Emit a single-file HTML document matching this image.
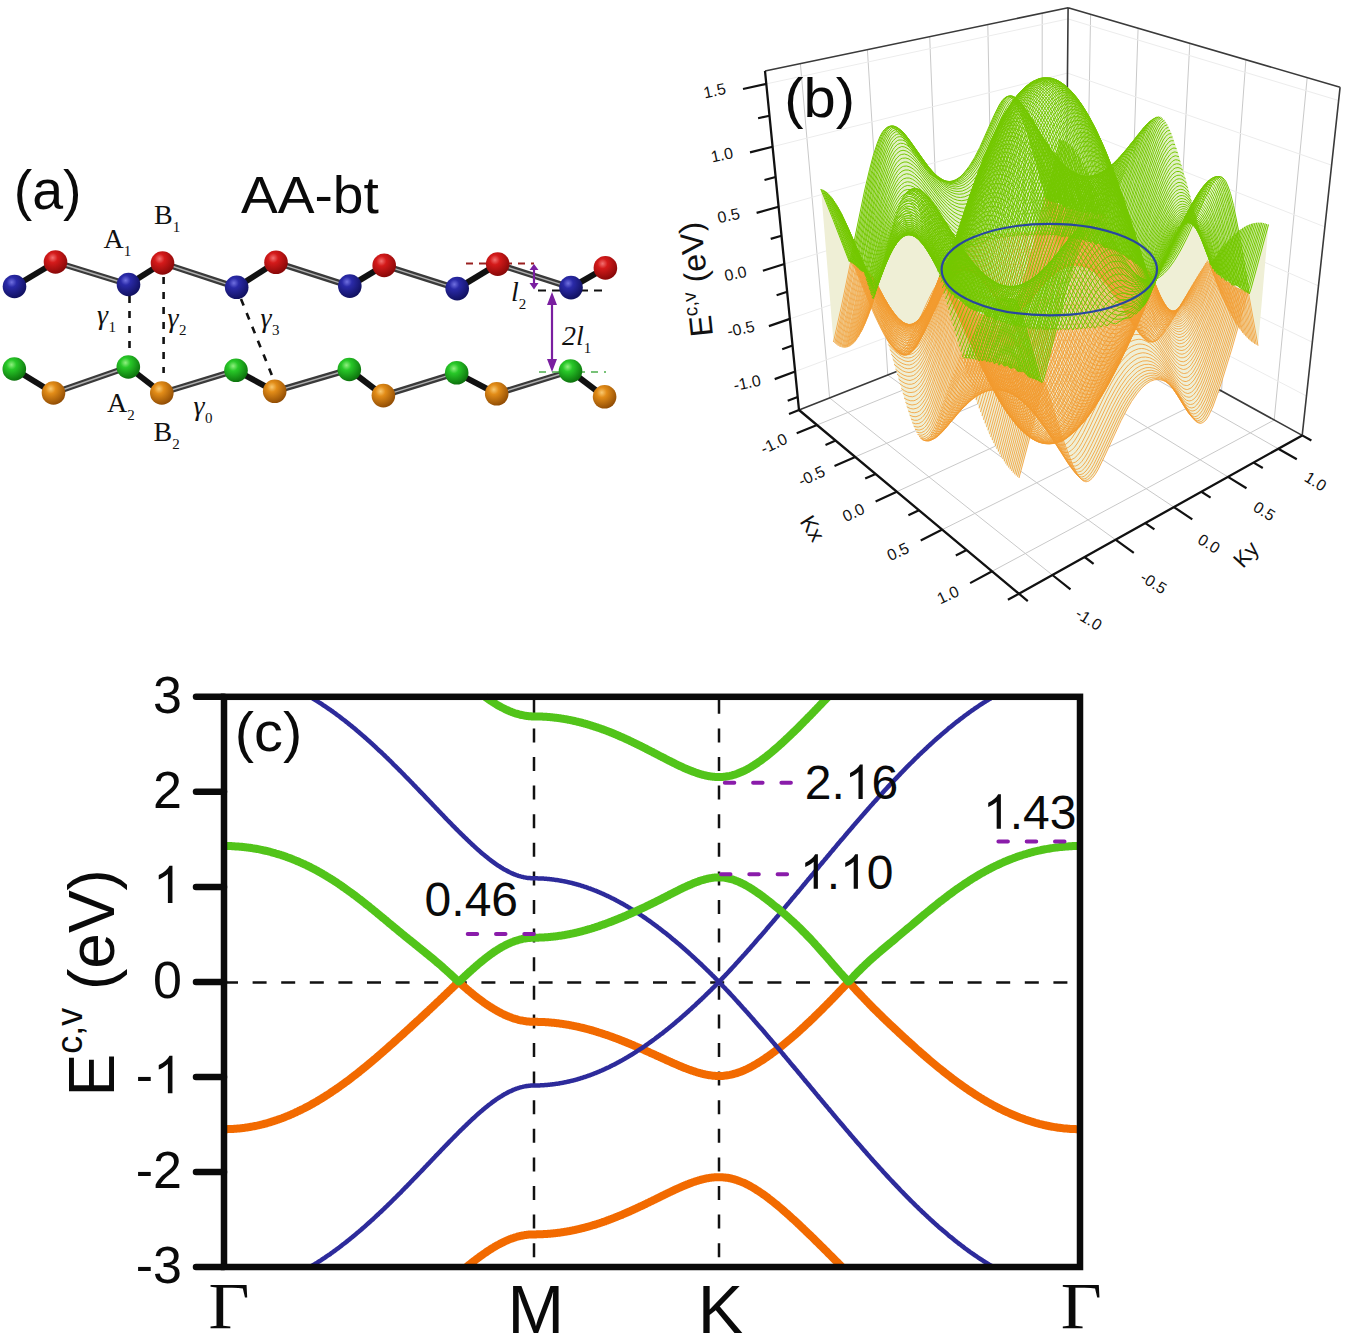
<!DOCTYPE html>
<html><head><meta charset="utf-8"><title>AA-bt band structure</title>
<style>html,body{margin:0;padding:0;background:#fff;}svg{display:block;}</style>
</head><body>
<svg width="1345" height="1334" viewBox="0 0 1345 1334">
<rect width="1345" height="1334" fill="#fff"/>
<defs>
<radialGradient id="gr" cx="0.38" cy="0.32" r="0.7"><stop offset="0" stop-color="#f27070"/><stop offset="0.3" stop-color="#d41a1a"/><stop offset="1" stop-color="#860808"/></radialGradient>
<radialGradient id="gb" cx="0.38" cy="0.32" r="0.7"><stop offset="0" stop-color="#7070e0"/><stop offset="0.3" stop-color="#2a2aa8"/><stop offset="1" stop-color="#10105e"/></radialGradient>
<radialGradient id="gg" cx="0.38" cy="0.32" r="0.7"><stop offset="0" stop-color="#90f080"/><stop offset="0.3" stop-color="#28c828"/><stop offset="1" stop-color="#0c700c"/></radialGradient>
<radialGradient id="go" cx="0.38" cy="0.32" r="0.7"><stop offset="0" stop-color="#f8c870"/><stop offset="0.3" stop-color="#e28c18"/><stop offset="1" stop-color="#904c04"/></radialGradient>
</defs>
<line x1="14.5" y1="286.5" x2="55.5" y2="262.0" stroke="#111" stroke-width="6"/>
<line x1="55.5" y1="262.0" x2="128.5" y2="284.5" stroke="#3a3a3a" stroke-width="6"/>
<line x1="55.5" y1="262.0" x2="128.5" y2="284.5" stroke="#b0b0b0" stroke-width="1.4"/>
<line x1="128.5" y1="284.5" x2="162.5" y2="263.0" stroke="#111" stroke-width="6"/>
<line x1="162.5" y1="263.0" x2="236.7" y2="287.3" stroke="#3a3a3a" stroke-width="6"/>
<line x1="162.5" y1="263.0" x2="236.7" y2="287.3" stroke="#b0b0b0" stroke-width="1.4"/>
<line x1="236.7" y1="287.3" x2="276.0" y2="262.3" stroke="#111" stroke-width="6"/>
<line x1="276.0" y1="262.3" x2="349.8" y2="286.1" stroke="#3a3a3a" stroke-width="6"/>
<line x1="276.0" y1="262.3" x2="349.8" y2="286.1" stroke="#b0b0b0" stroke-width="1.4"/>
<line x1="349.8" y1="286.1" x2="384.2" y2="265.4" stroke="#111" stroke-width="6"/>
<line x1="384.2" y1="265.4" x2="457.2" y2="288.6" stroke="#3a3a3a" stroke-width="6"/>
<line x1="384.2" y1="265.4" x2="457.2" y2="288.6" stroke="#b0b0b0" stroke-width="1.4"/>
<line x1="457.2" y1="288.6" x2="497.7" y2="264.1" stroke="#111" stroke-width="6"/>
<line x1="497.7" y1="264.1" x2="571.0" y2="287.6" stroke="#3a3a3a" stroke-width="6"/>
<line x1="497.7" y1="264.1" x2="571.0" y2="287.6" stroke="#b0b0b0" stroke-width="1.4"/>
<line x1="571.0" y1="287.6" x2="605.4" y2="267.9" stroke="#111" stroke-width="6"/>
<line x1="14.3" y1="369.0" x2="53.5" y2="393.0" stroke="#111" stroke-width="6"/>
<line x1="53.5" y1="393.0" x2="128.3" y2="367.0" stroke="#3a3a3a" stroke-width="6"/>
<line x1="53.5" y1="393.0" x2="128.3" y2="367.0" stroke="#b0b0b0" stroke-width="1.4"/>
<line x1="128.3" y1="367.0" x2="161.8" y2="393.0" stroke="#111" stroke-width="6"/>
<line x1="161.8" y1="393.0" x2="236.0" y2="370.3" stroke="#3a3a3a" stroke-width="6"/>
<line x1="161.8" y1="393.0" x2="236.0" y2="370.3" stroke="#b0b0b0" stroke-width="1.4"/>
<line x1="236.0" y1="370.3" x2="274.7" y2="391.3" stroke="#111" stroke-width="6"/>
<line x1="274.7" y1="391.3" x2="349.3" y2="369.5" stroke="#3a3a3a" stroke-width="6"/>
<line x1="274.7" y1="391.3" x2="349.3" y2="369.5" stroke="#b0b0b0" stroke-width="1.4"/>
<line x1="349.3" y1="369.5" x2="383.4" y2="395.6" stroke="#111" stroke-width="6"/>
<line x1="383.4" y1="395.6" x2="456.7" y2="372.8" stroke="#3a3a3a" stroke-width="6"/>
<line x1="383.4" y1="395.6" x2="456.7" y2="372.8" stroke="#b0b0b0" stroke-width="1.4"/>
<line x1="456.7" y1="372.8" x2="496.7" y2="393.8" stroke="#111" stroke-width="6"/>
<line x1="496.7" y1="393.8" x2="570.5" y2="371.0" stroke="#3a3a3a" stroke-width="6"/>
<line x1="496.7" y1="393.8" x2="570.5" y2="371.0" stroke="#b0b0b0" stroke-width="1.4"/>
<line x1="570.5" y1="371.0" x2="604.6" y2="396.8" stroke="#111" stroke-width="6"/>
<g stroke="#111" stroke-width="2.6" stroke-dasharray="7 8" fill="none">
<path d="M129.5 296V349"/>
<path d="M163.6 277V373"/>
<path d="M241 299L273 378"/>
</g>
<path d="M466 263.5H534" stroke="#9a2020" stroke-width="1.8" stroke-dasharray="7 6"/>
<path d="M538 290.5H606" stroke="#111" stroke-width="2.2" stroke-dasharray="8 6"/>
<path d="M539 372H606" stroke="#4caf4c" stroke-width="1.6" stroke-dasharray="7 6"/>
<circle cx="14.5" cy="286.5" r="11.8" fill="url(#gb)"/>
<circle cx="55.5" cy="262.0" r="11.8" fill="url(#gr)"/>
<circle cx="128.5" cy="284.5" r="11.8" fill="url(#gb)"/>
<circle cx="162.5" cy="263.0" r="11.8" fill="url(#gr)"/>
<circle cx="236.7" cy="287.3" r="11.8" fill="url(#gb)"/>
<circle cx="276.0" cy="262.3" r="11.8" fill="url(#gr)"/>
<circle cx="349.8" cy="286.1" r="11.8" fill="url(#gb)"/>
<circle cx="384.2" cy="265.4" r="11.8" fill="url(#gr)"/>
<circle cx="457.2" cy="288.6" r="11.8" fill="url(#gb)"/>
<circle cx="497.7" cy="264.1" r="11.8" fill="url(#gr)"/>
<circle cx="571.0" cy="287.6" r="11.8" fill="url(#gb)"/>
<circle cx="605.4" cy="267.9" r="11.8" fill="url(#gr)"/>
<circle cx="14.3" cy="369.0" r="11.8" fill="url(#gg)"/>
<circle cx="53.5" cy="393.0" r="11.8" fill="url(#go)"/>
<circle cx="128.3" cy="367.0" r="11.8" fill="url(#gg)"/>
<circle cx="161.8" cy="393.0" r="11.8" fill="url(#go)"/>
<circle cx="236.0" cy="370.3" r="11.8" fill="url(#gg)"/>
<circle cx="274.7" cy="391.3" r="11.8" fill="url(#go)"/>
<circle cx="349.3" cy="369.5" r="11.8" fill="url(#gg)"/>
<circle cx="383.4" cy="395.6" r="11.8" fill="url(#go)"/>
<circle cx="456.7" cy="372.8" r="11.8" fill="url(#gg)"/>
<circle cx="496.7" cy="393.8" r="11.8" fill="url(#go)"/>
<circle cx="570.5" cy="371.0" r="11.8" fill="url(#gg)"/>
<circle cx="604.6" cy="396.8" r="11.8" fill="url(#go)"/>
<g stroke="#7a1fa0" stroke-width="2.2" fill="#7a1fa0">
<path d="M534 268V285" />
<path d="M529.5 270L534 264L538.5 270Z M529.5 283L534 289.5L538.5 283Z" stroke="none"/>
<path d="M552 302V362"/>
<path d="M547 305L552 292L557 305Z M547 359L552 372L557 359Z" stroke="none"/>
</g>
<g font-family="'Liberation Serif', serif" fill="#111" font-size="28">
<text x="103.5" y="247.5"><tspan>A</tspan><tspan font-size="15" dy="8" dx="0.0">1</tspan></text>
<text x="154.0" y="224.0"><tspan>B</tspan><tspan font-size="15" dy="8" dx="0.0">1</tspan></text>
<text x="107.0" y="411.5"><tspan>A</tspan><tspan font-size="15" dy="8" dx="0.0">2</tspan></text>
<text x="153.5" y="440.5"><tspan>B</tspan><tspan font-size="15" dy="8" dx="0.0">2</tspan></text>
<text x="97.0" y="324.0"><tspan font-style="italic">&#947;</tspan><tspan font-size="15" dy="8" dx="0.5">1</tspan></text>
<text x="167.5" y="327.0"><tspan font-style="italic">&#947;</tspan><tspan font-size="15" dy="8" dx="0.5">2</tspan></text>
<text x="260.5" y="327.0"><tspan font-style="italic">&#947;</tspan><tspan font-size="15" dy="8" dx="0.5">3</tspan></text>
<text x="193.5" y="415.0"><tspan font-style="italic">&#947;</tspan><tspan font-size="15" dy="8" dx="0.5">0</tspan></text>
<text x="511.0" y="301.0"><tspan font-style="italic">l</tspan><tspan font-size="15" dy="8" dx="0.0">2</tspan></text>
<text x="562.0" y="345.0"><tspan font-style="italic">2l</tspan><tspan font-size="15" dy="8" dx="0.0">1</tspan></text>
</g>
<text x="13.7" y="208.9" font-family="'Liberation Sans', sans-serif" font-size="55.5" fill="#0a0a0a">(a)</text>
<text x="240.9" y="213.2" font-family="'Liberation Sans', sans-serif" font-size="51" textLength="137.9" lengthAdjust="spacingAndGlyphs" fill="#0a0a0a">AA-bt</text>
<path d="M829.6 397.9L800.4 63.6M1085.3 316.0L1090.6 14.3M817.0 425.0L1085.3 316.0M829.6 397.9L1052.4 575.0M887.8 375.0L867.4 49.7M1127.4 339.2L1138.1 28.2M855.2 456.9L1127.4 339.2M887.8 375.0L1115.5 539.7M942.4 353.4L929.7 36.6M1172.7 364.1L1189.8 43.3M896.8 491.7L1172.7 364.1M942.4 353.4L1173.9 507.1M993.8 333.2L987.8 24.5M1221.5 391.0L1245.9 59.7M942.3 529.6L1221.5 391.0M993.8 333.2L1228.0 476.9M1042.2 314.1L1042.2 13.2M1274.2 420.0L1307.2 77.6M992.1 571.3L1274.2 420.0M1042.2 314.1L1278.3 448.8" stroke="#c9c9c9" stroke-width="1" fill="none"/>
<path d="M795.2 371.5L1065.7 270.6M1065.7 270.6L1306.5 396.0M789.9 318.9L1066.1 223.9M1066.1 223.9L1312.3 342.2M784.4 264.0L1066.6 175.5M1066.6 175.5L1318.5 285.9M778.6 206.7L1067.0 125.3M1067.0 125.3L1324.9 226.9M772.6 146.7L1067.5 73.1M1067.5 73.1L1331.6 165.2M766.3 83.9L1068.0 18.9M1068.0 18.9L1338.6 100.5" stroke="#ececec" stroke-width="1" fill="none"/>
<path d="M765.0 71.0L1068.1 7.8M1068.1 7.8L1340.1 87.2M1340.1 87.2L1302.2 435.4M1068.1 7.8L1065.3 305.0M799.0 410.0L1065.3 305.0M1065.3 305.0L1302.2 435.4" stroke="#3a3a3a" stroke-width="1.6" fill="none"/>
<path d="M886.5 127.5 879.5 137.0 873.0 155.5 854.0 240.5 836.5 204.0 827.0 192.5 821.0 189.0 833.5 342.0 842.0 347.5 847.5 347.5 853.0 344.0 859.0 336.0 867.0 319.5 870.5 309.0 872.0 308.5 875.0 317.0 887.0 339.5 909.5 415.5 914.0 427.5 921.0 439.0 929.0 441.0 936.5 437.5 943.5 431.0 959.5 411.5 975.0 397.5 989.0 434.0 996.0 448.0 1006.0 464.5 1019.0 478.0 1030.0 437.5 1042.5 443.5 1055.5 443.5 1074.5 472.5 1082.5 480.5 1087.5 481.5 1093.0 477.5 1099.0 468.5 1118.5 425.0 1132.5 399.5 1141.0 388.5 1149.0 382.0 1154.5 379.5 1161.0 379.5 1166.5 382.0 1173.0 388.5 1187.5 412.0 1196.0 421.5 1200.5 423.5 1205.5 420.5 1213.0 406.5 1220.0 387.5 1237.5 328.5 1238.5 327.5 1250.5 341.0 1258.0 345.5 1268.5 224.5 1261.5 222.5 1254.0 223.0 1248.0 225.0 1239.0 230.5 1228.0 186.0 1224.5 179.5 1221.0 177.0 1216.5 178.5 1212.5 183.5 1196.0 217.5 1186.5 181.5 1171.5 133.5 1166.5 123.0 1161.0 117.0 1158.5 116.5 1155.0 118.0 1146.5 128.5 1114.0 197.0 1104.0 215.0 1092.0 181.0 1081.5 159.5 1073.0 147.5 1069.0 143.5 1060.0 139.5 1048.5 190.5 1046.5 195.0 1045.0 195.0 1036.0 160.5 1023.5 121.0 1016.0 103.5 1012.5 98.5 1009.5 96.5 1004.0 98.5 998.0 106.5 981.5 144.5 971.0 164.0 958.5 178.5 952.0 181.5 942.5 181.5 933.0 176.0 919.0 161.0 902.5 136.5 893.5 128.0 890.0 126.5Z" fill="#EFEFD6" fill-rule="evenodd"/>
<path d="M1049.0 77.5 1037.5 79.0 1027.5 84.5 1015.5 97.0 1008.0 96.0 1002.0 100.5 996.0 110.5 981.5 144.5 972.0 162.5 965.0 172.0 958.5 178.5 953.5 181.0 946.5 181.5 937.5 176.5 931.0 170.0 905.0 134.0 900.5 129.5 893.0 126.0 886.5 127.5 879.5 137.0 873.0 155.5 854.0 240.5 836.5 204.0 827.0 192.5 821.0 189.0 848.0 258.0 856.0 263.0 864.0 272.5 872.0 298.0 875.0 294.0 887.0 260.5 894.0 247.0 902.5 237.0 907.0 235.0 911.5 235.0 917.0 238.0 924.0 245.5 936.0 266.0 961.0 353.0 963.5 357.0 967.0 354.0 969.5 358.5 972.0 355.0 975.0 360.5 977.5 356.0 980.5 359.0 983.0 359.0 985.5 356.5 988.5 362.5 993.5 358.5 996.5 364.5 1001.0 360.5 1007.0 367.5 1011.5 365.0 1015.0 365.0 1020.0 373.0 1030.5 374.0 1043.0 379.5 1057.5 325.5 1058.5 325.5 1061.0 330.5 1063.5 324.5 1066.5 329.0 1069.0 325.5 1074.5 328.5 1077.0 324.0 1080.0 328.0 1085.0 324.5 1088.0 328.5 1091.0 324.0 1093.5 324.0 1096.0 327.5 1101.5 322.0 1107.0 326.0 1112.5 320.0 1116.5 321.5 1123.5 320.5 1131.0 316.0 1134.0 312.5 1136.5 313.5 1140.0 308.5 1145.0 304.5 1156.5 279.0 1169.0 268.5 1177.5 256.0 1193.0 225.5 1196.5 229.0 1201.0 238.0 1210.5 264.0 1216.0 272.5 1217.5 272.0 1219.5 275.5 1223.0 276.0 1227.5 282.0 1229.5 283.0 1235.5 282.5 1241.5 287.5 1249.0 291.5 1252.5 284.0 1268.5 225.0 1264.0 223.0 1256.5 222.5 1248.0 225.0 1239.0 230.5 1228.0 186.0 1224.5 179.5 1219.5 176.5 1214.0 177.0 1210.5 179.0 1202.5 187.0 1192.0 202.5 1178.0 152.5 1171.5 133.5 1166.5 123.0 1160.0 116.5 1152.0 119.5 1148.0 123.0 1123.5 153.0 1111.5 165.0 1099.5 136.5 1081.5 103.5 1065.5 85.5 1056.0 79.5Z" fill="#DDF0C0" fill-rule="evenodd" fill-opacity="0.80"/>
<path transform="scale(0.25)" d="M3334 1368l32-144 37-179 6 2 81 195 28 60 20 39 20 32 12 15 13 10 5 3 12 1 6-2 10-8 11-13 10-17 21-41 56-123 20-39 16-26 21-28 16-16 16-13 16-8 16-4 16 1 16 4 22 12 16 13 21 22 22 27 41 57 21 24 10 7 10 4 10-2 10-7 9-13 15-29 9-25 15-45 33-124 49-201 5 12 51 181M3339 1372l32-144 36-179 7 0 81 196 28 61 20 40 19 32 13 15 12 11 6 3 11 1 6-2 11-7 11-13 10-17 20-41 56-124 21-39 15-25 21-29 16-16 16-13 16-8 16-4 16 1 17 4 21 12 16 13 22 23 21 26 42 58 20 23 10 8 10 3 10-2 10-7 10-13 14-30 10-26 14-46 34-125 48-201 5 13 52 181M3343 1376l32-145 37-179 6 0 81 196 28 62 20 39 20 33 12 16 12 11 6 3 12 1 5-1 11-8 11-12 10-17 21-42 56-124 20-39 16-25 21-29 16-16 16-13 16-8 16-4 16 1 16 4 22 12 16 13 21 23 22 26 41 58 21 23 10 8 10 3 10-2 10-7 9-14 15-31 9-26 15-45 33-127 49-201 5 13 52 182M3347 1379l32-145 37-179 6-1 81 197 28 62 20 40 20 32 12 16 13 11 5 3 12 2 6-1 11-8 10-13 11-16 20-42 56-124 21-39 15-26 21-28 16-17 16-12 16-9 16-3 16 0 17 4 21 12 16 14 22 22 21 27 42 58 20 23 10 8 10 3 10-2 10-8 10-14 14-31 10-26 14-46 34-126 49-202 56 195M3351 1382l32-145 37-180 6 0 82 197 27 61 21 40 19 33 13 16 12 11 6 3 11 2 6-2 11-8 11-12 10-17 20-42 56-124 21-39 16-26 21-28 16-17 15-12 17-8 16-4 16 0 16 4 22 12 16 14 21 22 21 27 42 58 21 23 10 8 10 3 10-2 9-8 10-14 15-30 9-27 15-45 33-127 49-202 57 195M3355 1384l33-144 37-180 6 0 81 196 28 62 20 40 19 32 13 16 12 10 6 3 11 2 6-2 11-8 11-13 10-16 21-42 56-124 20-39 16-26 21-28 16-17 16-13 16-8 16-4 16 1 16 4 22 12 16 13 22 23 21 26 42 58 20 24 10 7 10 3 10-1 10-8 10-14 14-30 10-26 14-45 34-127 49-202 5 14 51 181M3359 1387l33-145 37-180 6 1 81 196 28 61 20 39 19 32 13 15 12 10 6 3 12 1 5-2 11-7 11-13 10-17 21-42 56-124 21-39 15-26 21-28 16-17 16-12 16-8 17-4 16 0 16 4 21 12 17 14 21 22 21 27 42 57 21 23 10 8 10 4 9-2 10-7 10-13 15-30 9-26 15-45 33-125 50-202 4 12 52 182M3363 1388l33-145 37-179 7 3 73 178 28 63 21 40 19 34 13 17 12 13 6 4 12 3 11-2 11-9 11-13 10-17 16-30 61-135 21-39 16-26 21-28 16-17 16-12 16-8 16-4 16 0 16 4 22 12 16 13 21 23 22 26 42 58 20 23 10 8 10 3 10-1 10-7 9-12 15-29 10-25 14-45 34-124 49-201 5 11 52 181M3368 1389l32-144 37-179 7 5 74 177 28 61 20 40 19 33 13 17 12 11 6 4 12 3 11-3 11-9 11-13 10-18 16-30 61-135 21-39 16-25 21-28 16-17 16-12 16-9 16-3 16 0 17 4 21 12 16 13 22 22 21 27 42 57 20 23 10 8 10 4 10-1 10-6 10-12 14-28 10-24 15-44 34-123 49-200 5 9 51 180M3372 1390l32-144 38-179 6 8 74 175 28 61 20 39 19 32 13 15 12 11 6 3 12 2 11-4 11-9 11-14 10-17 16-30 61-134 21-39 16-26 21-28 16-16 16-13 16-8 17-4 16 0 16 5 16 8 22 16 21 22 22 27 46 63 21 21 10 7 10 2 10-3 10-9 9-13 15-31 9-25 15-45 29-106 50-199 5 7 51 180M3376 1391l32-145 38-178 7 11 45 107 35 82 21 44 20 38 20 30 12 15 12 10 6 2 12 2 11-5 11-10 11-14 10-17 16-31 61-133 21-39 16-25 21-29 16-16 16-13 17-8 16-4 16 1 16 4 22 12 16 13 22 22 21 26 47 63 20 21 10 7 10 2 10-2 10-8 10-12 14-29 10-25 15-44 29-104 49-197 5 3 51 180M3380 1391l33-144 37-178 7 14 74 172 20 45 21 39 19 31 13 16 12 11 6 4 12 3 11-3 11-8 11-12 11-16 21-40 62-133 20-39 16-25 21-28 17-17 16-12 16-8 16-4 16 0 17 4 21 12 16 13 22 22 21 26 47 62 21 22 10 7 10 3 10-2 9-6 10-12 15-27 10-24 14-43 30-102 49-195 5 0 51 179M3384 1390l28-122 42-198 74 172 21 45 20 40 20 32 19 24 12 10 6 3 12 2 11-4 11-8 11-13 11-17 20-40 63-133 21-38 15-25 22-28 16-17 16-12 16-8 16-4 17 0 16 4 22 12 16 13 21 21 22 26 47 63 20 22 10 7 10 4 10-1 10-6 10-11 14-25 10-23 15-41 14-47 20-71 45-175 5-4 51 178M3388 1389l28-122 38-174 5-18 66 154 28 60 20 38 20 31 19 22 12 9 6 2 12 1 11-5 11-9 11-14 10-17 21-40 63-133 21-38 15-25 22-28 16-17 16-12 16-8 17-4 16 0 16 5 22 11 22 18 21 23 63 82 20 22 16 10 10 2 9-2 10-7 10-12 15-28 10-23 14-42 30-101 45-173 5-8 51 177M3391 1388l29-122 38-173 6-13 66 152 21 44 20 39 20 32 19 24 12 9 6 3 12 2 5 0 12-6 11-10 11-14 21-37 62-133 32-59 21-33 16-20 16-16 16-13 11-5 11-4 11-3 11 0 11 2 11 3 21 11 22 18 21 23 63 82 16 18 10 9 10 6 10 3 5 0 10-3 5-4 10-11 14-26 15-34 15-43 15-49 24-89 30-116 5-13 51 176M3395 1387l29-122 38-173 6-6 66 149 21 43 20 37 20 31 19 21 12 8 6 3 12 0 11-4 11-9 11-12 11-17 21-39 62-133 21-40 16-26 16-22 16-19 17-15 16-11 16-7 11-2 11 0 11 1 11 3 22 12 21 17 22 23 21 27 42 56 15 18 10 9 11 7 10 4 5 0 9-3 5-3 5-4 10-12 15-27 15-36 14-43 20-66 50-186 51 174M3399 1385l29-121 39-172 6 0 65 146 21 42 20 35 20 29 13 14 12 9 6 3 12 2 11-3 11-8 11-11 16-24 22-40 62-134 21-39 16-26 16-23 17-19 16-15 16-11 17-6 10-2 11-1 11 2 11 3 22 12 22 17 21 23 22 26 41 56 21 24 10 9 10 6 10 2 5 0 10-4 5-3 10-11 14-25 15-34 15-42 20-64 50-185 5 12 46 157M3403 1382l29-120 39-171 7 7 44 98 28 59 20 38 14 22 19 27 13 12 12 8 6 2 12 1 11-4 11-9 11-13 16-24 21-41 63-134 21-39 16-26 17-23 16-19 16-15 16-11 11-4 11-4 11-1 11 1 11 2 11 4 22 13 21 19 22 24 58 77 20 24 11 9 10 7 10 3 5 1 10-3 4-3 15-16 15-26 15-35 15-42 19-64 46-166 4 6 47 155M3407 1379l29-120 39-169 65 140 21 40 20 35 20 27 12 13 13 9 6 3 12 1 11-3 11-8 11-11 17-24 21-39 68-146 22-39 16-26 16-23 16-18 16-15 17-11 11-5 11-3 10-1 11 0 11 3 11 4 22 13 22 19 21 24 58 77 21 25 10 10 10 7 10 4 5 1 10-2 5-2 5-4 10-10 15-24 14-33 15-40 20-63 45-162 5-1 46 154M3411 1376l24-99 39-167 6-16 58 126 21 40 20 35 20 28 18 19 13 7 6 2 11 0 12-4 11-9 11-13 16-24 22-41 68-146 22-39 16-26 16-23 16-19 16-15 17-10 11-5 11-3 11-1 11 0 11 3 11 4 22 13 21 19 22 24 63 84 21 25 10 9 10 6 10 4 5 0 10-3 5-3 10-9 14-21 15-31 15-38 15-45 20-67 30-109 5-8 46 153M3415 1372l63-264 6-7 58 123 21 39 20 33 20 25 12 13 13 7 6 3 12 1 11-4 11-8 12-11 16-24 27-51 68-146 22-40 16-26 16-23 16-18 17-15 16-11 11-5 11-3 11-1 11 1 11 2 11 4 22 13 22 19 21 24 64 86 20 25 10 10 10 7 10 4 5 1 10-1 5-3 5-3 10-10 15-22 15-32 15-39 15-44 50-173 46 151M3419 1368l64-262 6 3 29 62 29 57 20 37 21 31 19 24 12 10 13 7 6 1 12 0 11-5 11-9 11-13 11-16 27-50 58-126 32-62 16-28 17-24 16-20 16-16 6-3 17 0 16-4 11-6 16-11 17 5 16 8 22 16 27 28 27 34 47 66 21 24 10 10 10 6 10 4 5 0 10-2 5-2 15-14 15-24 14-32 15-39 15-45 46-156 5 9 41 134M3422 1364l65-260 7 12 50 103 21 37 20 32 20 24 12 11 13 7 6 2 12 0 11-4 12-8 11-12 16-24 27-51 53-117 27-54 27-47 16-24 11-13 17 6 11 2 17 0 11-3 11-4 16-10 11-9 16-17 5-3 11 7 17 13 27 28 27 35 47 66 20 26 11 10 10 7 10 5 10 1 10-3 5-3 9-9 15-21 15-30 15-38 15-43 46-152 4 0 42 132M3426 1359l60-238 5-13 51 103 21 37 20 32 20 24 12 12 13 8 6 2 12 1 11-4 6-3 11-10 12-13 16-25 27-53 48-106 26-55 27-49 11-17 6-5 23 13 17 5 16 1 17-3 16-7 22-16 16-17 21-27 22 20 22 24 21 29 47 68 21 26 10 11 10 8 10 5 10 3 10-2 5-2 10-8 15-19 15-28 15-35 15-41 20-63 25-86 5-10 42 131M3430 1353l60-235 6-1 29 59 29 53 20 34 20 27 19 20 13 8 12 3 12 0 11-5 17-15 11-14 17-27 27-54 64-141 21-43 16-28 24 18 23 11 11 3 11 1 11-1 11-3 11-4 11-6 21-18 22-25 21-32 5-2 16 17 22 27 63 91 21 26 10 10 10 8 10 5 10 2 10-2 5-3 10-8 15-20 15-28 15-36 15-42 20-62 25-85 5 11 37 115M3434 1348l60-233 7 11 50 96 21 34 13 19 20 23 13 10 12 7 6 1 12 0 12-4 17-14 11-14 16-26 27-54 70-154 21-43 6-4 17 17 12 8 23 13 17 5 11 1 11-1 11-2 11-5 11-6 11-8 16-16 26-34 27-43 32 40 58 86 20 27 16 16 10 7 10 5 10 1 10-3 5-3 10-8 14-21 15-28 15-36 15-42 41-130 5 1 37 113M3437 1341l56-211 6-10 50 96 21 34 13 19 20 23 13 11 12 7 6 2 12 0 12-4 6-3 11-10 11-13 17-26 27-53 59-134 26-56 6-2 18 19 18 15 17 11 11 6 17 5 11 1 11-1 11-3 11-4 16-11 11-9 16-16 27-37 31-56 5 5 17 22 58 87 25 34 15 16 11 7 10 4 9 1 10-4 5-3 10-9 15-21 15-29 25-63 41-127 5-11 37 111M3441 1335l56-209 7 4 29 55 21 37 20 32 20 26 20 18 12 7 12 3 12-1 12-5 17-15 11-15 17-27 27-55 75-171 5-1 18 21 18 17 18 14 17 10 17 6 11 2 16-1 11-2 11-5 17-10 16-14 16-18 15-22 16-26 32-60 5 6 11 15 58 89 25 34 15 15 10 7 10 3 10 1 10-4 5-4 10-9 10-14 15-27 15-34 15-40 41-125 5 7 32 95M3445 1328l51-188 6-15 28 55 22 37 20 32 14 18 19 21 13 10 12 6 6 1 13-1 11-5 17-14 12-14 16-27 27-55 70-162 6-3 18 22 18 20 17 16 18 12 17 9 16 5 17 1 17-4 16-7 16-12 16-16 16-19 16-23 15-27 37-73 63 99 26 36 15 16 10 8 15 6 10 0 10-4 15-14 10-14 15-27 25-60 20-59 21-63 5-7 32 94M3449 1321l51-186 7 1 28 53 21 35 21 31 13 16 20 19 12 8 13 4 12 0 12-5 17-13 11-14 17-26 27-55 64-152 6-9 24 32 18 20 23 23 18 12 17 9 17 5 16 0 17-3 16-8 16-12 16-15 16-20 16-23 15-27 21-40 21-45 5-6 58 93 26 36 15 16 10 7 10 5 10 1 10-3 5-3 10-8 15-20 15-28 15-34 15-40 36-108 4 9 28 80M3452 1313l47-165 5-15 29 52 21 36 21 30 13 17 20 19 13 8 12 5 12 0 12-4 17-13 12-14 16-26 17-31 16-35 59-142 6 5 24 33 18 21 18 19 18 15 17 11 17 7 16 4 17-1 16-5 22-13 16-14 21-25 21-32 21-38 21-43 21-47 5 0 52 86 26 36 10 12 10 8 10 6 10 2 10-1 5-2 10-7 9-11 15-22 10-20 16-35 20-54 25-76 5-6 28 78M3456 1305l47-163 7 2 28 51 21 34 21 28 13 16 19 17 13 6 12 3 12-2 12-5 12-10 11-13 17-25 16-32 16-35 54-131 6-4 43 59 23 27 18 16 23 16 17 7 16 3 17-1 16-5 22-13 21-20 21-27 21-33 21-39 21-45 26-60 47 79 25 38 16 18 10 8 10 5 10 2 9-1 5-2 10-8 15-17 15-26 15-33 16-38 35-104 5 7 23 64M3460 1296l42-143 5-10 29 50 21 34 21 28 13 16 20 17 12 7 13 3 12-1 12-5 17-15 11-15 17-27 16-33 16-37 49-120 37 53 18 23 24 27 17 16 23 16 17 7 11 3 11 1 17-3 16-6 21-15 21-22 21-28 21-35 21-41 21-46 26-63 5-1 47 80 25 36 10 11 10 8 10 5 10 2 10-2 5-2 10-8 10-11 15-24 10-19 15-35 21-54 20-59 5-10 23 62M3463 1287l43-141 7 10 28 48 21 32 21 26 13 14 19 15 13 5 6 2 12-1 6-2 12-7 11-11 12-14 22-37 27-59 43-109 6-5 31 47 30 42 24 26 23 21 23 14 11 5 11 2 11 1 11-1 16-5 17-9 21-19 21-25 21-32 16-29 20-42 52-122 42 73 25 38 15 17 10 8 10 5 10 2 10-3 5-2 10-8 10-12 15-24 15-31 15-36 36-100 5 0 18 49M3467 1278l37-122 7 0 28 48 21 31 21 27 20 20 19 12 12 4 12 0 6-2 12-7 12-10 11-14 11-17 17-31 27-62 38-96 6 4 37 57 31 42 23 26 18 17 22 15 12 6 11 3 11 2 11 0 11-2 10-4 17-9 21-19 21-25 21-33 21-38 21-44 20-48 32-79 5 3 41 74 25 36 10 10 10 8 10 4 10 1 10-2 15-11 10-12 15-24 15-31 15-37 36-99 5 9 13 36M3471 1269l32-104 6-8 28 47 21 32 21 26 20 20 19 13 13 4 12 0 6-2 12-6 11-10 12-14 11-17 17-30 27-62 38-97 37 60 31 45 24 30 23 24 17 13 12 7 11 6 11 3 11 2 11 0 11-2 11-4 21-14 21-20 21-27 21-34 21-40 21-46 52-130 5-4 41 75 15 23 10 13 15 14 10 6 10 3 10-1 10-5 10-8 10-12 15-25 25-55 36-96 5-11 13 36M3474 1259l33-100 29 46 21 32 20 26 20 21 19 13 13 4 12 0 6-1 12-6 12-10 11-13 12-17 11-20 27-60 38-98 6-7 38 62 30 46 30 38 23 24 17 14 12 7 11 5 11 4 11 1 11 0 11-2 11-4 21-13 21-21 21-27 21-34 21-40 21-46 26-63 31-82 5-10 36 67 25 39 15 16 10 7 10 4 10 1 10-3 15-12 10-12 15-25 25-55 36-95 5-5 9 23M3478 1248l27-83 7 8 29 45 21 30 20 25 13 13 20 13 12 4 13 1 6-1 12-6 12-9 11-14 11-16 12-20 27-60 38-99 6-3 38 63 30 48 30 41 24 25 17 15 11 8 23 11 11 2 11 1 10-1 11-3 11-5 11-7 21-18 21-26 26-42 21-41 26-58 26-65 36-97 41 77 15 23 10 12 15 15 10 5 10 2 10-2 10-5 9-9 10-12 15-25 26-55 36-95 4 0 5 11M3482 1237l21-66 7 6 29 44 21 30 20 24 14 13 19 14 13 5 12 0 6-1 12-5 12-9 12-13 11-17 11-19 28-60 38-101 6 0 44 76 31 48 29 41 24 26 17 15 11 8 23 10 11 3 11 0 10-1 11-3 11-5 11-7 21-18 21-26 26-42 21-41 26-59 26-65 41-113 6 7 35 68 15 23 10 13 15 14 10 5 10 2 9-2 10-6 10-9 10-13 10-16 15-29 16-35 35-94 5 3M3485 1226l17-49 6 4 29 44 21 29 21 25 13 13 20 14 12 5 13 1 12-3 12-7 12-11 11-15 17-28 28-60 38-101 6 1 50 88 37 58 24 32 23 26 17 15 11 8 23 10 11 3 11 0 10-1 11-3 11-5 11-7 10-8 16-16 21-28 26-45 21-42 26-60 26-68 42-115 5 6 35 69 15 23 10 13 15 13 10 5 9 2 10-2 10-6 10-10 10-13 15-25 25-55 36-93M3489 1215l11-32 7 3 29 43 21 29 20 25 14 13 19 14 13 5 12 2 13-3 12-7 11-10 12-15 11-18 17-32 16-38 39-102 6 1 50 90 31 51 30 43 23 27 18 17 11 9 22 12 17 4 11 1 11-1 10-3 11-5 11-7 10-9 16-16 21-28 26-44 26-54 26-63 26-69 42-117 5 6 35 69 20 30 15 16 10 6 9 3 10 0 10-4 10-8 10-12 15-23 25-53 36-90M3493 1203l5-16 7 5 29 42 21 29 21 25 20 19 13 9 13 5 12 1 12-2 12-6 12-11 12-14 17-28 11-22 16-38 38-104 6 0 51 93 31 52 30 45 24 29 17 18 11 10 17 11 11 5 17 5 11 0 11-1 10-3 11-5 11-7 10-8 16-17 26-36 26-47 26-56 26-64 68-190 5 8 30 61 15 25 10 14 15 15 9 6 10 3 10-1 10-4 10-9 10-11 15-24 25-52 31-77M3496 1191l7 7 50 71 21 24 14 14 19 14 13 6 13 2 12-2 12-6 12-11 11-14 17-27 12-23 16-38 38-104 6-3 51 95 31 54 30 47 30 37 17 18 11 10 23 14 16 6 11 1 11 0 11-2 11-4 10-6 11-8 16-15 10-12 16-22 26-45 26-55 26-63 31-85 47-135 30 62 15 27 10 15 15 17 9 8 10 5 10 0 10-3 10-6 10-11 15-21 25-50 31-74M3502 1205l50 70 21 25 13 13 20 15 13 6 12 2 13-2 12-6 12-10 11-13 17-28 23-47 22-57 21-62 6-8 51 98 31 56 31 48 29 40 17 19 12 11 17 13 11 6 16 6 11 1 11 0 11-2 11-4 16-10 10-9 16-16 26-37 26-47 26-57 26-65 26-72 47-138 5-11 30 64 15 27 10 15 15 17 9 8 10 4 10 0 10-3 10-7 10-11 9-14 11-16 15-30 30-72M3507 1224l29 40 21 27 21 23 13 12 20 13 13 4 12 1 13-4 12-8 11-11 12-16 17-29 11-24 17-40 38-107 58 112 31 56 30 49 29 41 18 19 11 10 17 13 11 6 16 6 11 2 11-1 11-2 11-4 15-10 11-8 16-17 26-37 26-47 26-57 26-66 31-87 47-141 5-6 20 45 15 30 15 25 10 13 9 11 10 8 10 3 5 1 10-2 9-5 10-9 15-20 10-17 15-30 26-59M3513 1243l43 56 20 23 14 12 20 13 12 5 13 0 12-3 12-7 12-12 12-15 17-29 11-24 17-40 38-110 6 7 58 114 37 67 30 48 23 32 18 19 11 11 17 12 11 7 16 5 11 2 11 0 11-3 11-4 15-10 11-8 16-17 26-37 26-47 26-58 31-80 31-90 47-143 6 2 29 65 15 27 10 15 10 12 9 9 10 6 10 1 9-2 10-6 10-9 10-13 10-16 15-28 26-57M3519 1261l42 54 21 22 13 11 20 11 13 3 12-1 12-5 12-9 12-13 11-17 12-21 11-23 17-41 38-111 6-1 58 116 31 59 30 51 30 43 28 32 17 14 11 7 17 8 11 2 16 0 11-2 10-4 16-10 11-9 16-16 26-37 15-28 16-31 26-60 31-82 79-237 34 76 20 35 10 13 9 11 10 7 10 3 9-1 10-4 10-8 10-11 10-15 15-27 25-54M3525 1280l21 28 21 24 20 20 14 10 19 9 13 1 12-3 12-6 12-11 12-15 11-18 11-23 12-25 16-42 33-97 5-13 65 132 31 59 30 52 30 43 29 33 16 14 11 7 17 7 11 3 16 0 11-2 10-5 16-9 11-9 15-17 27-37 15-28 16-31 26-60 26-69 31-91 53-164 5-8 29 69 15 29 10 16 9 14 10 10 10 7 9 3 10-1 10-5 10-8 10-12 20-32 25-53M3530 1300l22 26 20 23 21 18 13 9 13 5 12 2 13-2 12-7 12-10 12-15 11-18 17-34 28-71 32-100 7 6 58 121 37 73 31 52 29 43 29 33 16 14 12 7 16 7 11 3 16 0 11-2 10-5 16-9 11-9 15-17 26-38 16-27 16-32 25-60 32-84 31-93 53-167 5 4 25 59 24 48 9 15 10 11 10 8 9 5 10 1 10-3 10-7 10-10 19-30 26-51M3536 1319l35 40 20 18 14 9 13 6 6 2 13 0 12-4 12-8 12-12 11-17 12-20 11-23 28-71 32-101 6-8 65 137 31 62 31 55 29 45 18 22 17 18 16 15 12 7 16 7 11 3 16 0 11-3 10-4 16-10 11-9 15-17 26-37 16-28 15-32 26-60 32-84 31-95 53-169 5-13 25 62 24 50 10 16 9 13 10 10 9 6 10 3 10-2 10-5 9-9 10-12 10-16 25-48M3542 1339l35 38 20 16 13 8 13 4 13 1 12-3 12-8 12-12 12-16 11-20 17-36 27-74 33-104 6 8 59 127 38 76 30 54 29 46 18 22 17 19 16 14 12 7 16 7 11 3 16 0 11-2 10-5 16-10 16-14 15-18 26-40 16-29 15-33 26-63 32-87 31-96 53-172 5 1 30 73 24 48 9 15 10 11 14 10 10 2 5 0 9-4 10-8 10-11 10-14 25-46M3548 1358l21 23 13 13 20 15 13 7 13 3 13-1 12-5 12-10 12-13 11-18 12-22 11-24 28-75 32-105 6-8 59 129 38 79 36 67 29 46 18 22 17 19 16 14 11 7 17 7 11 3 16 0 11-2 10-5 16-10 16-14 15-18 26-41 16-29 15-33 26-63 32-87 31-98 53-174 6-14 24 64 24 54 19 32 10 11 9 7 10 4 5 0 9-2 10-6 10-10 10-13 10-16 15-28M3553 1378l21 22 14 12 20 14 13 5 12 1 13-2 12-7 12-11 12-16 11-19 23-50 27-77 33-108 6 7 65 145 38 77 30 56 29 46 18 22 17 19 16 14 11 8 17 7 11 2 16 1 10-3 11-4 16-10 16-15 15-18 26-40 16-30 15-33 31-77 32-90 31-100 54-177 5 4 24 64 24 54 19 32 14 14 10 6 9 1 10-3 10-7 9-10 10-13 20-35M3559 1398l21 20 13 12 14 8 13 6 12 2 13-2 12-6 12-11 12-15 11-19 23-49 22-62 38-125 6-13 59 134 38 82 36 70 30 49 17 23 17 20 17 16 11 8 16 9 17 5 16 0 10-3 11-4 16-10 15-15 16-18 26-41 16-29 15-34 26-63 31-89 37-116 54-180 5-9 29 79 19 44 19 34 9 13 10 8 9 5 5 1 10-1 9-6 10-9 10-12 20-33M3565 1417l20 20 14 11 13 7 13 4 13 1 12-4 12-8 12-12 18-27 11-22 11-26 28-79 38-129 6 1 59 136 38 83 36 70 30 49 17 24 17 20 17 16 11 8 16 9 17 4 16 0 10-2 11-4 16-10 15-15 16-19 16-23 15-27 16-31 15-34 31-81 32-92 32-103 53-183 5 10 29 80 19 45 19 33 14 17 9 6 5 2 10 0 9-4 10-7 10-12 20-31M3571 1437l20 19 14 9 13 7 13 3 12-1 12-5 13-10 11-14 12-18 11-23 23-55 27-84 32-115 7 13 66 153 31 69 36 71 30 49 17 24 17 20 17 16 11 8 16 9 17 5 16 0 10-3 11-4 16-10 15-15 16-19 15-23 16-27 15-31 16-35 31-80 32-94 31-103 54-185 5-2 29 83 24 57 18 33 14 16 10 6 5 1 9 0 10-5 15-13 19-30M3576 1457l21 17 13 9 13 5 13 2 12-2 13-7 6-5 12-14 11-18 12-22 22-55 27-84 33-116 5-11 66 157 38 84 36 72 30 49 17 24 17 20 17 16 11 8 16 9 16 5 16 0 11-3 11-4 15-10 16-15 16-19 15-23 16-27 15-31 16-35 26-67 31-92 37-121 54-187 6-13 28 85 19 49 19 39 9 15 9 11 10 8 9 3 5 0 10-3 14-12 10-12 10-15M3582 1477l20 16 14 8 13 4 12 0 13-3 12-9 18-21 17-31 22-55 28-84 37-137 7 0 59 144 38 86 37 75 17 32 18 28 17 24 17 21 17 16 11 8 16 9 16 4 11 1 16-3 11-5 15-10 16-15 16-19 15-23 16-27 15-31 16-36 31-81 32-94 37-124 54-190 5 11 28 86 19 48 18 39 14 21 10 9 9 4 5 1 9-2 15-10 10-11 10-14M3588 1496l13 11 14 8 13 5 12 2 13-4 12-7 12-12 12-17 11-22 12-25 22-61 27-90 32-121 7 11 59 145 44 101 37 72 29 50 17 24 17 21 17 16 11 8 16 9 16 4 11 1 16-3 10-5 16-10 16-15 15-19 16-23 16-27 15-32 16-35 31-82 32-95 37-124 54-193 5 2 28 88 24 62 13 30 14 23 10 10 9 6 5 2 9 0 5-2 10-7 9-10 10-13M3594 1516l13 10 13 7 13 4 13 0 12-4 12-10 12-13 12-19 11-23 11-27 23-64 21-73 33-122 5-17 60 149 44 103 37 75 17 33 18 28 17 25 17 20 17 16 16 12 16 7 17 3 10 0 16-5 11-5 15-12 16-16 16-21 15-24 16-29 31-70 26-69 31-96 38-125 54-194 5-8 29 90 18 53 18 44 14 25 10 12 9 7 9 4 5 0 5-1 9-6 10-9 10-12M3599 1535l14 10 13 6 13 3 12-1 13-6 6-5 12-13 11-18 17-36 22-60 28-90 38-144 5-8 60 150 44 104 37 76 18 33 17 28 17 25 17 20 17 16 16 12 16 8 16 3 11-1 16-4 11-6 15-12 16-16 15-21 16-24 16-29 31-70 31-85 32-98 32-109 54-196 6-17 28 93 18 55 19 46 9 19 9 15 14 15 9 5 5 1 5-1 9-4 10-8 10-12M3605 1554l13 9 13 6 13 1 13-2 12-7 6-6 12-15 11-20 12-24 11-28 22-66 27-96 32-126 7 0 66 168 44 103 30 62 23 43 29 43 17 21 11 11 17 13 11 7 16 6 10 1 16-1 16-6 16-11 21-20 15-21 16-25 15-29 21-45 32-80 36-111 43-146 55-200 5 12 28 93 18 55 18 46 14 26 14 18 9 6 5 2 4 0 10-3 10-7 9-11M3611 1573l13 8 13 5 13 1 12-4 12-9 6-6 12-17 12-21 11-26 11-29 22-69 27-98 32-129 7 8 59 154 38 92 31 66 30 57 17 29 17 25 17 20 11 11 17 14 10 6 17 6 10 2 16-2 16-6 16-10 21-21 15-21 16-25 15-29 21-45 16-39 21-57 37-114 37-129 55-202 5 5 28 95 23 70 13 35 14 28 14 20 9 8 4 2 5 1 10-2 9-6 10-10M3616 1592l13 7 13 4 13 0 6-2 13-8 6-6 11-15 12-21 11-25 11-29 22-68 27-99 38-152 67 172 31 77 37 82 30 57 17 29 17 24 17 21 11 11 16 14 11 6 17 6 10 1 16-1 16-6 16-11 21-21 15-20 16-25 15-30 21-45 16-38 21-58 37-114 37-130 55-204 5-1 28 97 23 72 18 47 13 28 14 18 9 7 5 2 5 0 9-2 15-13M3622 1610l13 7 13 3 13-2 6-2 12-9 6-7 12-17 11-22 22-57 22-71 22-80 38-152 5-19 60 159 38 95 37 82 30 57 17 29 17 25 17 20 11 12 16 13 11 6 16 6 11 2 16-2 16-6 16-10 20-21 16-21 16-25 15-30 21-45 31-81 37-112 43-149 55-205 6-8 27 99 23 74 18 50 13 29 14 21 9 8 5 2 4 1 10-1 5-3 9-8M3627 1627l14 7 12 2 13-3 6-3 6-4 12-14 12-18 11-24 17-43 22-70 27-101 38-155 5-13 54 144 38 97 37 84 30 60 17 30 17 27 17 22 11 12 17 15 11 7 16 8 11 2 16 0 16-4 15-9 21-19 16-20 15-24 16-28 21-43 15-38 21-56 37-113 43-149 56-206 5-14 28 100 22 76 18 52 13 31 14 23 9 9 5 3 4 2 10 0 4-2 10-7M3633 1644l13 6 13 1 12-3 7-4 6-5 11-15 18-32 16-42 22-69 27-101 44-179 6-7 53 145 38 98 37 84 30 60 17 31 17 26 17 22 11 12 17 15 11 8 16 7 11 3 16 0 15-5 16-9 21-19 16-20 20-32 16-30 21-45 16-39 21-58 37-116 38-132 60-227 28 102 22 78 18 53 13 33 14 25 9 11 4 3 10 4 4-1 5-1 10-7M3639 1661l13 5 12 1 13-5 6-4 6-6 12-16 17-34 22-62 22-74 27-105 38-159 6-2 53 146 38 98 37 85 36 70 28 47 17 22 11 12 17 15 11 8 16 7 11 3 16 0 15-5 16-9 21-19 16-20 20-33 16-29 21-46 15-39 22-58 37-116 43-153 56-210 49 180 18 55 13 35 14 26 13 16 10 5 4 0 5-1 9-5M3644 1676l13 5 13 0 12-6 6-5 6-6 12-17 17-37 22-63 22-76 27-107 38-161 6 2 60 164 44 112 30 68 24 47 17 31 17 26 17 22 11 13 17 15 11 7 16 8 10 2 16 0 16-5 16-9 21-19 15-19 21-33 16-30 21-46 15-39 22-58 37-116 43-154 56-212 5 11 27 104 22 79 13 42 13 36 14 28 13 18 9 6 5 1 5-1 9-5M3649 1691l13 4 13-1 12-6 6-6 6-7 12-18 17-38 22-66 22-78 27-109 38-162 6 6 53 148 45 114 30 71 30 60 17 31 17 26 17 22 11 13 17 15 11 7 16 8 10 2 16 0 16-4 16-10 21-19 15-19 21-33 16-30 21-46 15-39 22-58 37-117 43-154 56-214 5 8 32 122 22 78 13 41 13 35 13 27 9 12 5 4 9 4 5 0 9-4M3655 1705l13 3 6 0 13-4 6-5 6-6 11-16 12-23 11-27 22-68 22-80 27-110 38-163 6 9 53 149 45 114 30 71 30 60 17 31 17 27 17 22 11 12 17 15 11 8 16 7 10 3 16 0 16-5 16-9 21-19 15-20 21-33 16-30 21-46 15-39 22-58 37-118 44-154 55-214 5 4 49 188 18 57 13 36 13 28 9 13 5 5 9 5 4 0 10-3M3660 1717l13 3 6 0 13-5 6-5 6-6 11-18 12-24 11-28 22-70 22-81 65-276 6 13 54 149 38 100 36 86 30 60 17 31 17 27 17 22 11 13 17 15 10 7 17 7 10 3 16 0 16-5 16-9 21-19 15-20 21-33 16-30 21-46 15-39 22-59 37-117 44-155 56-215 5 2 49 189 17 59 13 37 13 29 14 19 9 6 4 1 10-3M3665 1728l13 3 7 0 12-6 6-5 6-7 12-19 11-24 11-30 22-71 22-82 65-278 7 15 53 150 38 100 36 86 30 61 17 31 17 26 17 23 11 12 17 15 10 8 17 7 10 3 16-1 16-4 16-10 21-19 15-20 21-33 16-29 21-47 16-39 21-59 37-117 44-155 56-217 5 0 49 191 17 60 13 38 13 30 14 20 9 7 4 1 10-2M3670 1738l13 3 7-1 12-6 6-6 6-7 12-19 11-26 11-30 22-72 22-83 65-279 60 167 32 84 36 89 30 63 17 32 18 28 16 24 12 13 16 17 11 8 16 9 11 4 16 1 16-3 15-8 21-17 16-18 21-32 16-28 20-45 16-38 21-57 22-63 21-70 44-155 56-217 6-2 53 208 17 58 13 37 13 28 9 13 9 7 4 1 10-1M3676 1746l12 3 7-1 12-7 6-6 6-7 12-20 17-41 22-69 21-81 28-112 43-191 54 151 38 102 36 89 30 63 17 33 18 28 16 24 12 13 16 16 11 9 16 9 11 3 16 2 16-3 15-8 21-18 16-18 21-31 16-29 21-44 15-38 22-57 21-64 21-70 44-156 57-217 5-3 53 209 17 59 13 37 13 29 9 13 9 8 4 2 10-2M3681 1753l12 2 7-1 12-7 6-6 6-8 12-20 17-41 22-70 22-82 27-112 43-191 54 152 38 102 37 90 29 62 18 33 17 28 16 24 12 13 16 17 11 8 16 9 11 4 16 1 16-3 15-8 21-18 16-18 21-31 16-29 21-44 15-39 22-57 21-63 22-70 44-156 56-218 5-4 53 210 17 59 13 38 13 29 9 14 9 8 4 1 10-1M3686 1757l12 3 7-1 12-7 6-6 6-8 12-20 17-42 22-70 22-82 27-113 44-191 53 152 38 103 37 89 29 63 18 32 17 29 16 23 12 14 16 16 11 9 16 9 11 3 16 2 16-4 15-7 21-18 16-18 21-32 16-28 21-45 15-38 22-57 21-64 22-70 44-156 57-218 5-4 52 210 17 59 13 38 13 29 9 14 9 8 5 2 9-1M3690 1760l13 3 7-1 12-7 6-6 6-8 12-20 17-41 22-71 22-82 27-112 44-192 53 152 38 103 37 89 29 63 18 33 17 28 16 24 12 13 16 17 11 8 16 9 11 3 16 2 16-3 15-8 21-18 16-18 21-31 16-29 21-45 16-38 21-57 21-64 22-70 44-156 57-219 5-3 53 210 17 59 13 37 12 30 9 13 9 8 5 2 9-1M3695 1761l13 3 6-1 13-7 6-6 6-7 11-20 17-41 23-70 22-81 27-113 44-192 53 152 38 103 37 89 29 63 18 32 17 28 16 24 12 14 16 16 11 9 16 9 11 3 16 2 16-4 15-8 21-17 16-18 21-32 16-29 21-44 16-39 21-57 22-64 21-70 45-156 56-218 6-3 52 209 17 59 13 37 13 29 9 14 9 8 4 1 9-1M3700 1761l13 3 6-1 12-7 7-5 6-8 11-19 12-25 11-31 22-73 22-83 66-282 60 168 31 85 37 89 29 63 18 33 17 28 16 24 12 13 16 17 11 8 16 9 11 3 16 2 16-4 15-7 21-18 16-18 21-32 16-28 21-45 16-39 21-57 22-64 22-70 44-156 57-218 5-2 52 209 17 58 13 37 13 28 9 13 9 7 4 2 10-2M3705 1759l12 3 7-1 12-6 6-5 6-7 12-19 12-25 11-30 22-71 22-83 67-281 6 16 46 132 38 103 37 89 29 63 18 32 17 29 17 23 11 14 16 16 11 9 16 9 11 3 16 1 16-3 15-8 21-17 16-19 21-31 16-29 21-45 16-38 21-57 22-64 22-70 44-157 57-218 5 0 48 192 17 60 13 38 13 31 13 21 9 6 5 1 9-2M3709 1755l13 4 6-1 13-5 6-5 6-7 12-18 11-24 12-29 22-70 22-82 67-279 6 13 53 150 38 100 36 87 29 61 17 31 17 26 17 23 11 12 17 15 10 8 16 7 11 2 16 0 16-5 16-9 21-20 16-20 21-33 15-30 22-47 16-40 21-59 38-118 45-156 57-218 5 2 48 191 17 59 13 37 13 30 13 19 9 6 4 1 10-3M3714 1750l13 4 6 0 13-5 6-4 6-7 12-17 11-23 12-28 22-69 22-81 28-111 39-166 7 10 52 150 44 116 30 71 29 60 17 31 17 27 17 22 11 13 17 15 10 7 17 8 10 2 16 0 16-5 16-9 21-20 16-20 21-33 16-30 21-47 16-40 21-59 38-119 45-156 57-217 5 5 48 189 17 58 13 36 13 29 9 13 4 5 9 5 5 0 9-3M3718 1744l13 4 13-1 12-7 6-5 6-8 12-19 18-38 22-68 23-79 27-110 39-165 7 7 52 149 44 115 30 71 29 61 18 31 16 26 17 23 11 12 17 15 10 8 17 7 10 2 16 0 16-5 16-9 21-20 16-20 21-33 16-30 21-47 16-40 22-59 38-118 45-156 57-217 5 8 30 123 22 79 13 42 12 35 14 27 8 12 5 4 9 5 5 0 9-5M3723 1737l13 4 13 0 12-6 6-5 6-7 12-18 17-37 23-65 23-77 28-109 39-164 6 3 59 166 43 112 30 69 23 48 18 31 17 26 16 23 11 12 17 15 11 7 16 8 10 2 16 0 16-5 16-9 21-20 16-20 21-33 16-31 21-46 16-40 22-59 38-118 45-156 57-216 5 11 27 105 21 80 13 42 13 37 13 28 13 19 9 6 5 1 4-1 10-5M3727 1729l13 5 13 0 13-5 6-4 6-7 12-16 17-35 23-63 23-76 28-107 39-163 6-1 53 148 37 99 36 86 35 71 29 47 16 22 11 12 17 15 11 8 16 7 10 2 16 0 16-5 16-9 21-20 16-20 21-33 16-30 21-47 17-40 21-59 39-118 44-155 58-215 48 182 17 56 13 35 13 27 9 12 5 5 9 5 4 0 5-1 10-6M3732 1720l13 5 13 1 12-4 6-4 7-5 12-15 17-33 18-44 22-71 28-104 46-182 6-7 52 147 37 99 37 86 29 60 17 31 17 27 16 22 11 12 17 15 11 8 16 7 11 2 16 0 15-5 16-9 21-20 16-20 21-33 16-31 22-46 16-40 22-59 38-118 39-135 64-232 26 103 22 79 17 55 13 33 13 25 9 11 4 4 10 4 4 0 5-2 10-7M3736 1710l13 6 13 2 13-3 6-3 6-5 12-14 12-19 12-25 17-45 23-72 28-103 40-159 6-12 52 146 38 98 36 86 29 60 17 30 17 27 17 22 11 13 16 15 11 7 16 7 11 3 16-1 16-5 15-9 22-20 15-20 16-24 16-29 22-45 16-38 21-57 39-116 39-132 64-231 5-15 26 102 22 77 17 53 13 32 14 23 8 10 5 3 5 2 9 0 5-2 9-8M3741 1699l13 7 13 3 12-2 7-3 12-10 6-6 12-18 12-23 23-59 23-73 28-104 34-135 6-18 59 162 37 96 36 83 29 57 17 30 17 25 16 21 11 11 17 13 10 7 17 6 10 1 16-2 16-6 16-11 21-22 16-22 16-25 16-30 21-47 33-83 38-115 45-152 58-211 6-9 26 101 22 76 17 50 13 30 13 21 9 9 5 2 4 1 10-1 5-3 9-8M3745 1688l13 8 13 3 13-1 6-2 13-8 6-6 12-16 12-22 12-26 11-30 23-71 29-101 40-157 58 159 37 96 36 82 29 58 17 29 17 25 16 21 11 11 17 14 11 6 16 6 10 1 16-2 16-6 16-11 21-22 16-21 16-26 16-30 22-47 16-39 22-59 38-118 40-133 58-209 5-3 26 99 22 74 17 48 14 28 13 19 9 8 5 1 4 1 10-3 14-12M3749 1677l14 8 13 4 13 0 12-4 13-9 6-7 12-17 12-23 23-57 23-71 29-102 34-133 6 9 58 158 37 93 30 68 29 57 17 29 17 25 17 21 11 11 16 14 11 6 16 6 11 1 16-2 16-6 15-11 22-22 16-21 16-26 16-30 21-47 16-39 22-59 39-117 40-133 58-208 4 4 27 97 22 72 13 35 13 29 13 21 9 8 5 2 5 1 9-2 10-6 10-10M3754 1665l13 8 13 6 13 1 13-3 12-8 7-6 12-16 12-20 11-25 12-30 23-68 29-100 34-131 7 1 58 156 43 107 29 66 29 55 28 44 17 20 11 12 16 13 11 6 16 6 11 1 16-1 16-7 16-11 21-22 16-21 16-26 16-30 22-46 32-83 39-115 45-150 58-206 5 11 26 96 18 56 17 47 13 27 14 18 9 6 5 2 4 0 10-3 10-7 10-11M3758 1652l14 10 13 6 13 3 13-2 12-7 6-5 13-14 12-19 17-37 24-63 29-94 40-149 6-8 58 155 43 106 35 77 17 33 18 29 16 25 17 20 16 17 17 11 16 8 16 2 11 0 16-5 10-6 16-13 16-17 16-21 16-26 16-30 33-72 33-88 33-101 34-112 64-222 26 95 18 56 17 48 9 19 9 16 14 16 9 5 5 0 4 0 10-4 10-9 10-12M3763 1640l13 10 14 7 13 4 12-1 13-5 6-4 12-13 13-17 12-22 11-26 24-64 23-74 40-147 6-16 58 152 37 92 36 79 17 34 17 30 17 27 17 22 16 17 17 13 16 9 16 4 11 1 16-4 10-5 16-11 16-15 16-20 16-24 16-29 17-33 16-37 33-85 33-98 40-130 58-202 5-9 27 93 17 54 18 45 13 26 9 12 10 8 9 4 5 0 4-1 10-6 10-9 10-13M3767 1627l14 11 13 8 13 4 13 1 13-3 12-9 13-13 12-18 12-23 11-26 24-64 29-94 35-126 6 12 58 150 42 102 35 74 29 51 17 24 16 21 17 16 11 8 16 9 16 4 11 0 16-3 11-5 16-11 16-15 16-20 16-24 16-29 16-33 16-37 33-84 34-99 40-129 58-200 5 0 26 91 22 64 14 31 13 23 9 11 9 6 5 2 10 0 4-2 10-7 10-10 10-14M3772 1614l13 11 14 9 13 6 13 2 13-2 12-7 13-11 12-17 12-21 12-25 23-61 29-91 35-124 7 2 63 163 42 100 30 60 28 50 17 25 17 20 16 17 11 8 16 9 17 4 10 0 16-4 11-4 16-11 16-16 16-20 16-24 16-29 17-32 16-37 33-85 34-98 39-128 59-198 4 10 27 88 18 50 17 40 14 22 9 9 9 5 5 0 10-1 4-3 10-8 10-11 11-15M3776 1601l21 17 13 9 13 5 13 1 13-3 12-8 7-5 12-15 12-19 12-23 23-58 30-89 35-121 6-10 57 146 37 88 35 75 17 33 18 29 16 24 17 21 17 16 10 8 17 8 16 5 11 0 16-4 10-4 16-11 17-16 16-20 16-24 16-28 16-33 17-37 33-84 33-98 34-109 59-195 5-15 27 88 18 50 17 41 9 15 10 12 9 7 9 4 5 0 10-4 14-12 11-13 10-16M3781 1588l20 18 14 9 13 7 13 2 13-1 12-6 13-11 12-15 12-20 12-23 24-59 29-89 35-120 64 158 36 86 35 73 29 49 17 25 16 20 17 16 11 8 16 9 16 4 11 0 16-3 11-5 16-11 16-15 16-20 16-24 16-29 17-32 16-37 33-84 34-98 34-108 59-193 5-3 26 85 23 59 18 34 13 17 10 6 4 1 10 0 10-5 15-14 20-31M3786 1574l20 20 14 10 13 8 13 4 13-1 12-4 13-9 12-13 12-18 12-22 24-56 30-85 35-118 6 2 63 156 42 95 29 58 29 47 17 23 16 19 17 15 11 7 16 7 11 2 10 0 17-3 10-5 16-11 16-15 17-20 16-24 16-29 33-69 33-84 34-97 34-107 58-192 5 9 23 70 22 59 18 35 13 17 10 6 9 3 5-1 10-4 10-8 10-12 21-32M3790 1561l21 21 13 11 14 8 13 6 13 1 12-3 13-7 12-12 12-16 13-20 24-53 29-82 36-115 6-12 56 139 37 84 35 72 29 49 16 25 17 20 17 16 11 8 16 9 16 4 16-1 11-2 11-5 16-11 16-16 16-20 27-42 17-31 16-35 28-67 33-93 40-122 59-188 5-13 27 83 18 45 18 36 9 13 9 8 10 5 4 1 10-1 10-6 10-9 10-13 21-35M3795 1547l21 22 13 13 20 13 13 5 13 0 13-3 12-7 13-13 12-16 12-21 24-53 30-83 35-114 7 9 62 151 36 79 29 57 29 47 16 23 17 19 17 14 10 8 17 7 11 2 16-1 11-2 10-5 16-11 17-16 16-19 27-43 16-31 17-35 33-81 34-95 34-104 59-187 5 2 27 79 22 53 9 17 9 13 14 12 10 3 4 0 10-3 10-7 10-11 10-14 21-36M3800 1534l20 23 14 13 20 15 13 6 13 3 13-2 12-6 13-10 12-15 12-19 12-24 12-26 30-80 36-111 6-6 56 133 36 81 35 69 29 47 17 23 16 19 17 14 11 7 16 7 11 3 16-1 11-3 11-5 16-10 16-16 16-20 28-42 16-31 16-35 28-67 34-92 34-102 64-200 23 66 22 56 19 33 9 11 9 8 10 4 9-1 10-4 10-9 10-12 11-15 21-38M3804 1520l35 39 20 17 13 7 13 4 13 0 13-5 12-8 12-13 13-18 12-21 18-39 30-79 36-111 6 11 56 131 36 79 29 56 28 47 17 22 17 19 16 14 11 8 17 7 11 2 16-1 11-3 10-4 17-11 16-16 16-19 27-43 17-31 16-35 28-66 34-92 34-102 59-181 5-1 27 76 14 32 9 18 9 15 9 12 9 8 5 2 10 2 4 0 10-4 10-8 10-12 11-15 26-49M3809 1507l35 40 20 19 13 9 13 5 7 1 12 0 13-5 13-9 12-14 12-17 12-22 12-25 30-76 36-108 6-6 56 128 36 78 29 56 29 47 17 22 16 19 17 14 11 7 16 7 11 2 16 0 11-3 11-5 16-10 11-10 16-19 28-40 16-29 17-34 27-64 34-89 35-100 64-195 22 64 23 53 9 17 9 13 10 10 9 7 10 2 9-2 10-5 10-10 11-13 10-16 27-51M3814 1494l21 26 20 23 21 19 13 8 13 5 13 1 12-3 13-7 12-12 13-16 12-20 18-37 30-76 36-107 6 9 56 126 36 75 29 54 28 44 17 21 11 12 16 15 11 7 17 7 11 2 16-1 11-2 11-5 16-11 11-10 16-18 27-40 17-30 16-33 28-64 34-89 35-99 58-177 5 1 27 73 14 30 9 17 9 14 10 10 9 7 5 2 10 0 9-3 10-7 11-11 20-32 27-53M3819 1480l21 28 20 25 21 20 13 9 13 7 6 2 13 1 13-4 12-8 13-12 12-16 12-20 12-24 24-57 43-120 6-11 61 137 30 62 29 53 29 44 16 21 11 12 17 14 11 8 16 7 11 2 17-1 10-3 11-4 17-11 10-10 17-18 27-40 17-30 16-33 28-64 29-73 34-97 58-174 6-11 27 72 14 30 9 17 9 14 10 10 9 7 10 3 9-1 10-4 11-9 10-13 21-34 27-56M3824 1467l41 55 21 22 13 11 20 10 13 3 12-2 13-6 12-10 13-15 12-18 12-22 12-26 18-44 42-119 7 1 55 121 30 61 29 53 28 44 17 21 11 12 17 14 11 7 16 7 11 2 16 0 11-3 11-5 16-11 11-10 17-18 27-40 17-29 16-33 28-64 34-88 29-81 59-172 4 8 28 69 18 37 9 14 10 10 9 8 10 3 9-1 10-4 11-9 10-12 10-15 16-29 28-58M3829 1454l41 58 21 23 13 12 20 13 13 4 13 0 12-4 13-8 12-13 12-17 19-32 12-26 18-44 42-118 6 11 55 118 30 59 29 51 28 42 17 19 11 11 17 13 11 6 16 5 11 2 11-1 11-3 11-5 16-11 11-9 16-19 28-39 28-51 28-62 34-86 34-95 53-153 5-2 28 69 13 28 10 16 9 12 9 9 10 6 10 2 9-3 10-6 11-10 10-13 11-17 16-30 27-61M3834 1441l28 41 20 28 21 23 13 13 20 12 13 4 12 0 13-5 12-9 13-13 12-17 18-33 24-54 19-47 24-68 6-12 55 117 30 58 29 51 28 41 17 20 11 11 16 12 11 7 17 5 11 1 11-1 11-2 11-5 16-11 11-10 16-18 28-40 28-51 28-61 28-70 35-94 52-151 6-9 27 68 14 28 10 16 9 13 9 9 10 6 9 2 10-2 10-6 11-10 15-21 11-18 16-32 28-63M3838 1428l49 72 21 25 13 14 20 15 13 5 13 2 12-3 13-7 12-12 13-15 18-30 12-24 18-42 43-114 6-5 49 101 29 58 29 51 29 41 16 19 12 11 16 13 11 6 17 5 11 1 11 0 10-3 11-5 17-11 11-10 16-18 28-39 28-51 28-61 28-70 29-77 59-164 27 67 14 28 9 16 14 18 10 8 9 4 10 0 10-3 10-8 11-11 10-15 11-18 16-32 33-76M3844 1416l35 55 20 29 21 25 13 14 20 14 13 5 12 1 13-3 13-7 12-12 12-15 19-31 12-24 18-42 42-113 7 0 48 99 30 56 29 49 28 39 17 18 11 10 22 14 16 5 11 1 11-1 11-2 11-5 11-7 11-9 17-16 11-14 16-24 28-48 28-59 29-68 34-91 53-147 5 8 28 65 14 26 9 15 9 11 10 8 9 4 10 1 10-3 10-8 11-11 15-23 28-53 33-79M3850 1436l6-17 7 8 28 44 21 30 20 25 20 19 13 9 13 4 12 1 13-3 12-8 13-12 12-16 18-30 13-25 18-41 42-113 6 3 49 97 35 65 23 36 23 30 17 18 11 10 22 14 16 5 11 2 11-1 11-3 11-5 11-6 11-9 17-17 11-13 16-24 28-48 28-59 29-68 29-75 53-144 5 5 27 63 14 27 10 14 14 16 9 7 10 3 10-2 10-5 10-9 11-12 16-26 27-56 34-81M3856 1455l12-35 7 7 28 45 21 30 20 25 13 14 20 14 12 4 13 1 13-4 12-8 13-12 12-16 18-31 12-25 19-41 42-112 6 5 49 95 29 52 28 45 23 28 17 17 11 8 11 7 11 5 17 4 11 1 11-2 11-4 11-6 11-7 11-10 16-18 22-31 28-48 29-59 28-67 29-75 47-126 5 3 28 63 14 26 9 14 15 17 9 6 10 3 10 0 10-5 10-9 10-12 16-25 28-56 39-98M3862 1474l18-53 7 7 28 46 21 30 20 25 13 14 19 13 13 5 13 0 13-4 12-8 12-13 13-16 18-32 30-66 43-110 6 5 48 92 29 51 23 34 23 29 17 16 11 9 11 7 11 5 17 4 11 0 11-2 11-3 11-6 11-8 11-9 16-18 23-31 28-48 22-46 29-66 29-73 47-124 5 2 33 72 13 24 10 14 14 14 10 5 10 1 9-2 11-7 10-10 10-14 17-27 27-59 40-101M3868 1493l25-72 7 9 27 47 21 30 20 25 13 14 19 13 13 4 13 0 12-4 13-9 12-13 12-17 19-31 30-66 43-110 6 4 42 79 35 60 23 33 22 26 17 15 11 8 11 6 12 4 11 2 11 1 11-2 11-4 11-6 11-7 22-21 22-29 28-46 23-44 28-64 29-71 47-123 5 4 19 42 19 37 19 29 14 15 9 5 10 2 10-2 10-6 11-11 10-13 16-28 28-59 40-101 5-1M3874 1512l31-91 28 48 20 32 20 27 20 21 19 13 13 4 13 0 6-2 12-7 13-11 12-15 12-19 13-22 30-66 43-108 6 0 42 77 35 58 22 31 17 19 17 15 11 8 11 6 11 4 12 2 11 1 11-2 11-4 11-6 11-7 22-21 22-29 28-46 23-44 29-64 29-70 41-106 5 6 33 70 14 25 9 13 15 15 9 5 10 2 10-2 10-6 10-10 11-13 11-17 16-32 17-37 40-103 5-3 4 12M3880 1530l31-93 6-13 28 49 20 33 20 27 20 21 19 12 13 4 13-1 6-2 12-7 13-11 12-16 12-19 12-22 31-66 43-107 6-4 36 65 29 48 23 32 22 27 17 15 11 8 11 6 11 4 12 2 11 0 11-1 11-4 11-6 11-7 22-22 23-28 28-46 23-44 28-63 65-160 37 80 14 24 10 13 14 15 10 6 10 2 10-1 10-6 10-10 11-13 16-27 28-59 40-104 5-8 8 24M3886 1548l37-113 7-6 27 49 21 33 20 27 19 21 13 9 6 3 13 3 13-1 6-2 12-7 13-12 12-16 24-41 25-52 49-120 6-11 35 64 24 37 28 40 23 25 17 14 11 7 11 5 11 3 11 1 11-1 11-3 11-4 17-11 22-21 23-29 22-35 23-43 23-48 29-68 36-87 5-9 38 78 14 25 10 13 14 15 9 6 10 3 10-2 10-5 16-15 11-15 16-29 28-63 40-105 12 37M3892 1566l43-134 7 2 28 50 26 43 20 25 13 13 13 9 6 3 13 3 12-2 7-2 12-8 12-12 13-16 12-19 18-35 31-68 43-106 6 8 35 61 23 35 23 29 23 23 22 16 11 5 11 3 11 1 11-1 12-2 11-5 16-11 23-21 22-28 23-36 23-42 23-49 23-53 35-86 6-2 38 78 14 24 9 14 14 15 10 6 10 3 10-1 10-5 16-15 10-15 17-29 28-62 40-108 5 6 12 38M3898 1583l50-155 47 86 20 29 20 23 19 14 13 5 6 1 12-2 7-2 12-9 12-12 12-16 25-42 30-66 49-120 6-1 36 59 29 41 22 26 17 15 23 14 11 4 11 3 11 0 11-2 17-6 17-11 22-21 23-28 22-36 23-42 23-49 53-123 5 7 38 76 19 31 14 18 10 8 10 5 9 1 10-2 6-3 10-9 10-13 17-26 16-33 17-40 41-109 5-2 16 51M3904 1600l50-158 6-8 27 52 21 35 19 30 13 16 20 17 12 6 13 3 12-2 13-7 18-18 12-16 19-31 30-64 55-132 6-11 30 48 23 33 23 28 17 16 22 16 17 7 11 2 11 0 17-3 17-8 22-17 23-25 22-32 17-28 24-44 29-62 29-69 6-7 38 76 23 40 15 18 9 9 10 5 10 1 10-2 5-3 10-8 11-13 16-26 17-33 17-40 47-123 19 66M3910 1616l56-180 7 6 27 53 20 35 20 29 13 16 19 17 12 6 13 2 12-2 13-7 18-19 12-16 19-32 30-63 61-146 6 1 29 45 23 31 18 19 17 15 16 11 17 7 17 3 17-2 16-6 12-7 11-8 22-23 23-30 23-38 23-43 23-50 30-67 5 5 43 84 24 37 9 12 10 8 10 6 9 2 10-2 6-3 10-8 16-20 16-28 17-36 17-41 41-113 5 4 19 68M3916 1633l56-183 6-14 27 55 21 37 19 32 13 17 19 20 13 7 13 4 12-1 12-5 19-16 12-15 18-29 19-36 18-39 67-157 24 35 17 24 23 26 17 15 17 12 16 7 17 2 17-2 17-6 11-6 11-9 17-16 23-29 17-26 23-41 23-46 30-65 5-5 48 92 24 37 15 17 9 7 10 4 10 1 10-4 5-3 11-10 10-14 17-28 28-63 23-61 24-68 5-9 24 83M3922 1648l62-205 7 2 27 56 20 37 19 32 13 17 19 19 13 8 13 3 12-1 12-6 19-16 12-16 18-30 18-35 19-40 67-156 6-5 23 33 18 22 22 23 17 12 17 9 17 4 17 0 17-5 17-9 16-14 17-18 23-30 17-27 18-31 47-97 53 98 24 38 14 17 10 7 9 5 5 1 10-2 11-5 15-16 11-15 16-31 17-37 18-44 42-118 4 7 23 84M3928 1664l62-209 6-14 28 58 20 39 19 33 13 19 19 22 13 9 12 5 6 1 13-2 12-6 18-17 13-16 18-31 30-62 80-181 6 1 23 31 23 24 17 14 11 7 17 8 17 2 17-1 11-4 17-9 17-14 17-18 17-22 17-26 18-30 17-33 24-49 5 4 58 104 24 36 14 15 10 7 10 3 10-1 10-5 5-4 11-11 10-15 17-30 28-67 48-134 6-9 26 100M3934 1679l68-233 7 6 27 58 20 39 19 34 13 19 19 21 13 9 12 5 6 0 13-2 12-7 18-18 12-16 19-31 30-62 86-192 6 4 17 21 17 18 17 14 12 7 17 7 16 3 17-2 12-3 11-6 17-12 11-10 17-20 18-23 17-28 17-30 24-47 5 1 20 32 43 78 24 36 15 15 9 7 10 4 10-1 10-4 5-4 11-11 16-24 17-32 17-40 17-46 43-122 4 5 26 102M3940 1693l68-235 7-10 27 61 20 41 19 35 13 20 19 24 13 11 12 6 6 2 13-1 12-5 18-16 12-15 18-29 31-61 67-150 31-64 6 4 17 19 11 11 17 12 12 7 17 5 11 2 17-2 11-3 11-6 12-8 11-9 17-18 17-22 18-26 35-63 5 0 25 39 49 83 19 29 14 16 10 7 9 4 10 0 11-4 5-3 10-11 16-23 17-32 17-40 18-46 48-138 30 119M3946 1707l74-260 54 116 19 36 13 20 19 23 13 10 12 6 6 1 12-1 13-5 18-17 12-16 18-30 31-61 73-162 31-61 6 1 17 17 11 9 11 7 12 6 17 4 11 1 11-2 12-4 11-5 11-8 12-9 17-18 29-39 29-50 5 2 21 28 58 98 24 35 9 10 10 8 10 4 10 1 10-3 5-3 11-10 16-23 16-32 17-40 18-46 49-143 5-1 29 120M3952 1721l74-263 7 0 47 106 19 37 19 31 19 23 13 10 12 6 6 0 12-1 12-7 13-10 12-15 18-29 30-59 86-185 31-58 5-4 23 18 12 6 11 4 11 3 12 0 11-1 11-4 12-5 11-8 23-21 23-28 29-45 16 18 20 28 58 96 19 28 10 10 9 8 10 5 10 2 10-3 5-3 11-9 16-22 17-32 17-39 23-63 49-147 4 11 30 123M3958 1735l74-267 7-13 47 110 19 39 19 34 19 25 12 12 13 7 6 1 12 0 12-4 6-5 12-11 13-15 18-30 30-59 80-171 24-47 24-41 6 1 11 7 12 5 17 5 17 0 17-5 17-9 17-13 23-25 23-33 6 1 21 22 20 27 63 101 19 26 10 10 10 7 9 4 10 0 11-4 5-4 10-11 17-25 16-33 18-42 17-48 49-148 6-13 33 140M3963 1748l82-292 53 124 19 40 19 33 19 25 12 11 13 6 6 2 12-1 12-6 12-10 12-14 18-28 31-58 61-132 30-62 31-54 24-35 6-2 17 6 11 1 17-1 12-4 11-5 17-12 17-17 18-20 5 1 21 17 26 29 25 37 44 70 19 26 9 11 10 8 10 4 10 1 10-4 5-3 10-11 17-24 16-33 18-41 18-48 55-169 5-2 33 142M3969 1760l82-295 6 4 47 113 19 42 19 35 19 27 12 13 12 8 7 2 12 1 12-4 12-9 12-13 18-26 31-57 67-144 36-71 18-31 18-28 24-30 12-11 17 0 17-4 17-9 23-18 11 3 17 8 21 17 25 29 25 36 44 69 19 25 9 10 10 7 10 3 5 0 10-3 5-3 16-16 16-26 17-36 18-43 18-50 55-173 5 8 32 144M3975 1772l82-298 6-6 27 68 26 63 19 41 19 35 19 27 12 12 12 8 6 2 12 0 13-5 12-10 12-14 18-28 30-58 80-167 24-45 18-30 18-26 18-22 17-18 18-13 11-6 12-4 11-2 11 0 11 2 11 4 22 13 20 20 21 25 20 29 38 61 19 26 10 10 9 7 10 4 5 1 10-2 5-3 11-8 5-7 16-25 17-35 18-44 24-67 56-176 36 163M3981 1784l31-112 51-189 6-17 53 136 19 43 19 37 19 29 18 19 12 6 6 2 12-1 12-6 12-11 13-14 18-29 24-47 79-166 24-45 19-30 18-27 17-22 18-17 17-13 12-7 11-4 12-2 11 0 11 2 11 4 21 13 21 20 20 25 58 89 19 25 10 9 10 7 9 3 5 0 11-3 5-4 10-10 16-25 17-34 18-43 18-50 24-74 38-122 6-11 35 165M3987 1795l37-136 51-191 59 152 19 43 19 36 19 28 12 14 12 8 6 2 12 1 12-4 12-10 12-14 18-27 25-46 79-166 24-45 18-30 18-27 18-22 18-17 17-14 11-6 12-4 11-2 11 0 11 2 11 4 21 13 21 19 20 25 54 81 19 26 9 10 10 8 10 4 5 0 10-2 5-3 5-4 11-12 16-27 17-37 18-45 24-70 57-182 5-2 35 166M3993 1806l37-137 51-193 7 8 39 107 26 62 19 41 12 23 19 28 12 12 12 8 6 2 12-1 12-6 12-10 12-15 18-29 24-47 73-153 25-46 18-30 18-26 17-22 18-18 17-13 12-7 11-4 11-2 12 0 11 2 10 4 22 13 20 19 21 25 53 81 19 25 9 9 10 7 10 3 5 0 10-4 5-3 16-19 17-29 17-39 18-47 24-72 57-186 4 6 35 168M3999 1817l37-138 51-195 7 0 33 92 26 66 18 45 19 38 18 29 12 15 13 9 6 2 12 1 12-4 12-10 12-14 18-28 24-46 73-153 24-46 18-30 18-26 18-23 18-17 17-14 17-8 11-3 12-2 11 1 10 3 11 5 11 6 21 18 20 24 20 28 38 59 19 24 10 9 9 6 10 2 5 0 10-5 5-5 11-12 17-28 17-38 18-47 24-72 64-208 3 12 35 170M4005 1827l37-139 51-197 7-7 58 162 19 46 19 40 18 32 18 21 12 9 6 2 12-1 12-6 12-10 12-16 12-19 25-45 73-154 24-45 18-31 18-26 18-22 17-18 12-10 11-7 12-5 11-4 11-1 11 1 11 3 11 5 10 6 21 18 20 24 20 27 38 59 14 19 10 10 10 7 9 3 5 0 10-4 6-3 16-19 16-31 18-40 17-49 25-74 64-210 38 189M4011 1836l37-139 51-199 7-13 58 165 19 47 19 42 18 34 18 24 12 9 6 3 12 1 6-1 12-8 12-12 12-17 24-42 73-154 37-68 24-38 17-24 18-20 17-15 12-7 11-5 12-4 11-1 11 1 10 3 11 5 11 6 20 18 21 24 19 28 38 58 15 19 9 9 10 6 10 3 5-1 10-4 5-5 11-12 16-29 17-40 18-48 19-54 31-101 39-131 6-16 38 192M4017 1845l37-139 51-201 7-19 58 168 25 64 19 41 18 32 18 23 12 8 6 2 12 0 12-6 12-12 12-16 12-20 24-47 67-141 24-46 18-31 18-26 18-23 18-18 11-9 12-8 11-5 11-3 11-2 11 1 11 3 11 5 10 6 21 18 20 24 20 28 33 52 19 25 9 9 10 5 10 2 5-1 10-6 5-5 11-14 17-31 17-41 37-106 70-236 6-10 37 193M4023 1854l37-140 58-227 58 171 25 65 19 43 18 35 18 24 12 10 6 3 12 0 11-5 12-11 12-15 12-19 25-47 73-154 24-45 18-29 24-33 17-20 18-15 17-11 17-5 16-1 17 3 10 5 11 6 15 13 20 23 20 27 43 66 19 23 9 7 10 3 10-2 11-7 10-12 17-29 11-26 18-47 18-53 25-80 59-198 5-5 37 194M4028 1862l45-165 51-204 7 16 39 116 25 71 18 48 19 42 18 33 12 17 12 11 5 3 12 2 12-4 12-10 12-15 12-19 24-46 73-155 25-45 18-30 23-33 18-20 17-15 18-10 16-6 17-1 16 3 11 5 10 7 16 13 20 22 20 28 42 66 19 22 10 7 10 2 10-2 10-8 11-14 16-31 12-27 18-48 37-116 65-221 5-1 37 195M4034 1870l45-166 51-206 7 13 64 190 18 49 19 43 18 35 17 25 12 9 6 2 12 0 12-6 12-12 12-17 12-20 18-36 73-155 24-45 18-30 24-34 18-19 17-16 17-10 17-6 17-1 16 3 11 5 10 7 15 13 21 23 19 27 43 66 9 13 10 9 9 7 10 2 10-3 10-9 11-15 17-34 12-28 18-49 37-118 66-224 4 3 37 196M4040 1877l45-166 51-207 7 9 64 192 24 66 19 42 17 33 12 16 12 11 6 3 6 1 6 0 12-5 12-12 12-16 12-21 18-35 73-156 24-46 18-30 24-33 18-20 17-16 17-10 17-6 16-1 17 3 16 8 20 17 20 23 20 27 42 67 9 12 10 10 10 6 9 1 11-4 10-10 11-16 17-34 12-30 18-51 38-120 65-226 5 6 36 198M4046 1884l45-167 51-207 7 5 64 195 24 66 18 44 18 34 12 17 12 12 6 4 6 1 6 0 11-4 12-11 12-16 12-20 19-36 73-157 24-46 18-30 24-34 18-20 17-15 17-11 17-6 16-1 16 4 11 5 10 6 16 14 20 23 19 27 38 60 19 25 9 7 10 4 10-2 10-7 11-14 17-33 12-28 18-49 44-140 66-228 4 9 36 198M4052 1891l45-168 51-208 7 3 64 196 24 68 18 44 18 36 12 18 12 12 6 4 6 2 5 1 12-4 12-11 12-16 12-20 18-36 74-157 24-46 18-30 24-34 17-20 18-16 17-10 17-6 16-1 16 3 11 5 10 7 16 13 20 23 19 28 38 60 18 25 10 7 10 4 10-3 10-8 11-15 17-33 11-29 19-51 44-142 66-229 4 11 36 199M4058 1897l45-169 52-208 6 1 70 215 24 67 18 42 18 33 12 17 12 10 5 2 6 1 6-1 6-3 12-10 12-15 12-20 24-49 68-146 24-46 18-30 24-34 17-20 18-16 17-11 17-5 16-2 16 4 11 5 10 7 16 13 20 23 19 28 37 61 19 24 10 8 9 3 10-3 11-9 11-15 17-35 11-29 19-52 44-143 67-231 3 13 36 199M4064 1902l45-168 52-210 6 0 70 217 24 67 18 42 18 35 12 16 11 11 6 3 6 1 6-1 6-2 12-10 12-16 12-20 24-49 68-146 24-46 18-31 24-34 17-20 18-15 17-11 17-6 16-1 16 3 11 5 10 7 16 13 19 24 20 28 37 61 19 24 9 7 10 3 10-3 11-9 10-16 18-35 11-30 19-53 44-144 67-232 4 15 35 200M4070 1907l45-169 52-209 7-1 69 217 24 67 18 43 18 35 12 17 11 11 6 3 6 1 6-1 6-2 12-10 12-15 12-20 24-49 68-146 24-47 18-30 24-35 18-20 17-16 17-10 17-6 16-1 16 3 11 5 10 7 16 13 20 24 19 28 37 61 19 24 9 8 10 2 10-3 11-10 10-16 18-36 30-83 45-145 66-232 4 15 35 200M4076 1912l45-169 52-210 7-2 69 218 25 67 17 44 18 35 12 17 11 11 6 3 6 1 6-1 6-2 12-10 12-15 12-20 24-49 68-147 24-46 18-31 24-34 18-21 17-15 17-11 17-6 16-1 17 4 10 4 11 7 15 14 20 23 19 28 37 61 19 25 9 7 10 3 10-4 11-9 11-17 17-36 30-83 45-145 67-233 39 216" stroke="#F39A2E" stroke-width="3.20" fill="none" stroke-opacity="1.00"/>
<path transform="scale(0.25)" d="M3283 756l49 122 65 168 5-9 56-273 20-85 15-57 16-49 11-27 11-20 6-7 12-10 6-2 6 0 6 1 13 8 13 12 20 24 51 73 25 34 25 28 18 16 24 16 17 7 17 2 17-2 16-7 17-11 16-16 21-27 21-34 21-41 57-128 21-42 11-17 10-11 11-6 5 0 6 2 11 8 5 6 11 18 10 23 16 41 16 46 21 68 55 197 5-15 49-221M3287 757l50 122 64 169 6-7 56-275 19-85 15-58 16-50 11-27 11-21 6-8 12-10 6-2 6-1 7 2 12 7 13 12 20 24 52 74 25 34 24 28 18 17 24 16 17 6 18 3 16-3 17-6 16-12 16-15 22-28 21-34 21-41 57-129 21-42 11-17 10-11 11-5 5 0 6 2 10 8 16 25 11 24 16 41 36 116 55 198 5-16 50-222M3292 759l49 122 64 169 6-6 56-276 20-85 15-59 16-51 11-27 11-21 6-8 12-11 6-2 6-1 6 2 13 7 13 12 19 24 52 74 25 34 25 29 18 16 24 16 17 7 17 2 17-2 16-7 17-11 16-16 21-27 21-35 21-41 58-129 21-42 10-17 11-11 11-5 5 0 5 2 11 9 16 26 11 23 16 43 36 116 55 199 5-18 50-222M3296 761l49 123 64 169 6-6 57-276 19-86 15-59 16-51 11-28 11-21 6-8 12-11 6-2 6-1 7 2 12 7 13 12 20 24 52 75 25 34 24 28 18 17 24 16 17 6 18 3 16-2 17-7 16-12 17-15 21-28 21-35 21-41 58-130 21-42 10-16 11-11 10-5 6 0 5 2 11 9 16 26 11 24 16 42 36 117 55 199 4-18 51-222M3300 764l50 122 64 170 6-6 56-277 20-86 15-59 16-50 11-28 11-22 6-8 12-10 6-2 6-1 6 1 13 8 13 12 20 24 51 74 25 34 25 29 18 16 24 16 17 7 17 3 17-3 17-6 16-12 16-16 22-27 21-35 21-41 57-130 21-42 11-16 11-12 10-5 6 0 5 2 11 10 16 25 10 24 16 42 37 117 54 199 5-17 50-223M3305 767l49 122 64 170 6-7 57-276 19-86 16-58 15-51 11-27 12-21 5-8 12-11 7-2 6 0 6 1 13 7 13 12 19 25 52 74 25 34 25 28 18 17 23 16 18 7 17 2 17-2 16-7 17-12 16-15 21-28 22-35 21-41 57-129 21-43 11-16 10-11 11-6 5 0 6 2 11 9 16 26 10 23 16 42 36 116 55 199 5-17 50-223M3309 771l50 122 64 169 5-8 57-276 20-85 15-58 16-49 11-27 11-21 6-8 12-9 6-2 7-1 6 2 13 7 13 12 19 24 52 74 25 34 24 28 19 17 23 16 17 6 18 3 16-3 17-7 16-11 17-16 21-27 21-35 21-41 58-129 21-42 11-17 10-11 11-6 5 0 6 2 10 8 6 7 10 18 11 22 16 42 16 47 20 68 55 198 4-15 51-223M3314 775l49 122 64 169 6-10 57-275 19-84 16-57 16-49 11-26 11-20 6-8 12-9 6-1 7 0 6 1 13 8 12 12 20 24 52 73 25 34 24 28 18 16 24 16 17 7 17 2 17-3 17-6 16-12 16-15 22-28 21-35 21-40 58-129 21-42 11-17 10-12 11-6 5 0 6 1 10 8 6 6 10 18 11 22 16 40 15 47 21 68 54 197 5-14 51-222M3318 780l50 122 63 168 6-13 57-273 15-63 15-59 16-50 11-28 11-23 6-8 12-12 6-3 6-2 7 0 12 5 13 11 13 13 13 17 52 73 25 33 24 28 18 16 24 16 17 6 17 2 17-2 17-7 16-11 16-16 22-27 21-35 21-40 58-129 21-42 10-16 11-12 11-7 5-1 5 1 11 7 5 6 11 16 11 22 16 39 15 46 21 67 54 196 5-11 50-223M3323 785l49 122 64 167 5-16 58-271 15-62 15-57 16-50 11-27 11-21 6-8 12-11 6-3 6-1 7 0 12 6 13 10 26 31 52 72 25 33 24 27 18 16 24 16 17 6 17 2 17-2 17-7 16-11 16-16 22-27 16-26 21-38 21-44 47-106 21-40 11-14 10-10 11-4 5 0 6 3 10 9 16 24 11 23 16 41 15 46 21 67 49 177 5-8 50-221M3328 791l49 121 63 167 58-267 31-121 15-51 17-41 11-20 6-7 12-10 6-2 13 0 13 6 12 10 26 31 52 71 25 33 24 27 18 16 24 15 17 6 17 2 17-2 16-7 17-11 16-16 22-27 15-25 22-39 21-44 47-104 21-40 11-15 10-11 11-4 11 1 10 8 16 23 11 22 15 39 16 45 20 67 49 175 5-5 51-221M3332 797l49 121 64 166 48-226 20-85 15-58 16-52 16-43 12-22 6-8 11-12 13-5 12 1 13 6 13 11 26 30 51 71 25 32 24 27 18 15 24 15 17 7 17 2 17-3 16-7 17-11 16-16 21-27 16-25 22-38 21-44 47-104 21-40 11-15 10-11 11-6 11 1 10 7 5 5 11 16 11 20 15 38 16 44 20 65 49 173 5-1 51-220M3337 804l41 100 71 182 14-70 34-155 20-84 16-57 16-50 16-41 12-20 6-8 12-10 12-5 12 2 13 7 13 11 26 30 51 70 25 32 24 27 18 15 24 15 17 6 17 2 17-3 16-6 17-12 16-15 21-27 22-34 21-40 63-136 21-40 11-16 10-12 11-6 10-1 11 6 5 5 11 14 10 19 16 36 16 42 20 64 49 171 5 4 51-219M3342 812l49 119 55 143 7 12 20-91 29-132 20-82 16-55 16-49 16-38 12-19 6-7 12-9 12-3 13 3 12 7 13 11 26 31 51 69 25 31 24 27 18 15 24 15 17 6 17 1 17-2 16-7 17-11 16-16 21-27 22-34 21-39 63-136 21-40 16-23 10-10 11-4 11 1 10 7 6 5 10 15 11 20 15 37 26 74 54 184 4 10 51-218M3347 820l49 118 55 143 7 4 43-198 21-82 15-56 16-49 17-40 11-20 6-8 12-11 6-3 13-2 12 4 13 8 13 11 13 15 76 101 18 22 19 18 23 20 18 10 17 6 17 2 11-2 11-3 11-5 11-7 22-20 21-27 22-33 21-39 63-136 16-31 10-18 11-15 10-10 6-4 10-3 6 1 5 2 10 8 16 22 16 33 15 39 21 60 53 181 51-217M3352 828l49 118 55 141 6-2 24-111 25-106 20-78 16-52 17-44 11-24 11-18 6-7 12-10 6-2 13-1 13 4 12 9 13 12 13 14 76 101 19 22 18 18 23 19 18 10 17 6 17 2 11-2 11-3 11-5 11-7 22-20 21-26 22-34 21-39 63-135 21-41 10-17 11-13 11-9 5-3 11-2 5 2 10 6 16 20 16 30 15 38 20 58 30 97 24 85 51-213M3357 837l48 117 55 140 6-10 44-193 21-78 16-53 16-45 11-24 12-20 6-7 12-11 12-5 12 0 13 6 13 9 13 12 19 23 76 99 30 33 24 19 17 9 17 6 17 2 11-2 11-3 11-5 11-7 22-20 21-27 22-33 21-39 63-134 21-42 10-17 11-14 11-10 5-4 11-3 5 1 5 2 11 8 15 21 16 31 15 38 20 58 25 79 24 84 5-13 46-192M3362 846l40 97 63 158 50-208 15-58 16-53 16-45 17-36 12-18 6-7 12-9 6-2 12-1 13 4 13 8 13 11 19 22 76 99 18 21 18 19 24 18 17 10 17 6 17 1 11-1 12-4 11-5 10-7 22-19 21-27 22-33 21-39 63-134 21-42 10-18 11-15 16-15 10-4 6 0 5 1 11 6 15 19 16 28 15 36 20 57 25 77 24 82 4-4 47-191M3367 856l103 249 9-45 30-125 21-78 16-53 16-46 17-37 11-19 6-7 12-10 12-5 13 0 12 5 13 9 26 26 76 100 18 21 18 20 24 20 18 11 11 5 12 3 16 1 12-1 11-4 11-5 11-7 21-19 22-27 21-33 21-39 68-145 21-41 11-17 10-14 11-10 5-3 11-3 5 0 10 5 6 4 10 12 16 26 15 34 15 40 25 75 28 95 5 4 46-189M3372 867l40 95 55 135 7 6 40-167 20-76 16-51 17-44 17-34 11-17 6-6 12-9 13-4 12 2 13 6 13 9 25 27 76 100 19 22 18 19 23 20 18 10 11 5 12 3 17 2 11-2 11-3 11-5 11-7 21-20 27-34 21-34 21-40 63-136 21-41 11-18 10-14 16-15 11-5 5 0 5 1 11 5 15 18 16 26 15 34 20 54 48 151 46-187M3377 878l40 94 55 133 6-5 25-104 20-79 16-54 16-49 17-42 11-22 12-17 6-7 12-10 12-4 12 0 13 5 13 9 13 11 19 22 76 100 18 21 18 19 24 20 17 11 12 4 11 4 17 1 11-2 11-3 11-5 11-8 21-19 27-34 21-34 21-40 63-136 21-42 21-34 11-12 10-8 11-3 5 0 5 1 11 6 15 19 16 27 15 34 20 54 24 74 19 64 46-182M3382 889l95 224 5-15 41-160 15-55 16-49 17-42 17-33 12-15 6-6 12-8 12-3 13 2 12 6 20 15 13 14 19 23 75 99 24 27 18 17 23 16 18 8 17 4 16 0 12-3 10-4 22-15 22-21 21-28 21-34 21-40 63-136 21-43 21-35 11-13 10-9 11-5 5-1 5 1 11 4 5 4 10 12 16 25 15 32 19 51 25 73 19 62 5-6 41-163M3388 901l86 203 7 14 15-63 26-98 16-55 16-49 16-42 17-33 12-17 6-6 12-9 12-4 13 1 13 5 12 9 13 12 19 22 76 100 37 42 23 21 18 12 23 11 17 4 22-11 22-4 5-3 21-22 27-34 21-35 21-39 68-148 21-42 21-34 11-13 10-8 11-4 5-1 11 3 5 4 10 9 15 23 16 30 14 36 25 69 24 74 4 6 42-162M3393 914l86 200 6 0 21-81 20-76 16-53 16-47 17-40 12-21 17-24 12-10 13-4 12 0 13 4 19 14 13 12 19 22 69 94 31 37 18 18 18 16 23 16 5 1 17-17 11-10 11-7 11-5 11-3 16 0 28 7 32-47 26-47 26-54 53-116 21-42 21-33 15-16 11-6 5-1 5 0 11 4 5 3 10 11 15 22 15 31 20 49 24 69 19 60 41-159M3398 927l86 196 5-13 21-79 21-74 16-51 16-45 17-37 12-20 11-15 6-6 13-8 12-3 6 0 13 4 12 7 20 17 25 30 64 86 24 32 24 26 30 28 5-5 17-22 16-18 16-13 17-8 17-3 16 1 17 5 22 14 5-4 26-46 21-41 69-151 21-42 21-35 10-13 11-9 10-5 5-1 11 2 5 3 10 8 15 21 15 28 20 47 24 67 19 59 5-7 36-138M3404 940l77 176 8 12 15-61 26-93 16-50 16-46 17-37 12-20 17-22 13-9 12-4 6 0 13 3 13 7 19 16 13 14 19 24 75 103 19 22 29 33 6-2 22-34 22-27 11-10 11-8 16-8 11-3 11-1 12 1 11 3 11 6 11 7 22 19 5-8 37-72 63-141 21-44 15-28 11-15 10-13 11-8 10-4 5-1 11 3 5 3 10 8 15 21 15 29 15 34 19 51 24 71 5 6 36-136M3409 954l78 173 6-4 20-77 21-72 16-49 17-43 17-36 12-18 12-14 12-9 12-4 6-1 13 2 13 7 19 15 13 14 19 23 76 105 42 52 27-48 22-30 16-18 11-9 12-7 11-5 11-3 11-1 11 2 11 3 11 5 17 12 11 9 16 18 6-1 36-77 52-119 27-55 15-28 11-15 10-12 11-8 10-3 5 0 11 3 5 3 10 9 15 21 15 28 20 47 24 65 14 44 36-130M3414 968l78 170 20-77 21-71 17-49 16-43 17-36 12-19 12-14 6-6 12-7 12-3 7 1 12 3 13 8 19 17 26 30 76 106 30 40 6 5 27-52 28-42 16-19 11-11 17-11 11-5 11-3 17 0 11 2 17 8 22 16 16 17 17 20 5 2 37-80 47-109 26-55 16-27 10-15 11-11 10-7 10-4 6 0 10 4 15 13 15 21 15 29 15 33 19 51 19 55 5 0 31-114M3420 983l69 151 7-1 15-57 21-71 17-49 16-43 17-36 12-19 18-21 12-7 12-4 7 0 12 3 13 7 19 17 13 14 19 24 95 133 5 5 33-66 27-45 17-20 17-17 16-11 11-5 12-3 16 0 17 4 17 9 11 8 16 16 17 20 16 22 5 3 74-170 26-56 16-29 10-16 16-17 10-7 11-3 5 1 10 4 15 13 15 22 15 28 15 33 23 63 14 42 31-111M3425 998l69 147 37-126 17-48 16-43 17-37 12-19 18-21 12-9 12-3 6-1 13 3 13 7 19 16 20 21 19 25 88 127 21-49 17-33 16-29 17-26 16-21 17-16 17-11 11-5 11-3 17 0 16 4 17 9 11 9 17 16 22 27 22 32 5 0 68-161 26-56 16-28 10-16 16-16 10-7 11-2 5 1 10 4 10 8 15 19 15 27 15 31 19 48 18 54 5-2 26-91M3431 1013l61 130 6-2 21-74 22-67 16-45 17-39 18-31 12-15 12-11 12-7 12-2 7 1 12 4 13 8 20 17 19 23 19 26 76 113 5-9 22-51 16-34 17-31 16-27 17-22 17-18 16-13 17-9 17-3 17 2 17 6 16 10 17 15 22 26 16 23 22 35 5-5 58-139 31-68 16-28 10-15 11-12 10-8 11-4 5 0 10 2 5 3 10 9 15 19 15 27 14 31 24 60 14 41 26-89M3436 1029l61 125 16-57 27-84 16-45 17-39 18-31 18-22 12-10 6-2 12-3 13 2 13 5 13 10 19 19 19 24 20 27 63 97 6-1 21-54 22-49 22-42 17-27 22-29 17-16 11-9 11-6 17-5 17 0 17 5 16 9 17 14 17 18 16 21 22 33 21 37 58-141 31-68 16-28 11-14 15-16 11-5 10-2 5 1 10 5 10 9 15 20 15 26 14 31 19 47 14 39 5 2 21-71M3442 1045l53 109 6-9 27-87 22-63 16-41 12-24 17-29 18-19 13-8 6-2 12 0 13 3 13 7 13 11 19 20 33 44 63 98 27-69 22-51 22-44 16-29 23-31 22-23 11-8 11-6 17-5 17 0 17 5 17 9 17 14 16 18 22 30 22 35 22 39 5 0 52-131 32-68 15-27 11-15 15-15 11-5 10-1 5 1 10 5 10 9 15 20 15 26 14 32 24 58 9 27 5-10 15-52M3448 1062l45 92 7 3 16-54 21-66 17-45 17-39 17-32 18-23 12-10 7-3 12-4 13 1 12 5 13 9 20 18 19 24 20 27 51 79 6 12 6-2 27-72 21-52 22-46 23-40 22-31 22-23 12-8 11-7 17-4 17 0 17 5 17 9 22 20 17 20 22 31 21 37 27 50 52-131 32-68 15-27 11-14 16-15 10-4 10-1 5 1 10 6 10 9 15 20 15 26 14 31 33 82 15-52M3453 1079l45 88 16-54 28-80 16-44 17-37 18-29 18-21 12-8 7-2 12-2 13 3 13 6 13 10 19 20 20 26 19 28 38 61 13 23 32-87 22-54 22-49 22-41 23-34 22-26 11-9 12-7 17-7 17-1 11 2 11 4 17 9 23 20 22 28 22 33 21 38 27 53 5-2 47-121 16-36 16-32 16-27 10-14 10-10 11-7 10-2 5 0 10 4 10 8 15 18 15 24 14 29 19 44 14 37 5 2 10-34M3459 1097l38 73 5-13 22-67 22-62 17-42 11-24 18-29 12-16 12-10 6-4 13-4 12 0 13 4 13 8 19 18 13 15 20 27 32 50 26 43 6 4 27-76 27-70 22-51 22-44 23-36 22-27 11-11 12-8 11-6 11-4 17-1 12 1 11 4 11 7 12 8 22 22 17 21 22 34 27 50 26 54 6 7 41-110 32-71 16-29 10-15 16-16 10-6 10-2 5 0 10 4 10 8 15 18 15 24 14 29 19 44 13 37 5-6 6-17M3464 1115l31 57 6-6 16-51 22-63 17-43 17-37 17-31 12-15 13-11 6-4 12-5 13 0 13 4 13 8 19 18 20 23 19 28 33 52 19 33 6-3 27-78 27-73 22-52 22-46 22-38 23-30 11-12 12-9 11-8 11-5 12-2 11-1 11 2 12 4 11 7 11 8 23 23 22 29 22 36 27 52 32 67 42-109 31-71 16-28 10-15 16-16 10-6 10-2 10 3 10 6 15 16 15 22 14 28 24 53 13 37 5-12M3470 1133l23 42 6-1 16-51 22-63 17-43 17-37 18-30 12-16 12-12 6-4 13-5 13 0 6 1 13 6 13 9 19 20 20 25 20 29 32 53 13 24 6-9 32-95 27-74 22-53 22-46 23-39 22-30 12-12 11-10 12-7 11-5 11-2 12-1 11 2 11 5 12 6 11 9 23 22 22 31 27 46 27 54 32 69 5-7 21-57 26-66 27-56 15-26 11-13 10-10 10-5 10-2 6 1 10 5 9 8 15 18 15 25 14 28 23 54 9 25M3476 1151l15 28 7 2 10-35 28-78 17-43 17-37 18-31 12-16 12-12 6-4 13-5 12-1 7 1 13 5 13 9 19 20 20 25 20 30 32 53 13 25 43-127 22-60 22-55 22-49 28-50 23-30 11-12 12-9 11-8 12-5 11-2 11 0 12 2 11 4 12 6 11 9 11 11 17 19 22 33 28 49 26 55 32 72 5-4 42-111 16-37 16-32 15-26 11-13 10-9 10-5 11-1 10 3 10 6 14 17 15 22 14 27 32 75M3482 1170l7 13 7 4 11-35 27-77 17-43 18-38 17-30 12-17 12-12 7-4 12-6 13-1 6 1 13 5 13 9 20 19 20 26 19 29 33 55 13 25 38-116 27-78 27-71 23-49 28-50 23-31 11-12 11-9 12-7 11-5 12-3 11 0 12 2 11 5 11 6 12 9 11 11 17 20 22 32 28 50 26 57 37 85 5-1 37-100 16-38 16-34 15-28 11-14 10-11 11-7 10-2 10 1 10 5 15 14 14 20 14 26 33 72M3487 1189l7 3 16-50 28-76 17-41 18-36 18-28 12-15 12-10 13-6 12-2 7 1 13 5 13 9 19 19 20 25 20 30 33 56 13 24 37-118 28-81 27-73 22-51 29-53 22-33 12-13 11-11 12-9 11-6 12-3 11-2 12 1 17 6 11 7 12 9 11 11 17 20 22 33 28 51 32 70 36 87 6 0 36-101 16-38 16-34 16-28 10-14 10-10 11-7 10-3 10 2 10 5 15 14 9 14 15 24 32 69M3492 1196l11-33 28-77 17-42 17-38 18-32 12-16 19-18 12-6 13-2 6 1 13 4 13 9 20 19 20 25 20 30 33 57 13 26 43-138 27-82 28-74 22-51 28-54 23-33 12-14 11-10 12-9 11-6 12-4 11-1 12 1 17 6 11 7 12 9 11 11 17 21 28 43 27 53 27 60 42 102 5-1 37-102 15-39 16-33 11-19 10-16 11-12 10-9 10-4 10 0 10 4 15 12 10 12 14 22 14 27 18 40M3496 1182l45-120 17-39 12-24 18-29 12-15 12-11 13-7 12-2 7 0 13 5 13 8 20 19 20 26 19 30 33 57 13 27 6-15 38-124 27-84 28-76 22-54 28-57 23-36 17-21 12-10 11-9 12-6 11-4 12-1 11 1 18 6 11 7 17 15 12 12 16 23 28 46 27 55 27 62 42 105 5-4 32-89 15-40 16-35 16-30 10-16 11-12 10-8 10-4 10 0 10 4 15 13 10 12 14 23 28 56M3499 1170l40-104 17-39 18-35 18-27 12-13 13-9 12-5 13-1 13 4 13 8 20 19 20 26 20 31 33 57 13 27 6-10 43-144 27-85 28-78 22-54 29-57 23-36 17-21 12-11 11-9 12-6 11-4 12-1 11 2 18 6 11 7 17 15 12 12 16 23 28 47 28 56 32 76 41 108 5-8 37-104 27-62 21-38 10-13 10-10 10-6 11-1 10 2 14 10 10 11 14 21 28 54M3503 1157l40-101 17-38 12-23 18-27 13-14 12-9 13-6 13 0 13 3 13 8 20 19 20 26 20 30 26 47 20 39 6-4 43-147 27-88 28-80 28-70 29-57 22-37 18-21 11-11 12-8 12-6 11-4 12-1 11 1 18 7 11 7 17 15 12 13 16 23 28 47 28 57 32 78 46 123 37-104 27-65 15-32 11-17 10-13 11-10 10-5 10-1 10 2 10 7 9 9 15 20 14 24 14 27M3507 1144l40-99 17-36 12-21 19-26 12-12 13-7 12-4 13 1 13 6 14 9 20 21 13 18 20 31 27 48 20 38 6 4 43-149 27-90 28-83 28-73 28-60 18-30 11-18 18-21 11-11 12-8 11-7 12-3 12-1 11 1 18 7 11 7 17 15 12 13 17 23 27 49 28 57 27 66 51 140 5 10 32-95 27-67 15-34 11-19 10-15 11-11 10-7 10-3 10 1 15 9 10 9 14 20 23 42M3510 1131l23-57 18-40 18-35 12-19 18-23 13-11 12-6 13-1 13 3 13 7 14 12 20 23 13 19 20 33 27 49 20 40 48-171 28-91 28-84 28-73 28-62 17-30 12-17 17-21 12-12 12-8 11-6 12-4 17-1 12 3 17 9 12 8 17 17 11 15 17 25 28 51 27 60 32 82 46 129 6 1 31-95 16-43 16-37 21-40 11-15 10-11 10-7 10-2 10 1 10 5 10 9 14 18 24 40M3514 1118l35-82 18-36 12-20 18-23 13-11 12-6 13-2 13 3 14 7 13 11 20 23 20 30 21 35 26 50 14 29 5-10 49-174 33-110 28-82 22-59 29-62 17-30 12-17 17-22 12-11 12-9 11-6 12-3 17-1 12 3 17 8 12 9 17 18 12 14 16 25 28 52 33 75 32 84 46 131 5-9 32-95 26-69 21-43 11-16 10-13 11-8 10-5 10 0 10 4 10 7 14 16 23 38M3518 1104l35-80 18-34 12-18 12-16 13-11 13-7 13-2 13 2 13 7 13 11 20 23 14 20 20 33 27 51 20 41 7 4 48-178 33-112 28-86 28-75 29-62 17-31 12-17 17-22 12-11 12-9 11-6 12-4 17 0 12 3 18 9 11 8 17 18 12 15 17 25 27 53 33 75 27 71 51 150 5 11 32-99 26-72 22-46 10-18 11-14 10-10 10-6 10-2 10 2 10 6 14 14 10 13 14 24M3522 1090l17-41 18-37 18-32 12-17 13-14 12-10 13-5 13 0 13 4 14 9 13 13 21 25 20 32 20 37 34 67 7 17 54-198 27-96 28-88 28-78 29-66 17-32 12-19 17-24 12-12 18-14 11-7 12-3 18-1 11 3 18 9 11 9 17 18 12 15 17 26 28 53 32 77 32 86 51 153 5-3 32-99 27-72 21-46 11-17 10-15 10-9 11-6 10-2 10 3 9 6 10 10 10 12 14 22M3525 1076l30-65 18-32 12-18 19-20 13-7 13-4 13 2 13 6 14 11 13 14 14 18 20 32 21 37 27 54 13 30 6-1 49-184 33-116 28-90 28-78 29-66 17-33 12-19 17-24 12-13 18-14 11-6 12-3 18-1 11 3 18 9 11 9 18 19 17 23 17 28 27 56 33 79 32 90 50 155 32-102 27-74 21-49 11-20 10-15 11-12 10-7 10-3 10 1 10 4 10 9 9 11 14 20M3529 1061l30-62 18-31 12-17 13-12 13-9 13-3 13 1 13 5 14 11 13 14 21 28 20 34 21 39 34 70 6 17 54-206 28-99 33-109 29-80 29-66 17-34 12-19 17-24 12-12 18-15 11-6 12-3 18-1 12 3 17 10 12 9 17 18 17 24 17 28 28 57 32 80 32 91 50 159 5-1 33-103 32-88 21-46 16-24 15-16 11-4 10-1 9 4 10 7 10 10 14 19M3533 1047l30-61 18-29 13-16 12-11 13-6 13-2 14 3 13 7 14 13 13 16 14 19 14 22 20 38 28 56 20 45 6 0 48-190 33-121 34-110 29-80 29-67 17-34 12-19 17-24 12-13 18-14 12-6 11-4 18 0 12 3 17 10 12 9 17 19 17 23 17 29 17 33 17 37 32 84 31 93 50 161 33-105 27-78 21-52 11-21 10-17 11-13 10-9 10-4 10 0 10 4 10 7 9 11 10 13M3537 1032l18-37 12-22 18-28 13-14 13-9 13-5 13 0 13 5 14 10 14 13 13 18 21 33 34 66 34 73 7 18 6-17 54-214 27-102 34-111 29-81 29-67 17-34 12-19 17-25 12-12 18-15 12-6 12-4 17 0 12 3 18 10 11 10 17 18 18 24 17 29 16 34 17 37 32 85 32 94 50 165 5-4 32-106 33-92 21-49 16-26 15-18 11-6 10-1 10 2 9 7 10 9 9 12M3540 1017l19-36 12-21 12-18 13-15 13-10 13-6 13 0 13 4 14 9 14 14 13 18 14 21 35 64 48 105 6 6 48-196 33-126 34-114 29-84 17-44 18-39 17-34 12-20 18-24 11-13 18-14 12-6 12-4 18 0 11 3 18 10 11 9 18 20 17 24 17 29 17 34 16 38 33 86 36 112 45 151 5 11 32-109 27-81 22-55 11-22 10-19 11-14 10-10 5-3 10-3 10 1 10 5 10 8 9 11M3544 1002l19-35 12-20 12-17 13-14 13-8 13-4 13 1 14 7 14 11 13 15 14 20 14 22 21 39 21 43 41 94 6-9 48-199 39-147 28-95 29-84 17-45 18-39 17-35 12-19 18-25 12-13 17-14 12-6 12-4 18 0 17 6 18 12 12 11 17 21 17 26 17 31 17 36 16 39 32 89 31 98 50 171 5-12 33-109 27-82 22-54 16-32 10-16 11-12 5-4 10-5 10 0 10 4 9 7 10 11M3548 987l19-34 12-20 13-16 12-11 13-7 14-2 13 3 14 8 13 13 14 17 14 21 14 25 35 70 48 111 54-224 33-128 34-116 29-86 17-44 18-40 17-35 12-19 18-25 12-13 18-14 11-7 12-3 18 0 18 6 17 12 12 11 17 21 17 27 17 31 17 36 16 40 33 90 36 117 44 156 5 1 33-112 33-100 21-54 16-32 11-15 10-11 6-4 10-4 5-1 10 3 9 6 10 10M3552 971l18-33 13-18 13-15 13-10 13-5 13-1 7 2 13 8 14 13 14 17 14 21 14 24 35 71 48 112 7 5 48-205 33-131 34-120 35-104 17-45 18-40 17-35 12-20 18-25 18-18 12-9 18-9 12-2 17 2 18 8 18 15 11 12 17 23 17 29 17 33 28 65 32 91 31 101 50 176 4 14 28-97 33-105 21-61 22-47 11-17 10-13 5-4 10-6 5-1 10 1 10 5 10 9M3556 956l12-22 13-19 12-16 13-11 14-6 13-1 13 4 14 10 14 14 14 19 28 48 21 43 21 47 42 100 5-8 55-230 38-151 29-98 29-86 17-46 18-40 18-35 12-20 17-25 18-18 12-10 18-8 12-2 18 2 17 8 18 15 12 12 17 24 17 28 17 34 16 38 17 42 32 94 36 121 44 161 5-14 33-114 27-88 22-60 16-36 11-20 11-14 5-6 10-7 5-2 10 0 10 4 10 8M3560 941l12-21 13-19 13-14 13-10 13-5 13 1 14 6 14 12 14 16 14 21 28 51 42 93 35 84 7 20 54-231 33-133 34-122 35-106 17-46 18-40 18-35 12-20 18-25 18-19 12-9 17-9 12-2 18 3 18 8 17 14 12 13 17 24 17 29 17 34 17 38 16 42 32 95 36 122 44 164 5-3 39-136 27-88 17-46 16-39 11-21 10-16 11-12 5-3 5-3 10-1 10 2 10 7M3564 926l12-21 13-17 13-14 13-8 13-3 7 0 14 6 14 11 14 16 14 20 28 51 29 61 55 136 7 12 48-213 39-158 34-122 35-107 18-46 17-41 18-35 12-20 18-25 18-19 12-9 18-9 12-2 18 3 17 8 18 14 11 13 18 24 17 29 17 35 27 66 32 94 36 122 49 184 5 8 28-101 28-94 22-68 21-56 11-23 11-18 10-13 6-5 5-3 10-3 10 2 9 6M3568 911l12-20 13-17 13-12 13-7 14-1 7 1 13 7 14 13 22 29 28 51 22 45 21 50 48 122 7 2 48-216 39-159 34-123 35-107 18-47 18-41 17-35 12-20 18-26 18-19 12-9 18-8 12-2 18 2 18 9 17 14 12 13 17 24 17 30 17 34 17 39 16 43 32 97 36 125 48 185 28-103 33-114 23-68 21-56 17-32 15-20 6-4 10-5 10 1 9 5M3572 896l13-20 12-15 13-11 14-6 13 1 7 2 14 9 14 15 14 20 15 23 28 58 36 82 48 126 6-8 49-218 39-160 29-105 29-94 29-80 18-41 12-25 18-31 12-18 18-21 12-10 18-11 18-4 17 2 18 9 18 15 17 20 18 26 17 32 16 36 17 41 16 44 21 65 41 143 49 190 5-16 33-122 28-95 23-68 16-43 16-34 16-23 5-5 11-6 10 0 9 4M3576 881l13-19 13-14 13-10 13-4 7 0 14 5 14 11 14 17 14 21 15 26 28 60 43 103 42 110 5-16 44-196 39-164 28-107 29-97 29-84 30-69 18-33 12-19 18-24 12-12 18-12 18-7 18 1 18 6 18 13 17 19 17 24 23 41 17 37 16 41 17 45 21 65 41 145 48 191 5-7 39-145 28-96 17-52 17-45 11-25 10-21 16-21 5-5 11-4 5-1 9 3M3580 867l13-18 13-14 13-9 7-2 14 1 7 3 14 10 14 16 14 20 14 26 29 59 43 105 49 129 49-221 33-142 34-131 29-97 30-84 29-70 18-34 12-19 19-23 12-12 18-13 18-6 18 0 17 7 18 13 18 18 17 25 23 41 16 37 17 41 16 46 21 66 41 145 48 194 5 0 34-127 28-99 23-73 22-61 16-36 16-23 5-6 10-6 6 0 9 2M3584 853l13-17 13-13 14-8 6-1 7 0 14 6 14 12 15 17 14 23 14 27 29 62 29 70 56 148 7 15 43-200 39-168 34-131 29-98 30-85 30-69 18-34 12-20 18-23 12-12 18-13 18-6 18 0 18 7 18 13 17 19 17 25 23 41 17 37 16 42 17 45 21 67 41 146 48 196 5 7 33-129 29-101 22-75 22-64 17-38 16-26 5-6 10-7 6-2 9 1M3589 840l12-17 14-12 13-6 7-1 7 2 14 7 14 13 14 20 22 38 29 62 36 89 56 151 7 7 43-201 39-169 35-132 29-98 29-85 30-70 18-35 12-19 18-23 13-13 18-12 18-7 18 1 18 6 17 14 18 19 17 25 23 42 17 37 16 42 16 45 21 67 36 129 53 216 5 14 28-109 34-125 23-77 22-67 17-40 16-28 10-12 5-4 6-2 10 0M3593 828l13-17 13-11 14-5 7 0 6 2 15 9 7 7 14 18 22 37 29 62 43 109 56 153 7 1 43-203 34-146 34-135 29-101 18-55 18-49 30-71 18-34 12-19 18-24 12-12 18-13 18-6 18 0 18 7 18 13 17 19 18 25 22 42 17 38 22 57 16 47 21 69 41 150 47 199 62-237 23-79 23-69 16-42 17-31 10-13 5-4 6-3 10-1M3597 816l13-16 14-10 6-3 7-1 7 1 7 3 14 10 8 8 14 20 15 25 14 29 30 67 43 112 49 137 6-4 49-230 39-169 29-110 29-99 30-86 30-70 18-35 12-19 19-24 12-12 18-13 18-6 18 0 18 7 17 13 18 20 17 25 23 42 17 38 22 57 16 48 21 68 40 152 47 201 69-257 22-78 17-53 17-44 16-33 11-15 5-5 6-3 10-2M3602 806l13-16 7-5 6-4 7-3 7 0 7 2 14 8 14 15 15 22 15 26 14 31 30 69 43 114 49 138 6-9 49-231 40-169 28-111 30-100 30-86 30-70 18-35 12-19 18-24 12-13 18-12 19-7 18 1 17 7 18 13 18 19 17 26 23 42 16 38 22 58 16 47 21 70 41 152 47 202 5-16 69-260 23-78 17-51 16-43 17-31 10-13 5-4 11-3M3606 796l13-15 7-5 7-3 7-2 7 0 7 2 14 10 14 17 15 23 15 27 15 32 29 71 43 116 49 139 6-13 44-207 39-172 29-113 29-102 30-90 30-74 18-36 12-21 19-27 12-13 18-15 18-9 18-2 12 3 12 5 18 14 17 19 18 26 22 42 17 38 22 58 16 48 21 69 40 153 47 204 6-13 45-177 29-106 34-112 17-44 17-33 10-14 5-5 11-3M3611 788l13-14 7-5 7-3 7-2 7 1 7 3 14 11 14 18 15 24 30 61 29 73 43 117 49 141 6-16 44-209 39-172 29-114 30-103 30-89 30-74 18-37 12-21 18-26 12-14 19-15 18-9 18-2 12 3 12 5 17 14 18 19 17 26 23 43 17 38 22 58 16 48 20 70 41 153 47 205 5-9 69-265 23-81 17-55 17-46 16-34 11-15 5-5 11-5M3616 782l13-14 7-5 7-3 6-1 7 2 8 3 14 12 15 19 14 25 30 63 29 74 44 119 48 142 6-20 44-209 34-149 35-138 29-103 30-90 30-74 18-37 13-21 18-27 12-13 18-16 18-8 19-2 12 3 11 5 18 14 18 19 17 26 23 43 16 38 22 58 16 48 21 70 40 154 47 206 5-6 69-268 23-82 18-55 17-48 16-36 11-16 5-5 11-5M3621 777l13-14 7-4 7-3 6 0 8 1 7 4 14 13 7 9 15 24 15 28 15 32 29 73 44 119 56 163 5-22 50-235 28-124 35-139 30-103 30-90 30-75 18-37 12-21 19-26 12-14 18-15 18-9 18-1 12 2 12 6 18 13 17 20 18 26 22 43 17 38 22 58 16 49 21 70 40 154 46 207 6-5 69-269 23-83 17-56 17-49 17-37 11-17 5-5 11-6M3626 775l13-14 7-4 7-3 7 0 7 2 7 4 14 14 7 9 15 24 15 29 15 33 29 73 44 120 56 164 50-234 34-150 35-139 29-103 30-90 30-75 19-37 12-21 18-27 12-14 19-15 18-8 18-2 12 2 12 6 18 13 17 20 17 26 23 43 17 38 22 59 15 48 21 71 40 155 47 207 5-4 69-270 24-83 23-75 17-46 11-24 11-17 5-6 10-7M3631 774l13-14 7-4 7-2 7 0 7 2 7 4 14 14 8 10 14 24 15 30 15 33 30 74 43 120 56 164 50-235 34-150 35-139 30-104 30-90 30-75 18-37 13-21 18-27 12-14 18-15 19-8 18-2 12 2 12 6 17 13 18 20 17 26 23 43 16 38 22 59 16 49 21 70 40 155 46 208 5-2 70-272 23-84 24-75 17-46 11-25 11-18 5-6 10-6M3636 776l13-14 7-4 7-2 7 0 7 2 7 4 15 14 7 10 15 25 15 29 14 33 30 75 43 120 56 165 50-236 34-151 35-139 30-104 30-90 31-75 18-37 12-21 19-27 12-14 18-15 18-9 18-2 12 3 12 5 18 14 18 20 17 26 22 43 17 38 22 59 16 49 20 70 40 155 47 208 5-2 70-271 23-85 23-75 17-47 11-24 11-18 6-7 10-6M3641 779l14-13 7-5 6-2 7 0 8 2 7 4 14 15 7 9 15 25 15 29 15 33 29 75 44 120 55 165 51-236 34-151 35-139 30-104 30-90 30-76 19-37 12-21 18-26 13-14 18-16 18-8 18-2 12 2 12 6 18 13 17 20 18 26 22 43 17 39 22 58 15 49 21 71 40 155 46 208 5-2 70-272 24-84 23-76 17-46 11-25 11-18 5-6 11-6M3647 785l13-14 7-4 7-2 7 0 7 1 7 4 15 14 7 10 15 24 14 29 15 33 30 74 43 120 56 164 50-234 34-151 35-140 30-104 31-90 30-75 18-38 13-21 18-26 12-14 19-16 18-8 18-2 12 2 12 6 18 13 17 20 17 26 23 43 17 39 21 58 16 49 21 71 39 155 46 208 6-3 70-271 23-84 23-75 18-47 11-24 11-17 5-6 10-7M3653 793l13-14 7-4 7-3 7 0 7 1 7 4 14 13 7 10 15 23 15 29 15 32 29 73 43 120 56 164 5-22 51-237 29-125 35-140 30-103 30-91 31-75 18-38 12-21 19-26 12-14 18-16 19-8 18-2 12 2 12 6 17 13 18 20 17 26 23 43 16 39 22 58 16 49 20 70 40 156 46 207 5-4 70-271 24-83 23-75 17-45 11-24 11-17 6-6 10-6M3658 804l14-15 6-5 7-3 7 0 7 1 7 3 15 13 14 19 15 25 29 64 30 74 43 120 48 143 6-20 45-211 34-151 36-139 30-104 30-90 30-76 19-37 12-21 19-27 12-14 18-15 18-9 19-2 12 3 11 5 18 14 18 20 17 25 22 44 17 38 22 58 15 49 21 71 39 155 46 207 6-6 70-270 23-83 18-56 17-48 17-37 11-16 5-5 10-6M3664 815l13-14 7-5 7-4 7-1 7 1 7 3 14 11 15 18 14 25 30 62 29 73 43 119 48 142 6-17 45-211 41-175 29-115 30-103 31-91 30-75 19-38 12-21 18-26 13-14 18-16 18-9 18-1 12 2 12 5 18 14 17 20 18 26 22 43 17 38 21 58 16 49 21 70 39 155 46 207 5-9 71-268 23-82 18-55 17-47 16-35 11-16 6-5 10-4M3670 829l13-15 7-6 7-3 7-2 7 0 7 2 14 11 15 17 14 23 15 28 14 32 29 72 43 117 48 141 6-13 46-210 40-175 30-115 30-104 30-90 31-75 18-38 13-21 18-26 12-14 19-16 18-8 18-2 12 2 12 5 18 14 17 20 17 25 23 43 16 39 22 58 16 49 20 70 39 154 46 206 6-12 47-179 29-108 35-114 17-45 17-34 11-14 5-5 10-4M3676 844l13-16 7-5 7-4 7-3 7 0 7 2 14 8 14 16 15 22 14 27 15 31 29 70 43 116 48 139 6-9 51-235 41-172 29-113 31-101 30-88 31-72 18-35 13-20 18-24 12-13 19-13 18-6 18 0 18 7 17 14 18 19 17 26 23 43 16 38 22 58 15 49 21 70 39 154 46 205 5-16 71-264 23-79 18-53 17-44 16-31 11-14 5-4 11-3M3682 860l13-16 14-11 7-2 7-1 7 1 7 2 14 11 7 8 14 20 15 26 14 30 29 68 43 114 48 138 6-5 51-234 41-171 30-113 30-101 31-87 31-72 18-35 12-20 19-24 12-13 18-13 19-7 18 1 18 7 17 13 18 20 17 25 22 43 17 38 21 58 16 48 20 70 39 154 46 203 70-260 24-80 18-54 17-45 16-34 11-15 5-5 6-4 10-2M3688 878l13-17 14-12 7-3 6-2 7 1 7 2 15 9 7 7 14 19 22 37 29 64 42 110 55 155 6 1 46-207 35-149 36-138 30-104 18-56 19-50 30-72 19-35 12-20 19-24 12-13 18-13 19-6 18 0 17 7 18 13 17 20 18 25 22 43 16 38 22 58 16 48 20 69 39 153 45 202 65-241 24-81 23-70 17-44 17-31 11-14 5-5 5-3 10-1M3694 896l13-17 14-13 13-6 7 0 7 1 14 7 7 6 15 17 21 36 29 61 43 107 54 154 7 7 46-207 41-172 35-136 31-100 30-87 31-72 19-35 12-20 19-24 12-13 18-13 18-7 18 1 18 7 18 13 17 19 17 26 23 42 16 38 16 43 16 46 21 68 34 131 50 220 5 15 29-112 36-128 23-78 24-69 17-41 16-29 11-13 5-4 5-2 10 0M3700 915l14-18 13-13 13-8 7-1 7 0 14 6 14 12 15 19 14 23 14 27 29 64 35 90 48 132 6 14 46-205 41-172 36-135 31-100 30-87 31-72 19-35 12-19 18-25 13-12 18-13 18-7 18 0 18 7 18 13 17 20 17 25 22 42 17 38 16 42 16 47 20 67 39 150 46 199 5 8 35-132 30-104 23-77 23-66 17-39 17-27 5-6 10-8 5-2 10 1M3707 935l13-19 13-14 14-9 6-2 7 0 7 1 7 3 14 10 14 16 15 22 14 26 28 61 42 107 48 131 52-228 35-146 36-134 30-100 31-87 31-71 18-35 13-20 18-24 12-13 19-13 18-7 18 1 18 6 17 13 18 20 17 25 22 42 17 37 16 43 15 46 21 67 39 149 45 197 5 1 36-130 29-102 24-75 23-63 17-37 16-25 5-5 11-7 5-1 10 2M3713 956l13-20 13-15 14-10 6-3 14-1 7 2 14 9 14 14 14 20 14 24 29 59 42 103 40 110 7 21 6-18 46-202 41-168 31-111 30-100 31-86 31-71 18-35 13-20 18-24 12-13 19-13 18-7 18 1 18 6 17 13 18 19 17 25 22 42 16 38 16 42 16 46 20 66 39 148 46 196 5-7 41-148 30-99 23-71 17-44 17-34 16-22 6-5 10-5 5 0 10 3M3719 977l13-21 13-16 14-11 13-6 14 1 7 2 14 10 14 15 14 20 14 25 28 59 42 102 40 111 6-9 53-225 41-166 30-108 25-78 31-87 30-71 19-35 12-19 19-24 12-13 18-13 19-7 18 0 17 7 18 13 17 19 17 25 23 41 16 37 16 42 16 46 20 66 39 147 45 194 6-15 35-126 30-99 23-70 17-45 11-24 12-20 10-15 6-5 5-4 10-4 5 1 10 3M3725 998l13-21 13-17 14-13 13-7 14-1 7 1 14 8 14 13 21 29 28 53 21 47 20 51 48 125 6 1 52-223 42-165 36-128 37-111 19-48 18-43 19-36 12-21 19-27 18-19 12-10 18-9 12-2 18 2 18 9 18 14 11 14 17 24 17 31 16 35 16 40 16 44 30 99 34 128 46 191 35-126 29-98 24-71 23-58 16-33 17-21 5-5 10-5 10 1 10 5M3732 1020l13-22 13-18 13-14 13-9 14-3 7 1 14 5 13 12 14 16 14 21 28 53 35 80 47 122 6 11 53-221 42-163 36-128 37-110 18-48 19-43 19-36 12-21 18-27 19-19 12-10 18-9 12-2 18 2 18 9 17 14 12 13 17 25 16 30 17 35 26 69 31 96 34 125 46 190 4 9 30-105 29-98 24-70 23-59 11-24 11-19 11-13 5-5 5-4 10-3 10 1 10 6M3738 1041l13-22 13-19 13-15 13-10 14-5 14 1 13 6 14 12 14 17 14 21 28 54 41 95 33 86 7 21 58-241 36-139 37-127 37-110 18-48 19-42 18-37 13-21 18-26 19-20 12-9 18-9 12-2 18 2 18 8 17 15 12 13 17 24 16 30 17 35 16 39 15 44 30 97 34 126 41 169 5-2 41-142 30-91 23-63 17-37 16-28 11-12 5-4 5-3 11-2 9 3 10 7M3744 1063l13-23 13-20 13-16 13-12 14-6 13-1 14 4 14 10 14 15 14 20 27 50 21 44 20 48 40 104 6-11 53-216 42-159 37-124 30-90 19-48 19-42 18-36 13-21 18-26 18-20 13-10 18-9 12-2 18 2 17 8 18 15 11 13 17 24 17 30 16 34 16 39 16 44 30 96 34 125 40 166 6-13 35-119 30-91 23-63 17-38 11-21 11-15 5-6 11-8 5-2 10 0 9 4 10 7M3750 1085l20-34 13-19 13-16 13-11 14-5 6-1 14 3 14 8 14 13 13 17 14 22 14 25 34 73 47 116 6 3 53-214 36-136 36-126 37-109 19-47 18-42 19-36 12-21 19-26 12-14 18-16 13-6 12-4 18 0 17 6 18 12 11 12 17 22 17 27 16 33 16 37 16 42 31 94 29 104 50 198 29-101 36-110 23-63 22-50 11-18 11-14 5-5 11-6 5-1 10 0 10 5 9 9M3757 1108l19-36 13-21 13-16 13-12 14-8 13-2 14 3 13 9 14 13 14 18 14 22 13 25 34 73 46 113 59-234 37-134 36-122 31-90 19-47 18-42 19-36 12-21 19-26 12-13 18-16 12-7 12-3 18-1 18 6 18 12 11 12 17 22 17 27 16 33 27 64 30 91 34 119 46 179 5 3 29-99 30-90 23-63 23-50 11-19 10-14 6-6 10-7 10-2 10 2 10 6 9 10M3763 1130l19-37 13-22 13-17 13-14 14-9 13-4 14 1 13 7 14 11 13 16 14 20 14 24 20 40 20 45 33 79 7 18 6-11 53-209 43-154 30-100 31-89 19-47 18-42 19-36 12-20 19-26 12-14 18-15 12-7 12-4 18 0 18 5 17 12 12 12 17 22 16 27 17 32 16 37 15 40 31 92 29 102 45 177 6-11 35-114 29-86 23-57 17-34 11-17 11-13 5-4 10-6 10 0 10 3 10 8 9 10M3769 1152l19-38 13-23 13-19 13-15 14-11 13-5 13-1 14 4 14 10 13 14 14 19 13 21 14 25 20 42 27 60 19 49 6 4 54-206 36-132 37-121 31-88 18-47 19-41 19-36 12-20 18-26 13-14 18-15 12-7 12-4 18-1 18 6 17 12 11 11 17 22 17 27 16 32 27 63 30 89 29 99 46 174 5 13 29-97 35-103 23-58 12-23 11-20 11-16 10-10 5-4 11-4 10 1 9 5 10 9 9 11M3775 1174l19-39 13-24 20-29 13-14 13-10 14-6 13 0 13 5 14 10 14 15 13 18 20 34 21 40 19 44 27 61 6 18 60-223 30-109 37-119 31-88 18-47 19-41 18-35 13-21 18-26 12-14 19-15 12-7 12-4 18 0 11 3 18 10 11 9 17 20 17 25 16 30 17 34 15 39 31 88 29 98 46 171 5-2 35-112 35-97 23-51 16-29 16-19 11-6 10-2 10 2 9 6 10 10 9 12M3782 1196l31-65 20-31 13-16 13-11 13-7 14-3 13 4 14 7 13 13 14 17 13 20 20 36 20 41 27 59 12 32 7-3 53-201 37-128 37-116 31-85 31-71 18-36 13-20 18-26 12-13 18-16 13-7 12-3 17-1 12 3 18 9 11 10 17 19 17 25 16 30 16 34 16 38 30 88 29 96 46 168 35-109 29-82 23-55 12-23 11-18 10-14 11-10 10-5 10 0 10 4 10 7 9 11 9 13M3788 1218l32-67 19-32 13-18 13-13 13-9 14-4 13 1 13 6 14 10 13 15 21 29 13 24 20 39 26 57 19 45 54-197 37-127 37-116 30-84 31-71 19-35 12-20 19-26 12-14 18-15 12-7 12-4 18-1 12 3 17 10 12 9 17 19 16 25 17 29 26 59 31 84 29 94 46 166 5 1 35-109 35-93 23-49 16-27 16-16 11-6 10-1 10 3 9 7 9 10 14 20M3794 1239l32-68 19-34 13-19 20-21 13-9 13-3 13 1 14 7 13 11 14 15 13 18 20 34 20 39 26 56 13 31 6-4 54-195 37-124 30-95 31-83 31-71 19-35 12-20 19-26 12-13 18-16 12-7 12-4 18 0 12 2 17 10 11 9 17 19 17 24 16 29 27 58 30 83 29 94 46 162 35-106 30-79 22-52 12-21 11-17 10-13 11-8 10-4 10 1 10 4 9 9 9 11 14 21M3800 1261l19-43 19-40 20-34 12-19 14-14 13-11 13-5 13 0 14 4 13 9 13 13 20 27 20 33 20 39 26 55 13 31 54-192 36-122 31-94 31-83 31-70 19-35 12-21 18-25 13-14 18-15 12-7 12-4 18-1 11 3 18 9 11 9 17 19 11 15 16 27 27 56 30 80 30 90 46 159 5 0 36-105 17-48 17-42 23-46 16-24 11-11 10-7 11-2 9 2 10 6 9 10 10 12 13 23M3806 1282l38-85 20-36 12-20 14-16 13-12 13-8 13-2 13 2 14 7 13 12 20 24 20 31 19 37 26 53 13 30 6 1 55-189 36-121 31-91 31-80 31-67 19-33 12-19 18-23 12-12 13-10 12-6 12-5 17-1 12 3 17 9 12 9 17 19 11 15 16 27 26 54 31 79 29 89 46 155 36-105 29-76 23-49 11-20 11-15 10-12 11-7 10-2 10 2 10 5 14 15 9 13 13 24M3813 1304l37-88 20-38 12-21 20-26 13-11 13-7 13-2 14 3 13 7 13 11 20 25 20 31 20 36 32 67 6 16 6-13 48-166 37-119 31-90 31-80 31-66 18-33 13-19 18-23 12-12 12-10 12-7 12-4 18-1 12 3 17 9 11 9 17 18 11 15 16 26 27 54 30 78 29 88 42 138 6-7 35-102 29-73 23-47 11-18 11-14 10-9 10-5 11-1 9 3 10 8 14 16 9 14 13 25M3819 1325l37-91 20-39 12-23 20-27 13-14 13-9 13-4 13 1 14 5 13 10 20 22 13 19 20 33 51 101 54-183 31-98 31-89 31-79 31-66 18-33 12-19 19-23 12-12 12-10 12-6 12-4 12-2 11 1 18 7 11 8 17 16 11 13 17 25 26 51 26 61 29 84 47 150 5 5 35-102 29-73 17-36 12-20 11-17 10-12 11-7 10-4 10 1 10 5 9 9 14 18 22 41M3825 1345l44-106 19-40 13-22 19-27 13-13 13-9 14-4 13 1 13 6 13 10 20 22 20 29 19 34 26 51 12 28 6 0 49-161 31-96 31-89 30-78 31-66 19-32 12-19 18-23 13-12 12-10 12-7 12-4 17-1 12 2 17 9 11 9 17 17 11 15 16 26 27 52 25 63 29 84 42 131 36-101 29-73 17-36 11-20 11-17 11-12 10-8 11-4 10 1 5 2 9 6 10 10 13 20 22 43M3831 1366l44-110 19-40 13-24 19-30 13-15 13-10 13-6 14-1 13 4 13 8 20 19 19 27 20 33 25 48 19 41 6-8 49-158 37-112 31-84 24-60 31-62 25-40 18-23 12-12 12-10 12-6 12-5 12-1 12 1 17 6 11 8 17 15 11 13 16 24 27 50 25 60 30 81 42 130 6-11 41-113 23-55 17-34 11-19 11-14 11-11 10-6 10-2 10 2 10 6 9 10 14 20 13 25 13 28M3837 1386l44-112 19-43 19-36 20-30 13-14 13-10 13-6 13 0 13 4 13 8 20 20 19 27 20 32 31 60 13 29 6-15 49-156 31-91 30-84 25-59 31-62 25-39 18-23 12-12 12-10 12-7 12-4 12-2 11 1 18 6 11 8 17 15 11 13 16 24 26 49 26 59 29 80 38 113 5-5 35-97 18-44 17-38 23-41 11-15 10-11 11-7 10-2 10 2 14 10 10 11 13 22 26 56M3843 1406l50-130 19-42 13-26 20-31 12-17 14-12 13-7 13-3 6 1 13 4 14 9 19 19 20 27 19 32 25 48 19 39 49-152 30-91 31-83 25-59 31-61 24-39 19-23 12-12 12-10 12-7 11-4 12-2 12 1 17 6 11 7 17 15 11 13 16 24 27 48 25 58 25 65 37 111 6 0 41-112 17-42 17-36 12-21 11-17 11-14 10-9 11-5 10 0 10 4 14 12 9 12 14 24 25 58M3849 1428l13-36 31-83 19-46 19-41 19-34 13-18 13-14 7-6 13-7 13-2 7 1 13 4 13 9 19 20 13 18 19 30 19 34 32 60 48-150 31-89 31-80 25-56 31-59 24-36 12-15 12-12 12-10 12-6 12-5 12-2 11 1 18 6 11 7 11 9 11 12 16 22 22 35 25 54 30 75 38 107 5 3 35-96 35-82 17-32 11-17 11-14 11-9 10-6 11 0 10 3 14 12 9 12 13 24 13 27 17 42M3855 1432l7-2 18-54 32-82 19-45 19-39 19-31 13-16 13-11 13-7 13-2 13 3 13 7 20 18 19 25 20 30 49 91 43-129 31-88 31-79 25-56 30-58 25-37 12-14 12-12 12-10 12-7 12-4 11-2 12 1 17 6 11 6 12 10 11 11 16 21 21 35 26 53 29 74 34 92 5 4 6-18 35-92 17-42 18-37 17-30 11-16 10-11 11-8 10-3 10 0 10 6 14 14 10 14 13 25 13 29 16 43M3860 1418l7 14 7-1 12-37 32-85 19-46 19-41 19-34 13-17 13-14 7-4 13-7 13-1 13 3 13 7 19 18 19 25 20 30 49 91 43-127 31-86 31-77 24-53 31-56 24-33 13-14 12-10 12-9 11-5 12-3 12-1 11 2 12 4 11 7 11 9 11 11 16 21 21 35 21 41 30 71 33 90 5 3 41-109 18-42 17-37 17-30 11-16 11-12 11-8 10-4 10 1 10 4 14 14 14 22 13 27 29 74M3865 1405l15 29 6-3 19-55 25-68 19-46 19-41 19-34 13-17 13-13 7-5 13-6 13-1 13 3 13 8 19 18 20 25 19 30 25 44 24 47 37-107 31-84 30-76 25-53 31-55 24-34 12-13 12-11 12-8 12-6 12-3 11-1 12 2 11 4 11 7 11 9 11 11 17 20 21 34 25 52 25 58 29 76 5 1 18-49 29-73 17-41 18-35 17-28 11-14 10-11 11-6 10-2 10 3 10 6 14 17 14 23 13 28 29 78M3870 1392l22 44 6-5 19-56 25-68 19-47 19-41 20-33 13-17 13-13 6-5 13-5 13-1 7 1 13 6 13 9 19 21 19 27 19 31 31 55 12 26 49-136 25-64 24-58 25-51 24-43 25-33 12-14 12-10 12-9 11-5 12-4 12 0 11 1 12 5 11 6 11 9 22 24 21 31 26 49 24 57 29 73 5-3 48-121 17-40 17-35 17-29 12-15 10-10 11-7 10-2 5 0 10 5 10 8 14 19 13 25 13 30 21 56 8 26M3875 1379l29 60 7-10 25-74 25-67 19-45 13-27 19-33 13-17 13-12 7-5 13-5 13 0 13 4 12 8 20 18 19 25 19 30 37 65 12 25 6-9 37-102 31-79 24-56 25-48 24-40 24-31 12-12 12-10 18-9 12-4 11-1 12 2 11 4 11 6 11 9 22 23 21 32 21 37 25 55 29 71 5-9 53-133 29-62 17-29 11-15 11-11 11-7 10-2 10 2 10 6 14 16 14 23 13 29 21 56 12 38 5-9M3881 1367l36 77 50-144 19-47 19-41 19-32 13-17 13-12 7-4 13-5 13 0 13 4 13 8 19 19 19 25 19 30 37 64 12 24 6-1 30-84 31-77 25-56 24-48 25-40 24-31 12-12 12-10 12-7 11-4 18-3 11 2 11 4 12 6 11 8 21 24 21 30 21 38 20 42 29 68 47-119 35-79 18-31 11-17 16-19 11-7 10-3 10 2 10 5 10 10 14 21 17 37 17 45 16 50 5-3 6-18M3886 1355l36 79 7 10 12-41 32-90 19-49 19-43 19-36 20-26 13-12 6-4 13-4 13 0 13 5 13 8 19 19 19 26 19 29 55 95 30-82 31-76 25-53 24-46 24-38 25-28 11-11 12-8 18-8 17-2 12 1 11 4 17 10 21 20 16 21 21 34 25 50 25 55 5 3 47-119 35-78 17-32 12-18 16-19 11-7 10-4 6 0 10 4 9 7 14 19 14 25 13 31 16 46 12 39 5 5 12-37M3891 1343l43 97 7-1 19-59 25-72 19-50 19-43 20-35 19-26 13-11 7-4 13-4 13 0 12 5 13 9 19 20 19 25 19 29 43 73 11 23 7-8 30-79 31-71 25-50 18-32 24-35 24-27 18-13 12-6 11-3 17-1 17 5 17 10 22 20 16 20 20 34 20 38 25 54 6-9 59-144 29-62 17-30 11-16 17-17 10-6 11-1 5 1 10 5 9 9 14 21 13 28 13 32 17 48 12 40 18-55M3897 1331l50 116 6-14 25-77 26-72 19-47 13-28 19-35 20-26 13-11 6-3 13-4 13 1 13 6 13 9 19 20 12 16 19 28 60 104 6 5 31-77 25-56 24-50 18-32 25-35 24-26 17-13 12-6 12-4 17 0 17 4 16 10 22 20 16 20 15 24 21 37 19 41 5 5 60-144 35-76 17-31 11-16 17-17 11-6 10-2 5 1 10 5 10 9 14 20 13 28 13 32 16 49 12 41 5-7 19-58M3902 1320l50 118 7 11 19-61 32-93 19-50 19-44 20-34 19-25 13-11 6-3 13-3 13 1 13 6 13 10 19 20 19 25 18 29 48 81 12 22 6-8 31-73 25-53 18-35 18-30 24-33 18-18 18-14 11-6 12-3 17-1 17 4 17 10 16 14 16 18 21 31 15 27 20 39 5-9 66-155 29-63 17-31 12-16 16-18 11-7 10-2 5 1 10 4 10 9 14 20 9 18 13 31 17 49 15 53 5 6 24-78M3908 1309l57 138 7-5 18-62 26-75 19-52 19-46 19-38 13-19 13-16 13-10 13-5 7 0 13 2 13 6 19 16 19 23 18 26 78 128 43-97 24-47 19-30 18-26 18-20 17-15 18-10 17-4 17 0 17 6 16 11 16 15 16 20 21 32 20 37 5 0 66-155 35-76 17-31 12-17 16-19 11-7 11-3 5 1 10 4 9 9 14 20 14 27 13 34 20 63 12 44 6-16 24-79M3913 1299l65 157 12-43 32-99 19-54 19-48 19-40 13-22 20-24 13-9 13-5 6 0 13 2 13 7 19 17 19 23 18 26 78 126 6 3 37-80 18-34 18-31 18-25 18-20 18-15 17-10 18-5 17 1 16 6 17 10 16 15 15 20 16 23 15 26 5 6 77-180 30-63 17-31 12-18 17-19 10-8 11-3 5 0 10 4 10 8 14 20 13 28 13 34 17 51 15 56 5 1 31-101M3919 1289l64 162 7-4 25-84 25-77 20-52 19-46 19-37 13-19 13-14 13-9 13-5 7 0 13 3 12 8 19 17 19 23 19 27 83 132 6-1 36-75 19-31 18-27 18-22 12-12 17-14 12-6 11-3 17-1 17 4 17 8 16 14 15 18 31 45 83-189 30-63 18-32 11-18 17-20 11-8 10-4 6 0 10 4 5 3 9 10 14 23 13 29 13 36 20 67 12 45 37-120M3924 1280l72 181 19-66 31-101 20-54 19-48 19-40 13-21 13-17 7-6 13-8 13-4 6 0 13 4 13 8 19 18 12 15 19 26 60 94 35 52 6-1 18-37 18-33 18-28 12-17 18-20 12-11 12-8 11-6 12-4 17-1 11 2 16 7 11 7 16 15 16 19 15 22 36-77 65-148 24-48 18-31 11-17 11-13 11-8 11-4 5-1 10 3 5 3 10 10 14 23 13 30 13 35 16 54 16 59 4 2 38-125M3930 1270l71 187 7-8 44-147 20-56 19-51 19-43 13-23 20-25 13-11 13-5 6-1 13 2 13 7 19 16 12 14 19 26 78 119 29 39 5 2 31-54 24-35 18-20 11-11 12-8 12-6 11-4 11-2 12 1 16 5 11 7 11 8 10 10 16 19 5 4 42-87 66-146 23-49 18-32 11-17 12-13 11-10 10-5 6 0 10 2 5 3 9 10 14 22 14 30 17 49 20 70 11 47 6-15 38-127M3935 1262l72 190 7 10 19-68 32-104 19-57 19-50 20-43 13-23 13-17 6-7 13-10 13-5 7 0 13 3 12 7 19 17 13 14 18 26 72 109 17 24 29 35 24-39 24-33 24-24 11-8 12-6 17-5 11 0 12 1 11 4 10 7 11 8 16 15 5-3 48-94 66-146 23-49 18-32 12-18 11-14 11-10 11-5 5-1 10 2 5 2 10 10 14 21 14 30 12 37 17 55 19 75 4 8 45-150M3941 1254l79 212 6-17 26-88 25-84 20-57 19-51 19-42 14-22 13-17 6-7 13-9 13-4 13 1 13 6 19 15 12 14 19 25 60 92 23 33 23 28 23 23 6 3 24-34 17-21 18-15 17-10 17-5 17 0 17 5 11 6 10 8 6 1 29-52 24-46 78-170 24-48 23-40 11-15 12-10 10-6 6-2 10 2 5 2 10 9 14 21 14 30 16 50 20 72 16 63 5-6 45-153M3947 1246l79 216 6-2 26-91 25-85 20-59 19-54 20-45 13-24 19-27 13-11 13-6 13 0 13 4 19 14 12 13 19 24 60 91 29 41 29 32 34 27 30-31 17-14 12-6 11-4 11-2 17 2 17 7 5-4 35-56 24-44 30-61 60-131 24-48 23-37 11-14 12-9 10-5 6 0 10 3 5 4 10 10 14 24 13 32 17 53 19 74 15 66 52-175M3953 1238l78 221 7 12 19-71 32-110 20-61 19-56 20-47 19-38 13-19 7-7 13-11 13-4 13 0 13 5 12 10 13 12 18 23 72 108 18 23 17 21 17 17 18 13 22 12 17 5 18-12 11-7 12-4 16-2 6-3 17-20 24-31 23-37 30-56 78-167 24-48 24-39 11-15 11-10 11-5 5-1 11 3 5 3 9 10 15 23 13 33 12 38 21 74 18 81 5 7 52-179M3958 1232l37 101 49 142 58-200 19-62 20-55 19-48 20-37 13-18 7-7 13-9 13-4 12 1 13 7 19 16 13 14 18 25 48 73 24 33 23 29 17 17 17 13 17 9 17 5 23-1 11-3 12-5 23-18 23-25 23-33 24-39 24-45 78-167 24-47 24-38 17-18 11-6 5-1 5 0 11 4 5 5 9 11 14 27 13 34 17 56 19 78 15 67 5-6 53-181M3964 1225l37 103 49 145 7-7 31-118 26-89 20-62 19-56 20-47 13-25 13-20 7-8 13-12 13-5 13 0 13 5 12 9 13 12 18 24 72 106 18 23 17 20 23 20 17 11 12 4 11 3 17 0 12-2 11-5 11-6 12-9 23-23 29-39 24-39 24-46 73-154 24-48 23-39 12-14 11-10 11-4 5-1 5 1 10 6 5 6 10 13 14 29 13 37 16 58 19 80 15 69 6-17 52-183M3970 1220l37 103 49 147 7 5 51-189 26-86 20-58 19-50 20-39 13-20 7-7 13-10 13-5 13 1 12 6 19 17 25 31 72 106 23 29 17 17 17 14 18 9 17 5 17 0 11-2 12-5 11-6 12-9 23-23 29-39 24-40 24-45 73-155 24-47 24-38 17-17 11-6 5-1 5 1 10 5 5 5 10 13 14 28 13 37 16 59 38 164 59-209M3976 1214l37 105 49 149 7 17 12-51 39-143 26-88 20-61 20-52 19-42 14-22 6-8 13-12 13-6 13-1 13 5 13 10 12 12 12 16 72 106 18 24 17 20 23 21 18 11 11 4 11 3 18 1 11-3 12-4 11-7 12-8 23-24 23-30 24-38 24-45 79-166 24-47 12-20 12-16 11-12 6-4 11-4 5 0 10 4 5 5 10 12 14 28 13 37 12 43 20 81 22 104 5 5 59-212M3982 1210l37 106 56 172 64-238 20-66 20-60 19-52 20-42 13-20 7-8 13-11 7-3 13-1 12 3 13 9 13 12 12 15 78 115 17 23 18 19 23 19 17 10 17 5 17 0 12-2 11-4 12-7 12-9 23-23 23-31 24-38 24-45 74-154 24-48 24-38 17-18 11-5 5-1 5 1 10 6 5 5 10 15 14 30 13 39 16 62 19 84 18 89 5-4 60-214M3988 1205l44 129 49 153 6-13 39-148 32-117 33-104 20-52 14-28 13-22 6-9 14-13 13-6 13 0 12 5 13 10 12 13 19 24 48 74 23 33 29 35 23 19 18 10 17 5 17 1 12-3 11-4 12-7 11-8 24-24 23-31 24-38 24-45 74-155 24-47 12-21 12-16 11-12 6-5 11-4 5 1 5 1 11 8 4 7 10 16 13 33 13 41 16 64 19 86 18 91 6-13 60-216M3994 1202l44 130 48 155 7-4 32-127 33-121 26-90 20-60 20-51 14-27 13-21 6-8 14-11 13-5 12 1 13 7 13 11 25 31 71 108 23 29 18 17 17 13 17 8 17 4 12 0 11-3 12-4 12-6 11-9 24-24 23-31 24-39 25-45 73-155 25-48 12-19 11-16 12-11 5-4 11-2 5 1 11 6 5 6 9 16 14 32 13 41 16 64 22 105 18 93 67-239M4000 1199l44 131 49 156 6 4 59-227 26-94 20-65 20-56 20-46 13-24 7-9 13-13 7-4 13-2 12 3 13 8 13 13 12 15 72 109 18 24 17 20 23 20 17 10 17 6 18 1 11-3 12-4 12-7 11-8 24-24 23-32 24-39 25-45 74-156 18-36 12-21 12-18 12-13 5-4 11-4 5 0 6 2 10 9 5 6 9 17 14 35 12 43 16 66 40 199 68-245M4006 1196l44 133 49 158 6 11 26-105 39-151 27-94 20-64 20-56 20-45 13-21 7-9 13-11 7-3 6-1 13 2 13 8 12 12 25 33 48 75 23 34 24 28 17 16 12 8 11 7 17 5 18 1 17-4 17-9 18-14 18-18 23-32 25-40 24-45 74-158 25-46 17-27 12-12 11-6 5-1 6 1 10 7 5 6 9 17 10 21 13 40 12 47 11 52 37 184 4 12 68-247M4012 1194l37 111 56 182 6 18 26-106 40-153 26-96 20-67 21-58 20-47 13-24 7-9 13-13 6-3 7-2 13 1 13 7 12 12 25 33 48 76 23 34 23 29 18 16 11 9 12 6 17 6 17 1 18-4 17-9 18-14 18-19 23-32 25-40 24-46 75-158 24-47 12-18 12-14 11-8 5-2 6 0 10 6 5 5 10 15 9 20 13 40 12 47 16 70 36 187 4 6 68-249M4019 1193l43 134 55 183 66-260 27-99 20-68 20-60 20-50 14-25 6-10 13-14 7-5 7-2 6-1 7 1 12 7 13 11 25 33 48 77 23 35 23 29 18 16 11 9 12 6 17 6 17 1 18-4 17-9 18-14 18-19 23-32 19-29 24-45 25-50 56-122 24-46 12-18 12-14 11-7 6-1 5 1 10 7 5 6 10 16 9 23 13 41 12 49 15 71 36 191 5 0 68-250M4025 1192l43 135 55 185 80-309 20-74 20-67 20-59 20-48 14-23 7-9 13-12 6-3 7-2 6 1 13 6 13 11 12 16 12 17 48 78 24 36 23 29 17 17 12 8 11 7 18 6 17 1 17-4 18-9 18-14 17-19 24-32 19-30 24-45 25-51 56-122 25-47 12-18 11-12 12-6 5-1 5 2 11 8 4 7 10 18 9 23 13 44 12 50 15 73 35 193 5-5 69-251M4031 1191l43 137 56 186 6-20 80-314 20-73 20-66 21-58 13-32 13-25 7-10 13-13 7-3 7-2 6 0 13 6 12 11 13 15 12 18 48 79 24 35 23 30 17 17 12 9 11 7 17 6 18 1 17-4 18-9 17-14 18-19 24-33 19-29 24-46 25-51 57-124 24-46 12-18 12-12 11-5 5 0 6 2 10 10 5 7 9 20 9 25 12 45 12 51 15 75 35 195 6-9 69-252M4037 1192l44 136 55 188 6-16 80-317 20-74 21-68 20-60 14-33 13-26 7-10 13-15 7-4 6-2 7 0 13 5 12 11 13 15 12 18 48 80 23 36 23 30 18 17 11 9 12 7 17 6 18 2 17-4 18-10 17-14 18-19 24-33 25-40 24-48 70-150 24-50 13-19 11-15 12-8 5-1 6 0 5 3 5 5 5 6 9 18 9 23 13 44 12 51 15 74 38 217 6-12 70-254M4044 1193l43 137 55 188 6-13 74-293 27-101 20-70 21-61 13-34 14-27 6-11 14-16 6-4 7-3 6 0 7 1 6 4 13 10 12 15 13 19 48 80 23 37 23 30 18 18 11 9 12 7 17 6 17 1 18-4 17-9 18-14 18-19 24-33 25-41 24-48 70-151 25-50 12-20 12-14 11-7 5-1 6 1 5 3 5 5 5 7 9 19 9 24 13 45 12 52 15 76 38 218 6-15 69-255M4050 1194l43 138 55 189 7-11 80-321 27-100 21-68 20-59 14-32 13-25 7-9 13-12 7-3 6 0 7 1 12 8 13 13 18 26 48 82 24 37 23 30 17 18 12 9 11 7 18 7 17 1 17-4 18-9 18-15 18-19 24-33 24-41 25-48 70-153 25-49 12-20 12-14 11-7 6-1 5 2 10 9 5 7 9 20 9 25 13 46 11 53 15 76 38 220 6-17 70-256M4056 1196l43 138 55 190 7-9 80-323 28-101 20-69 21-59 13-33 14-25 7-10 13-13 6-3 7 0 6 1 13 7 13 13 18 27 48 82 23 37 24 31 17 18 11 9 12 7 17 6 18 2 17-4 18-9 18-15 17-19 25-33 24-41 25-49 70-153 25-50 12-20 12-13 11-7 6 0 5 1 10 10 5 7 9 21 9 26 12 47 12 53 15 77 37 221 7-19 70-256M4063 1199l43 138 54 190 7-7 81-325 27-101 21-69 20-61 14-33 14-26 6-9 14-13 6-4 7-1 6 1 13 8 12 13 19 27 48 82 23 38 23 30 17 18 12 10 12 7 17 6 17 1 18-3 17-10 18-14 18-19 24-34 25-41 25-49 70-153 25-51 12-19 12-14 6-4 5-2 6 0 5 1 10 10 5 8 9 21 9 26 12 48 12 53 14 78 38 221 6-19 70-257M4069 1203l43 138 55 190 6-7 81-325 28-102 20-69 21-61 14-33 13-26 7-10 13-13 7-4 6-1 7 1 13 8 12 13 19 27 47 82 24 38 23 31 17 18 12 9 11 7 17 7 18 1 17-4 18-9 18-15 18-19 24-33 25-42 25-49 70-154 25-50 12-20 12-13 5-4 6-3 5 0 6 2 10 10 5 8 9 21 9 26 12 48 11 54 15 78 37 222 7-21 70-257" stroke="#74C800" stroke-width="4.00" fill="none" stroke-opacity="1.00"/>
<path d="M799.0 410.0L765.0 71.0M799.0 410.0L1018.9 593.7M1018.9 593.7L1302.2 435.4" stroke="#111" stroke-width="2.3" fill="none"/>
<path d="M797.7 396.9L787.7 400.8M795.2 371.5L774.7 379.1M792.5 345.5L782.2 349.2M789.9 318.9L768.9 326.1M787.2 291.7L776.6 295.2M784.4 264.0L762.9 270.8M781.5 235.7L770.7 238.9M778.6 206.7L756.6 212.9M775.6 177.0L764.5 180.0M772.6 146.7L750.0 152.4M769.5 115.7L758.1 118.3M766.3 83.9L743.0 89.0M799.0 410.0L789.0 413.9M1018.9 593.7L1027.8 601.1M817.0 425.0L796.7 433.2M1052.4 575.0L1070.5 589.3M835.7 440.6L825.5 444.9M1084.6 557.0L1093.6 563.8M855.2 456.9L834.5 465.9M1115.5 539.7L1133.8 552.9M875.6 473.9L865.2 478.6M1145.3 523.1L1154.4 529.4M896.8 491.7L875.6 501.5M1173.9 507.1L1192.3 519.3M919.0 510.2L908.4 515.3M1201.4 491.7L1210.6 497.6M942.3 529.6L920.7 540.4M1228.0 476.9L1246.5 488.2M966.6 550.0L955.8 555.6M1253.6 462.6L1262.8 468.0M992.1 571.3L970.1 583.1M1278.3 448.8L1296.8 459.3M1018.9 593.7L1007.9 599.8M1302.2 435.4L1311.4 440.5" stroke="#111" stroke-width="2.2" fill="none"/>
<ellipse cx="1049.3" cy="269.6" rx="107.7" ry="45.7" fill="none" stroke="#2846A0" stroke-width="2.2"/>
<g font-family="'Liberation Sans', sans-serif" font-size="16" fill="#111" text-anchor="middle">
<text transform="translate(714.5 90.2) rotate(-12)" y="6">1.5</text>
<text transform="translate(721.8 154.4) rotate(-12)" y="6">1.0</text>
<text transform="translate(728.5 215.0) rotate(-12)" y="6">0.5</text>
<text transform="translate(735.3 273.0) rotate(-12)" y="6">0.0</text>
<text transform="translate(740.7 328.3) rotate(-12)" y="6">-0.5</text>
<text transform="translate(746.9 382.3) rotate(-12)" y="6">-1.0</text>
<text transform="translate(773.6 443.2) rotate(-25)" y="6">-1.0</text>
<text transform="translate(811.4 475.6) rotate(-25)" y="6">-0.5</text>
<text transform="translate(853.2 512.0) rotate(-25)" y="6">0.0</text>
<text transform="translate(897.8 551.2) rotate(-25)" y="6">0.5</text>
<text transform="translate(947.7 594.4) rotate(-25)" y="6">1.0</text>
<text transform="translate(1089.0 618.8) rotate(32)" y="6">-1.0</text>
<text transform="translate(1153.9 582.4) rotate(32)" y="6">-0.5</text>
<text transform="translate(1209.2 543.2) rotate(32)" y="6">0.0</text>
<text transform="translate(1264.6 510.8) rotate(32)" y="6">0.5</text>
<text transform="translate(1315.9 481.1) rotate(32)" y="6">1.0</text>
</g>
<text transform="translate(812.8 528.2) rotate(58)" y="8" font-family="'Liberation Sans', sans-serif" font-size="22" fill="#111" text-anchor="middle">Kx</text>
<text transform="translate(1245.7 554) rotate(-48)" y="8" font-family="'Liberation Sans', sans-serif" font-size="22" fill="#111" text-anchor="middle">Ky</text>
<g transform="translate(713 335.5) rotate(-96)" font-family="'Liberation Sans', sans-serif" fill="#111"><text x="0" y="0" font-size="32">E<tspan font-size="19" dy="-13">c,v</tspan><tspan dy="13"> (eV)</tspan></text></g>
<text x="784.3" y="117" font-family="'Liberation Sans', sans-serif" font-size="55" textLength="70.8" lengthAdjust="spacingAndGlyphs" fill="#0a0a0a">(b)</text>
<g stroke="#111" stroke-width="2.5" stroke-dasharray="14 14.6" fill="none">
<path d="M224.0 982.5H1080.0"/>
<path d="M534.0 699.8V1267.0"/>
<path d="M719.0 699.8V1267.0"/>
</g>
<g fill="none" stroke-linejoin="round">
<path d="M224.0 1129.2 225.0 1129.2 226.1 1129.2 227.1 1129.2 228.1 1129.1 229.2 1129.1 230.2 1129.1 231.3 1129.0 232.3 1129.0 233.3 1128.9 234.4 1128.8 235.4 1128.8 236.4 1128.7 237.5 1128.6 238.5 1128.5 239.6 1128.4 240.6 1128.3 241.6 1128.2 242.7 1128.1 243.7 1127.9 244.7 1127.8 245.8 1127.6 246.8 1127.5 247.8 1127.3 248.9 1127.2 249.9 1127.0 251.0 1126.8 252.0 1126.6 253.0 1126.4 254.1 1126.2 255.1 1126.0 256.1 1125.8 257.2 1125.6 258.2 1125.4 259.3 1125.1 260.3 1124.9 261.3 1124.6 262.4 1124.4 263.4 1124.1 264.4 1123.8 265.5 1123.6 266.5 1123.3 267.5 1123.0 268.6 1122.7 269.6 1122.4 270.7 1122.1 271.7 1121.7 272.7 1121.4 273.8 1121.1 274.8 1120.7 275.8 1120.4 276.9 1120.0 277.9 1119.7 278.9 1119.3 280.0 1118.9 281.0 1118.6 282.1 1118.2 283.1 1117.8 284.1 1117.4 285.2 1117.0 286.2 1116.5 287.2 1116.1 288.3 1115.7 289.3 1115.3 290.4 1114.8 291.4 1114.4 292.4 1113.9 293.5 1113.5 294.5 1113.0 295.5 1112.5 296.6 1112.0 297.6 1111.5 298.6 1111.0 299.7 1110.5 300.7 1110.0 301.8 1109.5 302.8 1109.0 303.8 1108.5 304.9 1107.9 305.9 1107.4 306.9 1106.9 308.0 1106.3 309.0 1105.8 310.1 1105.2 311.1 1104.6 312.1 1104.0 313.2 1103.5 314.2 1102.9 315.2 1102.3 316.3 1101.7 317.3 1101.1 318.3 1100.4 319.4 1099.8 320.4 1099.2 321.5 1098.6 322.5 1097.9 323.5 1097.3 324.6 1096.6 325.6 1096.0 326.6 1095.3 327.7 1094.7 328.7 1094.0 329.8 1093.3 330.8 1092.6 331.8 1091.9 332.9 1091.2 333.9 1090.5 334.9 1089.8 336.0 1089.1 337.0 1088.4 338.0 1087.7 339.1 1086.9 340.1 1086.2 341.2 1085.5 342.2 1084.7 343.2 1084.0 344.3 1083.2 345.3 1082.5 346.3 1081.7 347.4 1080.9 348.4 1080.2 349.5 1079.4 350.5 1078.6 351.5 1077.8 352.6 1077.0 353.6 1076.2 354.6 1075.4 355.7 1074.6 356.7 1073.8 357.7 1073.0 358.8 1072.2 359.8 1071.3 360.9 1070.5 361.9 1069.7 362.9 1068.8 364.0 1068.0 365.0 1067.1 366.0 1066.3 367.1 1065.4 368.1 1064.6 369.2 1063.7 370.2 1062.9 371.2 1062.0 372.3 1061.1 373.3 1060.2 374.3 1059.4 375.4 1058.5 376.4 1057.6 377.4 1056.7 378.5 1055.8 379.5 1054.9 380.6 1054.0 381.6 1053.1 382.6 1052.2 383.7 1051.3 384.7 1050.4 385.7 1049.5 386.8 1048.6 387.8 1047.7 388.8 1046.8 389.9 1045.8 390.9 1044.9 392.0 1044.0 393.0 1043.1 394.0 1042.1 395.1 1041.2 396.1 1040.3 397.1 1039.4 398.2 1038.4 399.2 1037.5 400.3 1036.5 401.3 1035.6 402.3 1034.7 403.4 1033.7 404.4 1032.8 405.4 1031.9 406.5 1030.9 407.5 1030.0 408.5 1029.0 409.6 1028.1 410.6 1027.1 411.7 1026.2 412.7 1025.2 413.7 1024.3 414.8 1023.3 415.8 1022.4 416.8 1021.4 417.9 1020.5 418.9 1019.5 420.0 1018.6 421.0 1017.6 422.0 1016.6 423.1 1015.7 424.1 1014.7 425.1 1013.8 426.2 1012.8 427.2 1011.8 428.2 1010.9 429.3 1009.9 430.3 1008.9 431.4 1007.9 432.4 1007.0 433.4 1006.0 434.5 1005.0 435.5 1004.0 436.5 1003.0 437.6 1002.0 438.6 1001.1 439.7 1000.1 440.7 999.1 441.7 998.1 442.8 997.1 443.8 996.1 444.8 995.1 445.9 994.1 446.9 993.1 447.9 992.1 449.0 991.1 450.0 990.1 451.1 989.1 452.1 988.1 453.1 987.1 454.2 986.2 455.2 985.2 456.2 984.2 457.3 983.2 458.3 982.3 459.4 982.5 460.4 983.4 461.4 984.3 462.5 985.3 463.5 986.2 464.5 987.1 465.6 988.0 466.6 988.9 467.6 989.8 468.7 990.7 469.7 991.5 470.8 992.4 471.8 993.2 472.8 994.1 473.9 994.9 474.9 995.8 475.9 996.6 477.0 997.4 478.0 998.2 479.1 999.0 480.1 999.7 481.1 1000.5 482.2 1001.3 483.2 1002.0 484.2 1002.8 485.3 1003.5 486.3 1004.2 487.3 1004.9 488.4 1005.6 489.4 1006.3 490.5 1006.9 491.5 1007.6 492.5 1008.2 493.6 1008.9 494.6 1009.5 495.6 1010.1 496.7 1010.7 497.7 1011.3 498.7 1011.9 499.8 1012.4 500.8 1012.9 501.9 1013.5 502.9 1014.0 503.9 1014.5 505.0 1015.0 506.0 1015.4 507.0 1015.9 508.1 1016.3 509.1 1016.7 510.2 1017.1 511.2 1017.5 512.2 1017.9 513.3 1018.3 514.3 1018.6 515.3 1018.9 516.4 1019.2 517.4 1019.5 518.4 1019.8 519.5 1020.1 520.5 1020.3 521.6 1020.5 522.6 1020.7 523.6 1020.9 524.7 1021.1 525.7 1021.2 526.7 1021.4 527.8 1021.5 528.8 1021.6 529.9 1021.7 530.9 1021.7 531.9 1021.8 533.0 1021.8 534.0 1021.8 534.0 1021.8 534.6 1021.8 535.2 1021.8 535.9 1021.8 536.5 1021.8 537.1 1021.8 537.7 1021.9 538.3 1021.9 538.9 1021.9 539.6 1021.9 540.2 1021.9 540.8 1021.9 541.4 1022.0 542.0 1022.0 542.7 1022.0 543.3 1022.0 543.9 1022.1 544.5 1022.1 545.1 1022.1 545.8 1022.2 546.4 1022.2 547.0 1022.3 547.6 1022.3 548.2 1022.3 548.8 1022.4 549.5 1022.4 550.1 1022.5 550.7 1022.5 551.3 1022.6 551.9 1022.7 552.6 1022.7 553.2 1022.8 553.8 1022.8 554.4 1022.9 555.0 1023.0 555.7 1023.0 556.3 1023.1 556.9 1023.2 557.5 1023.3 558.1 1023.3 558.7 1023.4 559.4 1023.5 560.0 1023.6 560.6 1023.7 561.2 1023.7 561.8 1023.8 562.5 1023.9 563.1 1024.0 563.7 1024.1 564.3 1024.2 564.9 1024.3 565.6 1024.4 566.2 1024.5 566.8 1024.6 567.4 1024.7 568.0 1024.8 568.6 1024.9 569.3 1025.0 569.9 1025.2 570.5 1025.3 571.1 1025.4 571.7 1025.5 572.4 1025.6 573.0 1025.7 573.6 1025.9 574.2 1026.0 574.8 1026.1 575.5 1026.2 576.1 1026.4 576.7 1026.5 577.3 1026.6 577.9 1026.8 578.5 1026.9 579.2 1027.1 579.8 1027.2 580.4 1027.4 581.0 1027.5 581.6 1027.6 582.3 1027.8 582.9 1027.9 583.5 1028.1 584.1 1028.3 584.7 1028.4 585.4 1028.6 586.0 1028.7 586.6 1028.9 587.2 1029.0 587.8 1029.2 588.4 1029.4 589.1 1029.5 589.7 1029.7 590.3 1029.9 590.9 1030.1 591.5 1030.2 592.2 1030.4 592.8 1030.6 593.4 1030.8 594.0 1031.0 594.6 1031.1 595.3 1031.3 595.9 1031.5 596.5 1031.7 597.1 1031.9 597.7 1032.1 598.3 1032.3 599.0 1032.5 599.6 1032.7 600.2 1032.9 600.8 1033.0 601.4 1033.2 602.1 1033.5 602.7 1033.7 603.3 1033.9 603.9 1034.1 604.5 1034.3 605.2 1034.5 605.8 1034.7 606.4 1034.9 607.0 1035.1 607.6 1035.3 608.2 1035.5 608.9 1035.8 609.5 1036.0 610.1 1036.2 610.7 1036.4 611.3 1036.6 612.0 1036.9 612.6 1037.1 613.2 1037.3 613.8 1037.5 614.4 1037.8 615.1 1038.0 615.7 1038.2 616.3 1038.5 616.9 1038.7 617.5 1038.9 618.1 1039.2 618.8 1039.4 619.4 1039.7 620.0 1039.9 620.6 1040.1 621.2 1040.4 621.9 1040.6 622.5 1040.9 623.1 1041.1 623.7 1041.4 624.3 1041.6 625.0 1041.9 625.6 1042.1 626.2 1042.4 626.8 1042.6 627.4 1042.9 628.0 1043.1 628.7 1043.4 629.3 1043.6 629.9 1043.9 630.5 1044.1 631.1 1044.4 631.8 1044.7 632.4 1044.9 633.0 1045.2 633.6 1045.4 634.2 1045.7 634.9 1046.0 635.5 1046.2 636.1 1046.5 636.7 1046.8 637.3 1047.0 637.9 1047.3 638.6 1047.6 639.2 1047.8 639.8 1048.1 640.4 1048.4 641.0 1048.6 641.7 1048.9 642.3 1049.2 642.9 1049.5 643.5 1049.7 644.1 1050.0 644.8 1050.3 645.4 1050.6 646.0 1050.8 646.6 1051.1 647.2 1051.4 647.8 1051.7 648.5 1051.9 649.1 1052.2 649.7 1052.5 650.3 1052.8 650.9 1053.1 651.6 1053.3 652.2 1053.6 652.8 1053.9 653.4 1054.2 654.0 1054.5 654.7 1054.7 655.3 1055.0 655.9 1055.3 656.5 1055.6 657.1 1055.9 657.7 1056.1 658.4 1056.4 659.0 1056.7 659.6 1057.0 660.2 1057.3 660.8 1057.5 661.5 1057.8 662.1 1058.1 662.7 1058.4 663.3 1058.7 663.9 1059.0 664.6 1059.2 665.2 1059.5 665.8 1059.8 666.4 1060.1 667.0 1060.4 667.6 1060.6 668.3 1060.9 668.9 1061.2 669.5 1061.5 670.1 1061.7 670.7 1062.0 671.4 1062.3 672.0 1062.6 672.6 1062.9 673.2 1063.1 673.8 1063.4 674.5 1063.7 675.1 1063.9 675.7 1064.2 676.3 1064.5 676.9 1064.7 677.5 1065.0 678.2 1065.3 678.8 1065.5 679.4 1065.8 680.0 1066.1 680.6 1066.3 681.3 1066.6 681.9 1066.8 682.5 1067.1 683.1 1067.3 683.7 1067.6 684.4 1067.8 685.0 1068.1 685.6 1068.3 686.2 1068.5 686.8 1068.8 687.4 1069.0 688.1 1069.3 688.7 1069.5 689.3 1069.7 689.9 1069.9 690.5 1070.2 691.2 1070.4 691.8 1070.6 692.4 1070.8 693.0 1071.0 693.6 1071.2 694.3 1071.4 694.9 1071.6 695.5 1071.8 696.1 1072.0 696.7 1072.2 697.3 1072.4 698.0 1072.6 698.6 1072.8 699.2 1072.9 699.8 1073.1 700.4 1073.3 701.1 1073.4 701.7 1073.6 702.3 1073.8 702.9 1073.9 703.5 1074.1 704.2 1074.2 704.8 1074.3 705.4 1074.5 706.0 1074.6 706.6 1074.7 707.2 1074.8 707.9 1074.9 708.5 1075.1 709.1 1075.2 709.7 1075.3 710.3 1075.3 711.0 1075.4 711.6 1075.5 712.2 1075.6 712.8 1075.7 713.4 1075.7 714.1 1075.8 714.7 1075.8 715.3 1075.9 715.9 1075.9 716.5 1075.9 717.1 1076.0 717.8 1076.0 718.4 1076.0 719.0 1076.0 719.0 1076.0 720.2 1076.0 721.4 1075.9 722.6 1075.9 723.8 1075.8 725.0 1075.6 726.2 1075.5 727.5 1075.3 728.7 1075.1 729.9 1074.9 731.1 1074.6 732.3 1074.3 733.5 1074.0 734.7 1073.7 735.9 1073.3 737.1 1073.0 738.3 1072.5 739.5 1072.1 740.7 1071.7 741.9 1071.2 743.1 1070.7 744.4 1070.2 745.6 1069.6 746.8 1069.1 748.0 1068.5 749.2 1067.9 750.4 1067.3 751.6 1066.6 752.8 1066.0 754.0 1065.3 755.2 1064.6 756.4 1063.9 757.6 1063.2 758.8 1062.4 760.1 1061.6 761.3 1060.9 762.5 1060.1 763.7 1059.3 764.9 1058.5 766.1 1057.7 767.3 1056.8 768.5 1056.0 769.7 1055.1 770.9 1054.3 772.1 1053.4 773.3 1052.5 774.5 1051.6 775.7 1050.7 777.0 1049.8 778.2 1048.8 779.4 1047.9 780.6 1046.9 781.8 1046.0 783.0 1045.0 784.2 1044.0 785.4 1043.0 786.6 1042.0 787.8 1041.0 789.0 1040.0 790.2 1039.0 791.4 1038.0 792.6 1036.9 793.9 1035.9 795.1 1034.8 796.3 1033.7 797.5 1032.7 798.7 1031.6 799.9 1030.5 801.1 1029.4 802.3 1028.3 803.5 1027.2 804.7 1026.1 805.9 1024.9 807.1 1023.8 808.3 1022.7 809.6 1021.5 810.8 1020.4 812.0 1019.2 813.2 1018.1 814.4 1016.9 815.6 1015.7 816.8 1014.5 818.0 1013.4 819.2 1012.2 820.4 1011.0 821.6 1009.8 822.8 1008.6 824.0 1007.4 825.2 1006.1 826.5 1004.9 827.7 1003.7 828.9 1002.5 830.1 1001.2 831.3 1000.0 832.5 998.8 833.7 997.5 834.9 996.3 836.1 995.0 837.3 993.8 838.5 992.5 839.7 991.2 840.9 990.0 842.2 988.7 843.4 987.4 844.6 986.2 845.8 984.9 847.0 983.6 848.2 982.3 849.4 982.8 850.6 984.1 851.8 985.4 853.0 986.7 854.2 988.0 855.4 989.4 856.6 990.7 857.8 992.0 859.1 993.3 860.3 994.6 861.5 995.8 862.7 997.1 863.9 998.4 865.1 999.6 866.3 1000.9 867.5 1002.1 868.7 1003.4 869.9 1004.6 871.1 1005.8 872.3 1007.1 873.5 1008.3 874.7 1009.5 876.0 1010.7 877.2 1011.9 878.4 1013.1 879.6 1014.3 880.8 1015.4 882.0 1016.6 883.2 1017.8 884.4 1019.0 885.6 1020.1 886.8 1021.3 888.0 1022.4 889.2 1023.6 890.4 1024.7 891.7 1025.9 892.9 1027.0 894.1 1028.1 895.3 1029.3 896.5 1030.4 897.7 1031.5 898.9 1032.7 900.1 1033.8 901.3 1034.9 902.5 1036.0 903.7 1037.1 904.9 1038.2 906.1 1039.3 907.3 1040.5 908.6 1041.6 909.8 1042.6 911.0 1043.7 912.2 1044.8 913.4 1045.9 914.6 1047.0 915.8 1048.1 917.0 1049.2 918.2 1050.2 919.4 1051.3 920.6 1052.4 921.8 1053.4 923.0 1054.5 924.3 1055.5 925.5 1056.6 926.7 1057.6 927.9 1058.6 929.1 1059.7 930.3 1060.7 931.5 1061.7 932.7 1062.7 933.9 1063.7 935.1 1064.7 936.3 1065.7 937.5 1066.7 938.7 1067.7 939.9 1068.7 941.2 1069.7 942.4 1070.6 943.6 1071.6 944.8 1072.6 946.0 1073.5 947.2 1074.5 948.4 1075.4 949.6 1076.3 950.8 1077.3 952.0 1078.2 953.2 1079.1 954.4 1080.0 955.6 1080.9 956.8 1081.8 958.1 1082.7 959.3 1083.6 960.5 1084.4 961.7 1085.3 962.9 1086.1 964.1 1087.0 965.3 1087.8 966.5 1088.7 967.7 1089.5 968.9 1090.3 970.1 1091.1 971.3 1091.9 972.5 1092.7 973.8 1093.5 975.0 1094.3 976.2 1095.1 977.4 1095.9 978.6 1096.6 979.8 1097.4 981.0 1098.1 982.2 1098.8 983.4 1099.6 984.6 1100.3 985.8 1101.0 987.0 1101.7 988.2 1102.4 989.4 1103.1 990.7 1103.8 991.9 1104.4 993.1 1105.1 994.3 1105.8 995.5 1106.4 996.7 1107.0 997.9 1107.7 999.1 1108.3 1000.3 1108.9 1001.5 1109.5 1002.7 1110.1 1003.9 1110.7 1005.1 1111.2 1006.4 1111.8 1007.6 1112.4 1008.8 1112.9 1010.0 1113.5 1011.2 1114.0 1012.4 1114.5 1013.6 1115.0 1014.8 1115.5 1016.0 1116.0 1017.2 1116.5 1018.4 1117.0 1019.6 1117.5 1020.8 1117.9 1022.0 1118.4 1023.3 1118.8 1024.5 1119.3 1025.7 1119.7 1026.9 1120.1 1028.1 1120.5 1029.3 1120.9 1030.5 1121.3 1031.7 1121.7 1032.9 1122.0 1034.1 1122.4 1035.3 1122.8 1036.5 1123.1 1037.7 1123.4 1038.9 1123.8 1040.2 1124.1 1041.4 1124.4 1042.6 1124.7 1043.8 1125.0 1045.0 1125.2 1046.2 1125.5 1047.4 1125.8 1048.6 1126.0 1049.8 1126.3 1051.0 1126.5 1052.2 1126.7 1053.4 1126.9 1054.6 1127.1 1055.9 1127.3 1057.1 1127.5 1058.3 1127.7 1059.5 1127.8 1060.7 1128.0 1061.9 1128.1 1063.1 1128.3 1064.3 1128.4 1065.5 1128.5 1066.7 1128.6 1067.9 1128.7 1069.1 1128.8 1070.3 1128.9 1071.5 1129.0 1072.8 1129.0 1074.0 1129.1 1075.2 1129.1 1076.4 1129.2 1077.6 1129.2 1078.8 1129.2 1080.0 1129.2M466.6 1266.9 467.6 1266.1 468.7 1265.2 469.7 1264.4 470.8 1263.6 471.8 1262.7 472.8 1261.9 473.9 1261.1 474.9 1260.3 475.9 1259.5 477.0 1258.7 478.0 1258.0 479.1 1257.2 480.1 1256.4 481.1 1255.7 482.2 1254.9 483.2 1254.2 484.2 1253.5 485.3 1252.8 486.3 1252.1 487.3 1251.4 488.4 1250.7 489.4 1250.0 490.5 1249.3 491.5 1248.7 492.5 1248.0 493.6 1247.4 494.6 1246.8 495.6 1246.2 496.7 1245.6 497.7 1245.0 498.7 1244.5 499.8 1243.9 500.8 1243.4 501.9 1242.8 502.9 1242.3 503.9 1241.8 505.0 1241.3 506.0 1240.9 507.0 1240.4 508.1 1240.0 509.1 1239.5 510.2 1239.1 511.2 1238.7 512.2 1238.4 513.3 1238.0 514.3 1237.6 515.3 1237.3 516.4 1237.0 517.4 1236.7 518.4 1236.4 519.5 1236.2 520.5 1235.9 521.6 1235.7 522.6 1235.5 523.6 1235.3 524.7 1235.1 525.7 1235.0 526.7 1234.8 527.8 1234.7 528.8 1234.6 529.9 1234.5 530.9 1234.5 531.9 1234.4 533.0 1234.4 534.0 1234.4 534.0 1234.4 534.6 1234.4 535.2 1234.4 535.9 1234.4 536.5 1234.4 537.1 1234.3 537.7 1234.3 538.3 1234.3 538.9 1234.3 539.6 1234.3 540.2 1234.3 540.8 1234.2 541.4 1234.2 542.0 1234.2 542.7 1234.2 543.3 1234.1 543.9 1234.1 544.5 1234.1 545.1 1234.0 545.8 1234.0 546.4 1234.0 547.0 1233.9 547.6 1233.9 548.2 1233.8 548.8 1233.8 549.5 1233.7 550.1 1233.7 550.7 1233.6 551.3 1233.6 551.9 1233.5 552.6 1233.5 553.2 1233.4 553.8 1233.3 554.4 1233.3 555.0 1233.2 555.7 1233.1 556.3 1233.0 556.9 1233.0 557.5 1232.9 558.1 1232.8 558.7 1232.7 559.4 1232.7 560.0 1232.6 560.6 1232.5 561.2 1232.4 561.8 1232.3 562.5 1232.2 563.1 1232.1 563.7 1232.0 564.3 1231.9 564.9 1231.8 565.6 1231.7 566.2 1231.6 566.8 1231.5 567.4 1231.4 568.0 1231.3 568.6 1231.2 569.3 1231.1 569.9 1231.0 570.5 1230.8 571.1 1230.7 571.7 1230.6 572.4 1230.5 573.0 1230.3 573.6 1230.2 574.2 1230.1 574.8 1230.0 575.5 1229.8 576.1 1229.7 576.7 1229.5 577.3 1229.4 577.9 1229.3 578.5 1229.1 579.2 1229.0 579.8 1228.8 580.4 1228.7 581.0 1228.5 581.6 1228.4 582.3 1228.2 582.9 1228.1 583.5 1227.9 584.1 1227.7 584.7 1227.6 585.4 1227.4 586.0 1227.3 586.6 1227.1 587.2 1226.9 587.8 1226.8 588.4 1226.6 589.1 1226.4 589.7 1226.2 590.3 1226.0 590.9 1225.9 591.5 1225.7 592.2 1225.5 592.8 1225.3 593.4 1225.1 594.0 1224.9 594.6 1224.8 595.3 1224.6 595.9 1224.4 596.5 1224.2 597.1 1224.0 597.7 1223.8 598.3 1223.6 599.0 1223.4 599.6 1223.2 600.2 1223.0 600.8 1222.8 601.4 1222.5 602.1 1222.3 602.7 1222.1 603.3 1221.9 603.9 1221.7 604.5 1221.5 605.2 1221.3 605.8 1221.0 606.4 1220.8 607.0 1220.6 607.6 1220.4 608.2 1220.1 608.9 1219.9 609.5 1219.7 610.1 1219.4 610.7 1219.2 611.3 1219.0 612.0 1218.7 612.6 1218.5 613.2 1218.3 613.8 1218.0 614.4 1217.8 615.1 1217.5 615.7 1217.3 616.3 1217.0 616.9 1216.8 617.5 1216.5 618.1 1216.3 618.8 1216.0 619.4 1215.8 620.0 1215.5 620.6 1215.3 621.2 1215.0 621.9 1214.8 622.5 1214.5 623.1 1214.2 623.7 1214.0 624.3 1213.7 625.0 1213.4 625.6 1213.2 626.2 1212.9 626.8 1212.6 627.4 1212.4 628.0 1212.1 628.7 1211.8 629.3 1211.6 629.9 1211.3 630.5 1211.0 631.1 1210.7 631.8 1210.4 632.4 1210.2 633.0 1209.9 633.6 1209.6 634.2 1209.3 634.9 1209.0 635.5 1208.8 636.1 1208.5 636.7 1208.2 637.3 1207.9 637.9 1207.6 638.6 1207.3 639.2 1207.0 639.8 1206.7 640.4 1206.4 641.0 1206.2 641.7 1205.9 642.3 1205.6 642.9 1205.3 643.5 1205.0 644.1 1204.7 644.8 1204.4 645.4 1204.1 646.0 1203.8 646.6 1203.5 647.2 1203.2 647.8 1202.9 648.5 1202.6 649.1 1202.3 649.7 1202.0 650.3 1201.7 650.9 1201.4 651.6 1201.1 652.2 1200.8 652.8 1200.5 653.4 1200.2 654.0 1199.9 654.7 1199.6 655.3 1199.3 655.9 1199.0 656.5 1198.7 657.1 1198.4 657.7 1198.1 658.4 1197.8 659.0 1197.5 659.6 1197.2 660.2 1196.8 660.8 1196.5 661.5 1196.2 662.1 1195.9 662.7 1195.6 663.3 1195.3 663.9 1195.0 664.6 1194.7 665.2 1194.4 665.8 1194.1 666.4 1193.8 667.0 1193.5 667.6 1193.2 668.3 1192.9 668.9 1192.6 669.5 1192.3 670.1 1192.0 670.7 1191.8 671.4 1191.5 672.0 1191.2 672.6 1190.9 673.2 1190.6 673.8 1190.3 674.5 1190.0 675.1 1189.7 675.7 1189.4 676.3 1189.2 676.9 1188.9 677.5 1188.6 678.2 1188.3 678.8 1188.0 679.4 1187.8 680.0 1187.5 680.6 1187.2 681.3 1186.9 681.9 1186.7 682.5 1186.4 683.1 1186.1 683.7 1185.9 684.4 1185.6 685.0 1185.4 685.6 1185.1 686.2 1184.8 686.8 1184.6 687.4 1184.3 688.1 1184.1 688.7 1183.9 689.3 1183.6 689.9 1183.4 690.5 1183.2 691.2 1182.9 691.8 1182.7 692.4 1182.5 693.0 1182.2 693.6 1182.0 694.3 1181.8 694.9 1181.6 695.5 1181.4 696.1 1181.2 696.7 1181.0 697.3 1180.8 698.0 1180.6 698.6 1180.4 699.2 1180.2 699.8 1180.1 700.4 1179.9 701.1 1179.7 701.7 1179.6 702.3 1179.4 702.9 1179.2 703.5 1179.1 704.2 1179.0 704.8 1178.8 705.4 1178.7 706.0 1178.5 706.6 1178.4 707.2 1178.3 707.9 1178.2 708.5 1178.1 709.1 1178.0 709.7 1177.9 710.3 1177.8 711.0 1177.7 711.6 1177.6 712.2 1177.6 712.8 1177.5 713.4 1177.4 714.1 1177.4 714.7 1177.3 715.3 1177.3 715.9 1177.2 716.5 1177.2 717.1 1177.2 717.8 1177.2 718.4 1177.2 719.0 1177.2 719.0 1177.2 720.2 1177.2 721.4 1177.2 722.6 1177.3 723.8 1177.4 725.0 1177.5 726.2 1177.7 727.5 1177.8 728.7 1178.0 729.9 1178.3 731.1 1178.5 732.3 1178.8 733.5 1179.1 734.7 1179.5 735.9 1179.8 737.1 1180.2 738.3 1180.7 739.5 1181.1 740.7 1181.6 741.9 1182.1 743.1 1182.6 744.4 1183.1 745.6 1183.7 746.8 1184.3 748.0 1184.9 749.2 1185.5 750.4 1186.2 751.6 1186.9 752.8 1187.6 754.0 1188.3 755.2 1189.0 756.4 1189.8 757.6 1190.6 758.8 1191.3 760.1 1192.2 761.3 1193.0 762.5 1193.8 763.7 1194.7 764.9 1195.5 766.1 1196.4 767.3 1197.3 768.5 1198.2 769.7 1199.2 770.9 1200.1 772.1 1201.0 773.3 1202.0 774.5 1203.0 775.7 1204.0 777.0 1204.9 778.2 1206.0 779.4 1207.0 780.6 1208.0 781.8 1209.0 783.0 1210.1 784.2 1211.1 785.4 1212.2 786.6 1213.2 787.8 1214.3 789.0 1215.4 790.2 1216.5 791.4 1217.6 792.6 1218.7 793.9 1219.8 795.1 1220.9 796.3 1222.0 797.5 1223.1 798.7 1224.3 799.9 1225.4 801.1 1226.6 802.3 1227.7 803.5 1228.9 804.7 1230.0 805.9 1231.2 807.1 1232.3 808.3 1233.5 809.6 1234.7 810.8 1235.8 812.0 1237.0 813.2 1238.2 814.4 1239.4 815.6 1240.6 816.8 1241.8 818.0 1242.9 819.2 1244.1 820.4 1245.3 821.6 1246.5 822.8 1247.7 824.0 1248.9 825.2 1250.1 826.5 1251.3 827.7 1252.6 828.9 1253.8 830.1 1255.0 831.3 1256.2 832.5 1257.4 833.7 1258.6 834.9 1259.8 836.1 1261.0 837.3 1262.2 838.5 1263.4 839.7 1264.7 840.9 1265.9 842.2 1267.1" stroke="#F26A00" stroke-width="8"/>
<path d="M310.1 696.8 311.1 697.5 312.1 698.1 313.2 698.7 314.2 699.3 315.2 700.0 316.3 700.6 317.3 701.2 318.3 701.9 319.4 702.6 320.4 703.2 321.5 703.9 322.5 704.6 323.5 705.3 324.6 706.0 325.6 706.7 326.6 707.4 327.7 708.1 328.7 708.8 329.8 709.5 330.8 710.2 331.8 711.0 332.9 711.7 333.9 712.5 334.9 713.2 336.0 714.0 337.0 714.8 338.0 715.5 339.1 716.3 340.1 717.1 341.2 717.9 342.2 718.7 343.2 719.5 344.3 720.3 345.3 721.1 346.3 721.9 347.4 722.7 348.4 723.6 349.5 724.4 350.5 725.2 351.5 726.1 352.6 726.9 353.6 727.8 354.6 728.6 355.7 729.5 356.7 730.4 357.7 731.3 358.8 732.1 359.8 733.0 360.9 733.9 361.9 734.8 362.9 735.7 364.0 736.6 365.0 737.5 366.0 738.4 367.1 739.4 368.1 740.3 369.2 741.2 370.2 742.2 371.2 743.1 372.3 744.0 373.3 745.0 374.3 745.9 375.4 746.9 376.4 747.9 377.4 748.8 378.5 749.8 379.5 750.8 380.6 751.7 381.6 752.7 382.6 753.7 383.7 754.7 384.7 755.7 385.7 756.7 386.8 757.7 387.8 758.7 388.8 759.7 389.9 760.7 390.9 761.7 392.0 762.7 393.0 763.8 394.0 764.8 395.1 765.8 396.1 766.8 397.1 767.9 398.2 768.9 399.2 770.0 400.3 771.0 401.3 772.0 402.3 773.1 403.4 774.1 404.4 775.2 405.4 776.3 406.5 777.3 407.5 778.4 408.5 779.4 409.6 780.5 410.6 781.6 411.7 782.6 412.7 783.7 413.7 784.8 414.8 785.9 415.8 786.9 416.8 788.0 417.9 789.1 418.9 790.2 420.0 791.3 421.0 792.3 422.0 793.4 423.1 794.5 424.1 795.6 425.1 796.7 426.2 797.8 427.2 798.9 428.2 799.9 429.3 801.0 430.3 802.1 431.4 803.2 432.4 804.3 433.4 805.4 434.5 806.5 435.5 807.6 436.5 808.6 437.6 809.7 438.6 810.8 439.7 811.9 440.7 813.0 441.7 814.1 442.8 815.1 443.8 816.2 444.8 817.3 445.9 818.4 446.9 819.5 447.9 820.5 449.0 821.6 450.0 822.7 451.1 823.7 452.1 824.8 453.1 825.8 454.2 826.9 455.2 827.9 456.2 829.0 457.3 830.0 458.3 831.1 459.4 832.1 460.4 833.1 461.4 834.2 462.5 835.2 463.5 836.2 464.5 837.2 465.6 838.2 466.6 839.2 467.6 840.2 468.7 841.2 469.7 842.2 470.8 843.2 471.8 844.1 472.8 845.1 473.9 846.0 474.9 847.0 475.9 847.9 477.0 848.9 478.0 849.8 479.1 850.7 480.1 851.6 481.1 852.5 482.2 853.4 483.2 854.3 484.2 855.1 485.3 856.0 486.3 856.8 487.3 857.6 488.4 858.5 489.4 859.3 490.5 860.1 491.5 860.9 492.5 861.6 493.6 862.4 494.6 863.1 495.6 863.9 496.7 864.6 497.7 865.3 498.7 866.0 499.8 866.6 500.8 867.3 501.9 867.9 502.9 868.6 503.9 869.2 505.0 869.8 506.0 870.3 507.0 870.9 508.1 871.4 509.1 872.0 510.2 872.5 511.2 872.9 512.2 873.4 513.3 873.9 514.3 874.3 515.3 874.7 516.4 875.1 517.4 875.4 518.4 875.8 519.5 876.1 520.5 876.4 521.6 876.7 522.6 876.9 523.6 877.2 524.7 877.4 525.7 877.6 526.7 877.8 527.8 877.9 528.8 878.0 529.9 878.1 530.9 878.2 531.9 878.3 533.0 878.3 534.0 878.3 534.0 878.3 534.6 878.3 535.2 878.3 535.9 878.3 536.5 878.3 537.1 878.3 537.7 878.4 538.3 878.4 538.9 878.4 539.6 878.4 540.2 878.4 540.8 878.5 541.4 878.5 542.0 878.5 542.7 878.6 543.3 878.6 543.9 878.6 544.5 878.7 545.1 878.7 545.8 878.8 546.4 878.8 547.0 878.9 547.6 878.9 548.2 879.0 548.8 879.0 549.5 879.1 550.1 879.2 550.7 879.2 551.3 879.3 551.9 879.4 552.6 879.5 553.2 879.5 553.8 879.6 554.4 879.7 555.0 879.8 555.7 879.9 556.3 880.0 556.9 880.1 557.5 880.1 558.1 880.2 558.7 880.3 559.4 880.4 560.0 880.6 560.6 880.7 561.2 880.8 561.8 880.9 562.5 881.0 563.1 881.1 563.7 881.2 564.3 881.4 564.9 881.5 565.6 881.6 566.2 881.7 566.8 881.9 567.4 882.0 568.0 882.1 568.6 882.3 569.3 882.4 569.9 882.6 570.5 882.7 571.1 882.9 571.7 883.0 572.4 883.2 573.0 883.3 573.6 883.5 574.2 883.7 574.8 883.8 575.5 884.0 576.1 884.2 576.7 884.3 577.3 884.5 577.9 884.7 578.5 884.9 579.2 885.0 579.8 885.2 580.4 885.4 581.0 885.6 581.6 885.8 582.3 886.0 582.9 886.2 583.5 886.4 584.1 886.6 584.7 886.8 585.4 887.0 586.0 887.2 586.6 887.4 587.2 887.6 587.8 887.9 588.4 888.1 589.1 888.3 589.7 888.5 590.3 888.7 590.9 889.0 591.5 889.2 592.2 889.4 592.8 889.7 593.4 889.9 594.0 890.2 594.6 890.4 595.3 890.6 595.9 890.9 596.5 891.1 597.1 891.4 597.7 891.6 598.3 891.9 599.0 892.2 599.6 892.4 600.2 892.7 600.8 893.0 601.4 893.2 602.1 893.5 602.7 893.8 603.3 894.0 603.9 894.3 604.5 894.6 605.2 894.9 605.8 895.2 606.4 895.5 607.0 895.8 607.6 896.0 608.2 896.3 608.9 896.6 609.5 896.9 610.1 897.2 610.7 897.5 611.3 897.9 612.0 898.2 612.6 898.5 613.2 898.8 613.8 899.1 614.4 899.4 615.1 899.7 615.7 900.1 616.3 900.4 616.9 900.7 617.5 901.0 618.1 901.4 618.8 901.7 619.4 902.0 620.0 902.4 620.6 902.7 621.2 903.1 621.9 903.4 622.5 903.8 623.1 904.1 623.7 904.5 624.3 904.8 625.0 905.2 625.6 905.5 626.2 905.9 626.8 906.3 627.4 906.6 628.0 907.0 628.7 907.4 629.3 907.7 629.9 908.1 630.5 908.5 631.1 908.9 631.8 909.2 632.4 909.6 633.0 910.0 633.6 910.4 634.2 910.8 634.9 911.2 635.5 911.6 636.1 912.0 636.7 912.4 637.3 912.8 637.9 913.2 638.6 913.6 639.2 914.0 639.8 914.4 640.4 914.8 641.0 915.2 641.7 915.6 642.3 916.0 642.9 916.4 643.5 916.9 644.1 917.3 644.8 917.7 645.4 918.1 646.0 918.6 646.6 919.0 647.2 919.4 647.8 919.9 648.5 920.3 649.1 920.7 649.7 921.2 650.3 921.6 650.9 922.1 651.6 922.5 652.2 923.0 652.8 923.4 653.4 923.9 654.0 924.3 654.7 924.8 655.3 925.2 655.9 925.7 656.5 926.2 657.1 926.6 657.7 927.1 658.4 927.6 659.0 928.0 659.6 928.5 660.2 929.0 660.8 929.5 661.5 929.9 662.1 930.4 662.7 930.9 663.3 931.4 663.9 931.9 664.6 932.4 665.2 932.8 665.8 933.3 666.4 933.8 667.0 934.3 667.6 934.8 668.3 935.3 668.9 935.8 669.5 936.3 670.1 936.8 670.7 937.3 671.4 937.8 672.0 938.4 672.6 938.9 673.2 939.4 673.8 939.9 674.5 940.4 675.1 940.9 675.7 941.5 676.3 942.0 676.9 942.5 677.5 943.0 678.2 943.6 678.8 944.1 679.4 944.6 680.0 945.1 680.6 945.7 681.3 946.2 681.9 946.8 682.5 947.3 683.1 947.8 683.7 948.4 684.4 948.9 685.0 949.5 685.6 950.0 686.2 950.6 686.8 951.1 687.4 951.7 688.1 952.2 688.7 952.8 689.3 953.3 689.9 953.9 690.5 954.5 691.2 955.0 691.8 955.6 692.4 956.2 693.0 956.7 693.6 957.3 694.3 957.9 694.9 958.4 695.5 959.0 696.1 959.6 696.7 960.2 697.3 960.7 698.0 961.3 698.6 961.9 699.2 962.5 699.8 963.1 700.4 963.7 701.1 964.2 701.7 964.8 702.3 965.4 702.9 966.0 703.5 966.6 704.2 967.2 704.8 967.8 705.4 968.4 706.0 969.0 706.6 969.6 707.2 970.2 707.9 970.8 708.5 971.4 709.1 972.0 709.7 972.6 710.3 973.2 711.0 973.8 711.6 974.5 712.2 975.1 712.8 975.7 713.4 976.3 714.1 976.9 714.7 977.5 715.3 978.2 715.9 978.8 716.5 979.4 717.1 980.0 717.8 980.6 718.4 981.3 719.0 981.9 719.0 981.9 720.2 980.6 721.4 979.4 722.6 978.1 723.8 976.8 725.0 975.6 726.2 974.3 727.5 973.0 728.7 971.7 729.9 970.4 731.1 969.1 732.3 967.8 733.5 966.5 734.7 965.2 735.9 963.8 737.1 962.5 738.3 961.2 739.5 959.9 740.7 958.5 741.9 957.2 743.1 955.8 744.4 954.5 745.6 953.1 746.8 951.8 748.0 950.4 749.2 949.1 750.4 947.7 751.6 946.3 752.8 945.0 754.0 943.6 755.2 942.2 756.4 940.8 757.6 939.4 758.8 938.0 760.1 936.6 761.3 935.3 762.5 933.9 763.7 932.5 764.9 931.1 766.1 929.7 767.3 928.2 768.5 926.8 769.7 925.4 770.9 924.0 772.1 922.6 773.3 921.2 774.5 919.8 775.7 918.3 777.0 916.9 778.2 915.5 779.4 914.1 780.6 912.6 781.8 911.2 783.0 909.8 784.2 908.3 785.4 906.9 786.6 905.4 787.8 904.0 789.0 902.6 790.2 901.1 791.4 899.7 792.6 898.2 793.9 896.8 795.1 895.3 796.3 893.9 797.5 892.5 798.7 891.0 799.9 889.6 801.1 888.1 802.3 886.7 803.5 885.2 804.7 883.8 805.9 882.3 807.1 880.9 808.3 879.4 809.6 878.0 810.8 876.5 812.0 875.0 813.2 873.6 814.4 872.1 815.6 870.7 816.8 869.2 818.0 867.8 819.2 866.3 820.4 864.9 821.6 863.5 822.8 862.0 824.0 860.6 825.2 859.1 826.5 857.7 827.7 856.2 828.9 854.8 830.1 853.3 831.3 851.9 832.5 850.5 833.7 849.0 834.9 847.6 836.1 846.2 837.3 844.7 838.5 843.3 839.7 841.9 840.9 840.4 842.2 839.0 843.4 837.6 844.6 836.2 845.8 834.7 847.0 833.3 848.2 831.9 849.4 830.5 850.6 829.1 851.8 827.7 853.0 826.3 854.2 824.9 855.4 823.5 856.6 822.1 857.8 820.7 859.1 819.3 860.3 817.9 861.5 816.5 862.7 815.1 863.9 813.7 865.1 812.4 866.3 811.0 867.5 809.6 868.7 808.3 869.9 806.9 871.1 805.5 872.3 804.2 873.5 802.8 874.7 801.5 876.0 800.1 877.2 798.8 878.4 797.4 879.6 796.1 880.8 794.8 882.0 793.5 883.2 792.1 884.4 790.8 885.6 789.5 886.8 788.2 888.0 786.9 889.2 785.6 890.4 784.3 891.7 783.0 892.9 781.7 894.1 780.4 895.3 779.2 896.5 777.9 897.7 776.6 898.9 775.4 900.1 774.1 901.3 772.8 902.5 771.6 903.7 770.4 904.9 769.1 906.1 767.9 907.3 766.7 908.6 765.4 909.8 764.2 911.0 763.0 912.2 761.8 913.4 760.6 914.6 759.4 915.8 758.2 917.0 757.1 918.2 755.9 919.4 754.7 920.6 753.6 921.8 752.4 923.0 751.3 924.3 750.1 925.5 749.0 926.7 747.9 927.9 746.7 929.1 745.6 930.3 744.5 931.5 743.4 932.7 742.3 933.9 741.2 935.1 740.1 936.3 739.0 937.5 738.0 938.7 736.9 939.9 735.9 941.2 734.8 942.4 733.8 943.6 732.7 944.8 731.7 946.0 730.7 947.2 729.7 948.4 728.6 949.6 727.6 950.8 726.7 952.0 725.7 953.2 724.7 954.4 723.7 955.6 722.8 956.8 721.8 958.1 720.9 959.3 719.9 960.5 719.0 961.7 718.1 962.9 717.2 964.1 716.2 965.3 715.3 966.5 714.5 967.7 713.6 968.9 712.7 970.1 711.8 971.3 711.0 972.5 710.1 973.8 709.3 975.0 708.4 976.2 707.6 977.4 706.8 978.6 706.0 979.8 705.2 981.0 704.4 982.2 703.6 983.4 702.8 984.6 702.1 985.8 701.3 987.0 700.6 988.2 699.8 989.4 699.1 990.7 698.4 991.9 697.6 993.1 696.9M310.1 1267.0 311.1 1266.3 312.1 1265.7 313.2 1265.1 314.2 1264.5 315.2 1263.8 316.3 1263.2 317.3 1262.6 318.3 1261.9 319.4 1261.2 320.4 1260.6 321.5 1259.9 322.5 1259.2 323.5 1258.5 324.6 1257.8 325.6 1257.1 326.6 1256.4 327.7 1255.7 328.7 1255.0 329.8 1254.3 330.8 1253.6 331.8 1252.8 332.9 1252.1 333.9 1251.3 334.9 1250.6 336.0 1249.8 337.0 1249.0 338.0 1248.3 339.1 1247.5 340.1 1246.7 341.2 1245.9 342.2 1245.1 343.2 1244.3 344.3 1243.5 345.3 1242.7 346.3 1241.9 347.4 1241.1 348.4 1240.2 349.5 1239.4 350.5 1238.6 351.5 1237.7 352.6 1236.9 353.6 1236.0 354.6 1235.2 355.7 1234.3 356.7 1233.4 357.7 1232.5 358.8 1231.7 359.8 1230.8 360.9 1229.9 361.9 1229.0 362.9 1228.1 364.0 1227.2 365.0 1226.3 366.0 1225.4 367.1 1224.4 368.1 1223.5 369.2 1222.6 370.2 1221.6 371.2 1220.7 372.3 1219.8 373.3 1218.8 374.3 1217.9 375.4 1216.9 376.4 1215.9 377.4 1215.0 378.5 1214.0 379.5 1213.0 380.6 1212.1 381.6 1211.1 382.6 1210.1 383.7 1209.1 384.7 1208.1 385.7 1207.1 386.8 1206.1 387.8 1205.1 388.8 1204.1 389.9 1203.1 390.9 1202.1 392.0 1201.1 393.0 1200.0 394.0 1199.0 395.1 1198.0 396.1 1197.0 397.1 1195.9 398.2 1194.9 399.2 1193.8 400.3 1192.8 401.3 1191.8 402.3 1190.7 403.4 1189.7 404.4 1188.6 405.4 1187.5 406.5 1186.5 407.5 1185.4 408.5 1184.4 409.6 1183.3 410.6 1182.2 411.7 1181.2 412.7 1180.1 413.7 1179.0 414.8 1177.9 415.8 1176.9 416.8 1175.8 417.9 1174.7 418.9 1173.6 420.0 1172.5 421.0 1171.5 422.0 1170.4 423.1 1169.3 424.1 1168.2 425.1 1167.1 426.2 1166.0 427.2 1164.9 428.2 1163.9 429.3 1162.8 430.3 1161.7 431.4 1160.6 432.4 1159.5 433.4 1158.4 434.5 1157.3 435.5 1156.2 436.5 1155.2 437.6 1154.1 438.6 1153.0 439.7 1151.9 440.7 1150.8 441.7 1149.7 442.8 1148.7 443.8 1147.6 444.8 1146.5 445.9 1145.4 446.9 1144.3 447.9 1143.3 449.0 1142.2 450.0 1141.1 451.1 1140.1 452.1 1139.0 453.1 1138.0 454.2 1136.9 455.2 1135.9 456.2 1134.8 457.3 1133.8 458.3 1132.7 459.4 1131.7 460.4 1130.7 461.4 1129.6 462.5 1128.6 463.5 1127.6 464.5 1126.6 465.6 1125.6 466.6 1124.6 467.6 1123.6 468.7 1122.6 469.7 1121.6 470.8 1120.6 471.8 1119.7 472.8 1118.7 473.9 1117.8 474.9 1116.8 475.9 1115.9 477.0 1114.9 478.0 1114.0 479.1 1113.1 480.1 1112.2 481.1 1111.3 482.2 1110.4 483.2 1109.5 484.2 1108.7 485.3 1107.8 486.3 1107.0 487.3 1106.2 488.4 1105.3 489.4 1104.5 490.5 1103.7 491.5 1102.9 492.5 1102.2 493.6 1101.4 494.6 1100.7 495.6 1099.9 496.7 1099.2 497.7 1098.5 498.7 1097.8 499.8 1097.2 500.8 1096.5 501.9 1095.9 502.9 1095.2 503.9 1094.6 505.0 1094.0 506.0 1093.5 507.0 1092.9 508.1 1092.4 509.1 1091.8 510.2 1091.3 511.2 1090.9 512.2 1090.4 513.3 1089.9 514.3 1089.5 515.3 1089.1 516.4 1088.7 517.4 1088.4 518.4 1088.0 519.5 1087.7 520.5 1087.4 521.6 1087.1 522.6 1086.9 523.6 1086.6 524.7 1086.4 525.7 1086.2 526.7 1086.0 527.8 1085.9 528.8 1085.8 529.9 1085.7 530.9 1085.6 531.9 1085.5 533.0 1085.5 534.0 1085.5 534.0 1085.5 534.6 1085.5 535.2 1085.5 535.9 1085.5 536.5 1085.5 537.1 1085.5 537.7 1085.4 538.3 1085.4 538.9 1085.4 539.6 1085.4 540.2 1085.4 540.8 1085.3 541.4 1085.3 542.0 1085.3 542.7 1085.2 543.3 1085.2 543.9 1085.2 544.5 1085.1 545.1 1085.1 545.8 1085.0 546.4 1085.0 547.0 1084.9 547.6 1084.9 548.2 1084.8 548.8 1084.8 549.5 1084.7 550.1 1084.6 550.7 1084.6 551.3 1084.5 551.9 1084.4 552.6 1084.3 553.2 1084.3 553.8 1084.2 554.4 1084.1 555.0 1084.0 555.7 1083.9 556.3 1083.8 556.9 1083.7 557.5 1083.7 558.1 1083.6 558.7 1083.5 559.4 1083.4 560.0 1083.2 560.6 1083.1 561.2 1083.0 561.8 1082.9 562.5 1082.8 563.1 1082.7 563.7 1082.6 564.3 1082.4 564.9 1082.3 565.6 1082.2 566.2 1082.1 566.8 1081.9 567.4 1081.8 568.0 1081.7 568.6 1081.5 569.3 1081.4 569.9 1081.2 570.5 1081.1 571.1 1080.9 571.7 1080.8 572.4 1080.6 573.0 1080.5 573.6 1080.3 574.2 1080.1 574.8 1080.0 575.5 1079.8 576.1 1079.6 576.7 1079.5 577.3 1079.3 577.9 1079.1 578.5 1078.9 579.2 1078.8 579.8 1078.6 580.4 1078.4 581.0 1078.2 581.6 1078.0 582.3 1077.8 582.9 1077.6 583.5 1077.4 584.1 1077.2 584.7 1077.0 585.4 1076.8 586.0 1076.6 586.6 1076.4 587.2 1076.2 587.8 1075.9 588.4 1075.7 589.1 1075.5 589.7 1075.3 590.3 1075.1 590.9 1074.8 591.5 1074.6 592.2 1074.4 592.8 1074.1 593.4 1073.9 594.0 1073.6 594.6 1073.4 595.3 1073.2 595.9 1072.9 596.5 1072.7 597.1 1072.4 597.7 1072.2 598.3 1071.9 599.0 1071.6 599.6 1071.4 600.2 1071.1 600.8 1070.8 601.4 1070.6 602.1 1070.3 602.7 1070.0 603.3 1069.8 603.9 1069.5 604.5 1069.2 605.2 1068.9 605.8 1068.6 606.4 1068.3 607.0 1068.0 607.6 1067.8 608.2 1067.5 608.9 1067.2 609.5 1066.9 610.1 1066.6 610.7 1066.3 611.3 1065.9 612.0 1065.6 612.6 1065.3 613.2 1065.0 613.8 1064.7 614.4 1064.4 615.1 1064.1 615.7 1063.7 616.3 1063.4 616.9 1063.1 617.5 1062.8 618.1 1062.4 618.8 1062.1 619.4 1061.8 620.0 1061.4 620.6 1061.1 621.2 1060.7 621.9 1060.4 622.5 1060.0 623.1 1059.7 623.7 1059.3 624.3 1059.0 625.0 1058.6 625.6 1058.3 626.2 1057.9 626.8 1057.5 627.4 1057.2 628.0 1056.8 628.7 1056.4 629.3 1056.1 629.9 1055.7 630.5 1055.3 631.1 1054.9 631.8 1054.6 632.4 1054.2 633.0 1053.8 633.6 1053.4 634.2 1053.0 634.9 1052.6 635.5 1052.2 636.1 1051.8 636.7 1051.4 637.3 1051.0 637.9 1050.6 638.6 1050.2 639.2 1049.8 639.8 1049.4 640.4 1049.0 641.0 1048.6 641.7 1048.2 642.3 1047.8 642.9 1047.4 643.5 1046.9 644.1 1046.5 644.8 1046.1 645.4 1045.7 646.0 1045.2 646.6 1044.8 647.2 1044.4 647.8 1043.9 648.5 1043.5 649.1 1043.1 649.7 1042.6 650.3 1042.2 650.9 1041.7 651.6 1041.3 652.2 1040.8 652.8 1040.4 653.4 1039.9 654.0 1039.5 654.7 1039.0 655.3 1038.6 655.9 1038.1 656.5 1037.6 657.1 1037.2 657.7 1036.7 658.4 1036.2 659.0 1035.8 659.6 1035.3 660.2 1034.8 660.8 1034.3 661.5 1033.9 662.1 1033.4 662.7 1032.9 663.3 1032.4 663.9 1031.9 664.6 1031.4 665.2 1031.0 665.8 1030.5 666.4 1030.0 667.0 1029.5 667.6 1029.0 668.3 1028.5 668.9 1028.0 669.5 1027.5 670.1 1027.0 670.7 1026.5 671.4 1026.0 672.0 1025.4 672.6 1024.9 673.2 1024.4 673.8 1023.9 674.5 1023.4 675.1 1022.9 675.7 1022.3 676.3 1021.8 676.9 1021.3 677.5 1020.8 678.2 1020.2 678.8 1019.7 679.4 1019.2 680.0 1018.7 680.6 1018.1 681.3 1017.6 681.9 1017.0 682.5 1016.5 683.1 1016.0 683.7 1015.4 684.4 1014.9 685.0 1014.3 685.6 1013.8 686.2 1013.2 686.8 1012.7 687.4 1012.1 688.1 1011.6 688.7 1011.0 689.3 1010.5 689.9 1009.9 690.5 1009.3 691.2 1008.8 691.8 1008.2 692.4 1007.6 693.0 1007.1 693.6 1006.5 694.3 1005.9 694.9 1005.4 695.5 1004.8 696.1 1004.2 696.7 1003.6 697.3 1003.1 698.0 1002.5 698.6 1001.9 699.2 1001.3 699.8 1000.7 700.4 1000.1 701.1 999.6 701.7 999.0 702.3 998.4 702.9 997.8 703.5 997.2 704.2 996.6 704.8 996.0 705.4 995.4 706.0 994.8 706.6 994.2 707.2 993.6 707.9 993.0 708.5 992.4 709.1 991.8 709.7 991.2 710.3 990.6 711.0 990.0 711.6 989.3 712.2 988.7 712.8 988.1 713.4 987.5 714.1 986.9 714.7 986.3 715.3 985.6 715.9 985.0 716.5 984.4 717.1 983.8 717.8 983.2 718.4 982.5 719.0 981.9 719.0 981.9 720.2 983.2 721.4 984.4 722.6 985.7 723.8 987.0 725.0 988.2 726.2 989.5 727.5 990.8 728.7 992.1 729.9 993.4 731.1 994.7 732.3 996.0 733.5 997.3 734.7 998.6 735.9 1000.0 737.1 1001.3 738.3 1002.6 739.5 1003.9 740.7 1005.3 741.9 1006.6 743.1 1008.0 744.4 1009.3 745.6 1010.7 746.8 1012.0 748.0 1013.4 749.2 1014.7 750.4 1016.1 751.6 1017.5 752.8 1018.8 754.0 1020.2 755.2 1021.6 756.4 1023.0 757.6 1024.4 758.8 1025.8 760.1 1027.2 761.3 1028.5 762.5 1029.9 763.7 1031.3 764.9 1032.7 766.1 1034.1 767.3 1035.6 768.5 1037.0 769.7 1038.4 770.9 1039.8 772.1 1041.2 773.3 1042.6 774.5 1044.0 775.7 1045.5 777.0 1046.9 778.2 1048.3 779.4 1049.7 780.6 1051.2 781.8 1052.6 783.0 1054.0 784.2 1055.5 785.4 1056.9 786.6 1058.4 787.8 1059.8 789.0 1061.2 790.2 1062.7 791.4 1064.1 792.6 1065.6 793.9 1067.0 795.1 1068.5 796.3 1069.9 797.5 1071.3 798.7 1072.8 799.9 1074.2 801.1 1075.7 802.3 1077.1 803.5 1078.6 804.7 1080.0 805.9 1081.5 807.1 1082.9 808.3 1084.4 809.6 1085.8 810.8 1087.3 812.0 1088.8 813.2 1090.2 814.4 1091.7 815.6 1093.1 816.8 1094.6 818.0 1096.0 819.2 1097.5 820.4 1098.9 821.6 1100.3 822.8 1101.8 824.0 1103.2 825.2 1104.7 826.5 1106.1 827.7 1107.6 828.9 1109.0 830.1 1110.5 831.3 1111.9 832.5 1113.3 833.7 1114.8 834.9 1116.2 836.1 1117.6 837.3 1119.1 838.5 1120.5 839.7 1121.9 840.9 1123.4 842.2 1124.8 843.4 1126.2 844.6 1127.6 845.8 1129.1 847.0 1130.5 848.2 1131.9 849.4 1133.3 850.6 1134.7 851.8 1136.1 853.0 1137.5 854.2 1138.9 855.4 1140.3 856.6 1141.7 857.8 1143.1 859.1 1144.5 860.3 1145.9 861.5 1147.3 862.7 1148.7 863.9 1150.1 865.1 1151.4 866.3 1152.8 867.5 1154.2 868.7 1155.5 869.9 1156.9 871.1 1158.3 872.3 1159.6 873.5 1161.0 874.7 1162.3 876.0 1163.7 877.2 1165.0 878.4 1166.4 879.6 1167.7 880.8 1169.0 882.0 1170.3 883.2 1171.7 884.4 1173.0 885.6 1174.3 886.8 1175.6 888.0 1176.9 889.2 1178.2 890.4 1179.5 891.7 1180.8 892.9 1182.1 894.1 1183.4 895.3 1184.6 896.5 1185.9 897.7 1187.2 898.9 1188.4 900.1 1189.7 901.3 1191.0 902.5 1192.2 903.7 1193.4 904.9 1194.7 906.1 1195.9 907.3 1197.1 908.6 1198.4 909.8 1199.6 911.0 1200.8 912.2 1202.0 913.4 1203.2 914.6 1204.4 915.8 1205.6 917.0 1206.7 918.2 1207.9 919.4 1209.1 920.6 1210.2 921.8 1211.4 923.0 1212.5 924.3 1213.7 925.5 1214.8 926.7 1215.9 927.9 1217.1 929.1 1218.2 930.3 1219.3 931.5 1220.4 932.7 1221.5 933.9 1222.6 935.1 1223.7 936.3 1224.8 937.5 1225.8 938.7 1226.9 939.9 1227.9 941.2 1229.0 942.4 1230.0 943.6 1231.1 944.8 1232.1 946.0 1233.1 947.2 1234.1 948.4 1235.2 949.6 1236.2 950.8 1237.1 952.0 1238.1 953.2 1239.1 954.4 1240.1 955.6 1241.0 956.8 1242.0 958.1 1242.9 959.3 1243.9 960.5 1244.8 961.7 1245.7 962.9 1246.6 964.1 1247.6 965.3 1248.5 966.5 1249.3 967.7 1250.2 968.9 1251.1 970.1 1252.0 971.3 1252.8 972.5 1253.7 973.8 1254.5 975.0 1255.4 976.2 1256.2 977.4 1257.0 978.6 1257.8 979.8 1258.6 981.0 1259.4 982.2 1260.2 983.4 1261.0 984.6 1261.7 985.8 1262.5 987.0 1263.2 988.2 1264.0 989.4 1264.7 990.7 1265.4 991.9 1266.2 993.1 1266.9" stroke="#2D2B9B" stroke-width="4.5"/>
<path d="M224.0 846.0 225.0 846.0 226.1 846.0 227.1 846.0 228.1 846.0 229.2 846.1 230.2 846.1 231.3 846.1 232.3 846.2 233.3 846.2 234.4 846.3 235.4 846.4 236.4 846.4 237.5 846.5 238.5 846.6 239.6 846.7 240.6 846.8 241.6 846.8 242.7 847.0 243.7 847.1 244.7 847.2 245.8 847.3 246.8 847.4 247.8 847.6 248.9 847.7 249.9 847.8 251.0 848.0 252.0 848.1 253.0 848.3 254.1 848.5 255.1 848.7 256.1 848.8 257.2 849.0 258.2 849.2 259.3 849.4 260.3 849.6 261.3 849.8 262.4 850.0 263.4 850.3 264.4 850.5 265.5 850.7 266.5 851.0 267.5 851.2 268.6 851.5 269.6 851.7 270.7 852.0 271.7 852.3 272.7 852.6 273.8 852.9 274.8 853.2 275.8 853.5 276.9 853.8 277.9 854.1 278.9 854.4 280.0 854.7 281.0 855.0 282.1 855.4 283.1 855.7 284.1 856.1 285.2 856.4 286.2 856.8 287.2 857.2 288.3 857.6 289.3 857.9 290.4 858.3 291.4 858.7 292.4 859.1 293.5 859.6 294.5 860.0 295.5 860.4 296.6 860.8 297.6 861.3 298.6 861.7 299.7 862.2 300.7 862.6 301.8 863.1 302.8 863.6 303.8 864.0 304.9 864.5 305.9 865.0 306.9 865.5 308.0 866.0 309.0 866.5 310.1 867.0 311.1 867.6 312.1 868.1 313.2 868.6 314.2 869.2 315.2 869.7 316.3 870.3 317.3 870.9 318.3 871.4 319.4 872.0 320.4 872.6 321.5 873.2 322.5 873.8 323.5 874.4 324.6 875.0 325.6 875.6 326.6 876.3 327.7 876.9 328.7 877.5 329.8 878.2 330.8 878.8 331.8 879.5 332.9 880.1 333.9 880.8 334.9 881.5 336.0 882.1 337.0 882.8 338.0 883.5 339.1 884.2 340.1 884.9 341.2 885.6 342.2 886.4 343.2 887.1 344.3 887.8 345.3 888.5 346.3 889.3 347.4 890.0 348.4 890.8 349.5 891.5 350.5 892.3 351.5 893.0 352.6 893.8 353.6 894.6 354.6 895.3 355.7 896.1 356.7 896.9 357.7 897.7 358.8 898.5 359.8 899.3 360.9 900.1 361.9 900.9 362.9 901.7 364.0 902.5 365.0 903.3 366.0 904.2 367.1 905.0 368.1 905.8 369.2 906.6 370.2 907.5 371.2 908.3 372.3 909.2 373.3 910.0 374.3 910.8 375.4 911.7 376.4 912.5 377.4 913.4 378.5 914.2 379.5 915.1 380.6 916.0 381.6 916.8 382.6 917.7 383.7 918.5 384.7 919.4 385.7 920.3 386.8 921.1 387.8 922.0 388.8 922.9 389.9 923.7 390.9 924.6 392.0 925.4 393.0 926.3 394.0 927.2 395.1 928.0 396.1 928.9 397.1 929.7 398.2 930.6 399.2 931.5 400.3 932.3 401.3 933.2 402.3 934.0 403.4 934.9 404.4 935.7 405.4 936.6 406.5 937.4 407.5 938.2 408.5 939.1 409.6 939.9 410.6 940.7 411.7 941.6 412.7 942.4 413.7 943.2 414.8 944.1 415.8 944.9 416.8 945.7 417.9 946.6 418.9 947.4 420.0 948.2 421.0 949.1 422.0 949.9 423.1 950.7 424.1 951.6 425.1 952.4 426.2 953.3 427.2 954.1 428.2 954.9 429.3 955.8 430.3 956.7 431.4 957.5 432.4 958.4 433.4 959.2 434.5 960.1 435.5 961.0 436.5 961.9 437.6 962.7 438.6 963.6 439.7 964.5 440.7 965.4 441.7 966.3 442.8 967.3 443.8 968.2 444.8 969.1 445.9 970.0 446.9 971.0 447.9 971.9 449.0 972.9 450.0 973.8 451.1 974.8 452.1 975.7 453.1 976.7 454.2 977.6 455.2 978.6 456.2 979.6 457.3 980.5 458.3 981.5 459.4 981.3 460.4 980.4 461.4 979.4 462.5 978.4 463.5 977.5 464.5 976.5 465.6 975.5 466.6 974.6 467.6 973.6 468.7 972.7 469.7 971.7 470.8 970.8 471.8 969.9 472.8 969.0 473.9 968.0 474.9 967.1 475.9 966.2 477.0 965.3 478.0 964.4 479.1 963.5 480.1 962.7 481.1 961.8 482.2 961.0 483.2 960.1 484.2 959.3 485.3 958.5 486.3 957.7 487.3 956.9 488.4 956.1 489.4 955.3 490.5 954.5 491.5 953.8 492.5 953.1 493.6 952.3 494.6 951.6 495.6 950.9 496.7 950.3 497.7 949.6 498.7 949.0 499.8 948.3 500.8 947.7 501.9 947.1 502.9 946.5 503.9 946.0 505.0 945.4 506.0 944.9 507.0 944.4 508.1 943.9 509.1 943.4 510.2 943.0 511.2 942.5 512.2 942.1 513.3 941.7 514.3 941.3 515.3 940.9 516.4 940.6 517.4 940.3 518.4 940.0 519.5 939.7 520.5 939.4 521.6 939.2 522.6 938.9 523.6 938.7 524.7 938.5 525.7 938.4 526.7 938.2 527.8 938.1 528.8 938.0 529.9 937.9 530.9 937.8 531.9 937.7 533.0 937.7 534.0 937.7 534.0 937.7 534.6 937.7 535.2 937.7 535.9 937.7 536.5 937.7 537.1 937.7 537.7 937.7 538.3 937.7 538.9 937.6 539.6 937.6 540.2 937.6 540.8 937.6 541.4 937.5 542.0 937.5 542.7 937.5 543.3 937.5 543.9 937.4 544.5 937.4 545.1 937.3 545.8 937.3 546.4 937.3 547.0 937.2 547.6 937.2 548.2 937.1 548.8 937.1 549.5 937.0 550.1 937.0 550.7 936.9 551.3 936.8 551.9 936.8 552.6 936.7 553.2 936.6 553.8 936.6 554.4 936.5 555.0 936.4 555.7 936.4 556.3 936.3 556.9 936.2 557.5 936.1 558.1 936.0 558.7 935.9 559.4 935.8 560.0 935.8 560.6 935.7 561.2 935.6 561.8 935.5 562.5 935.4 563.1 935.3 563.7 935.2 564.3 935.1 564.9 935.0 565.6 934.8 566.2 934.7 566.8 934.6 567.4 934.5 568.0 934.4 568.6 934.3 569.3 934.1 569.9 934.0 570.5 933.9 571.1 933.8 571.7 933.6 572.4 933.5 573.0 933.4 573.6 933.2 574.2 933.1 574.8 933.0 575.5 932.8 576.1 932.7 576.7 932.5 577.3 932.4 577.9 932.2 578.5 932.1 579.2 931.9 579.8 931.8 580.4 931.6 581.0 931.5 581.6 931.3 582.3 931.1 582.9 931.0 583.5 930.8 584.1 930.6 584.7 930.5 585.4 930.3 586.0 930.1 586.6 929.9 587.2 929.8 587.8 929.6 588.4 929.4 589.1 929.2 589.7 929.0 590.3 928.9 590.9 928.7 591.5 928.5 592.2 928.3 592.8 928.1 593.4 927.9 594.0 927.7 594.6 927.5 595.3 927.3 595.9 927.1 596.5 926.9 597.1 926.7 597.7 926.5 598.3 926.3 599.0 926.1 599.6 925.9 600.2 925.7 600.8 925.4 601.4 925.2 602.1 925.0 602.7 924.8 603.3 924.6 603.9 924.4 604.5 924.1 605.2 923.9 605.8 923.7 606.4 923.5 607.0 923.2 607.6 923.0 608.2 922.8 608.9 922.5 609.5 922.3 610.1 922.1 610.7 921.8 611.3 921.6 612.0 921.4 612.6 921.1 613.2 920.9 613.8 920.6 614.4 920.4 615.1 920.1 615.7 919.9 616.3 919.7 616.9 919.4 617.5 919.2 618.1 918.9 618.8 918.6 619.4 918.4 620.0 918.1 620.6 917.9 621.2 917.6 621.9 917.4 622.5 917.1 623.1 916.8 623.7 916.6 624.3 916.3 625.0 916.1 625.6 915.8 626.2 915.5 626.8 915.3 627.4 915.0 628.0 914.7 628.7 914.5 629.3 914.2 629.9 913.9 630.5 913.6 631.1 913.4 631.8 913.1 632.4 912.8 633.0 912.5 633.6 912.2 634.2 912.0 634.9 911.7 635.5 911.4 636.1 911.1 636.7 910.8 637.3 910.6 637.9 910.3 638.6 910.0 639.2 909.7 639.8 909.4 640.4 909.1 641.0 908.8 641.7 908.5 642.3 908.3 642.9 908.0 643.5 907.7 644.1 907.4 644.8 907.1 645.4 906.8 646.0 906.5 646.6 906.2 647.2 905.9 647.8 905.6 648.5 905.3 649.1 905.0 649.7 904.7 650.3 904.4 650.9 904.1 651.6 903.8 652.2 903.5 652.8 903.2 653.4 902.9 654.0 902.6 654.7 902.3 655.3 902.0 655.9 901.7 656.5 901.3 657.1 901.0 657.7 900.7 658.4 900.4 659.0 900.1 659.6 899.8 660.2 899.5 660.8 899.2 661.5 898.9 662.1 898.5 662.7 898.2 663.3 897.9 663.9 897.6 664.6 897.3 665.2 897.0 665.8 896.6 666.4 896.3 667.0 896.0 667.6 895.7 668.3 895.4 668.9 895.1 669.5 894.7 670.1 894.4 670.7 894.1 671.4 893.8 672.0 893.5 672.6 893.2 673.2 892.8 673.8 892.5 674.5 892.2 675.1 891.9 675.7 891.6 676.3 891.3 676.9 891.0 677.5 890.7 678.2 890.4 678.8 890.0 679.4 889.7 680.0 889.4 680.6 889.1 681.3 888.8 681.9 888.5 682.5 888.2 683.1 887.9 683.7 887.6 684.4 887.3 685.0 887.0 685.6 886.8 686.2 886.5 686.8 886.2 687.4 885.9 688.1 885.6 688.7 885.4 689.3 885.1 689.9 884.8 690.5 884.5 691.2 884.3 691.8 884.0 692.4 883.8 693.0 883.5 693.6 883.2 694.3 883.0 694.9 882.8 695.5 882.5 696.1 882.3 696.7 882.0 697.3 881.8 698.0 881.6 698.6 881.4 699.2 881.1 699.8 880.9 700.4 880.7 701.1 880.5 701.7 880.3 702.3 880.1 702.9 880.0 703.5 879.8 704.2 879.6 704.8 879.4 705.4 879.3 706.0 879.1 706.6 879.0 707.2 878.8 707.9 878.7 708.5 878.5 709.1 878.4 709.7 878.3 710.3 878.2 711.0 878.1 711.6 878.0 712.2 877.9 712.8 877.8 713.4 877.7 714.1 877.6 714.7 877.6 715.3 877.5 715.9 877.5 716.5 877.4 717.1 877.4 717.8 877.4 718.4 877.4 719.0 877.4 719.0 877.4 720.2 877.4 721.4 877.4 722.6 877.5 723.8 877.6 725.0 877.8 726.2 878.0 727.5 878.2 728.7 878.5 729.9 878.8 731.1 879.1 732.3 879.4 733.5 879.8 734.7 880.2 735.9 880.7 737.1 881.1 738.3 881.6 739.5 882.2 740.7 882.7 741.9 883.3 743.1 883.9 744.4 884.5 745.6 885.2 746.8 885.9 748.0 886.6 749.2 887.3 750.4 888.0 751.6 888.8 752.8 889.5 754.0 890.3 755.2 891.1 756.4 892.0 757.6 892.8 758.8 893.7 760.1 894.5 761.3 895.4 762.5 896.3 763.7 897.2 764.9 898.1 766.1 899.0 767.3 900.0 768.5 900.9 769.7 901.8 770.9 902.8 772.1 903.7 773.3 904.7 774.5 905.7 775.7 906.7 777.0 907.6 778.2 908.6 779.4 909.6 780.6 910.7 781.8 911.7 783.0 912.7 784.2 913.7 785.4 914.8 786.6 915.9 787.8 916.9 789.0 918.0 790.2 919.1 791.4 920.2 792.6 921.3 793.9 922.4 795.1 923.6 796.3 924.7 797.5 925.9 798.7 927.0 799.9 928.2 801.1 929.4 802.3 930.6 803.5 931.8 804.7 933.0 805.9 934.2 807.1 935.5 808.3 936.8 809.6 938.0 810.8 939.3 812.0 940.6 813.2 941.9 814.4 943.2 815.6 944.6 816.8 945.9 818.0 947.2 819.2 948.6 820.4 950.0 821.6 951.3 822.8 952.7 824.0 954.1 825.2 955.4 826.5 956.8 827.7 958.2 828.9 959.6 830.1 961.0 831.3 962.4 832.5 963.8 833.7 965.2 834.9 966.5 836.1 967.9 837.3 969.3 838.5 970.7 839.7 972.1 840.9 973.4 842.2 974.8 843.4 976.2 844.6 977.5 845.8 978.8 847.0 980.2 848.2 981.5 849.4 981.0 850.6 979.7 851.8 978.4 853.0 977.1 854.2 975.8 855.4 974.5 856.6 973.3 857.8 972.0 859.1 970.8 860.3 969.6 861.5 968.4 862.7 967.2 863.9 966.1 865.1 964.9 866.3 963.8 867.5 962.7 868.7 961.5 869.9 960.4 871.1 959.4 872.3 958.3 873.5 957.2 874.7 956.1 876.0 955.1 877.2 954.0 878.4 953.0 879.6 952.0 880.8 950.9 882.0 949.9 883.2 948.9 884.4 947.9 885.6 946.9 886.8 945.9 888.0 944.9 889.2 943.9 890.4 942.9 891.7 941.9 892.9 940.9 894.1 939.9 895.3 938.9 896.5 937.8 897.7 936.8 898.9 935.8 900.1 934.8 901.3 933.8 902.5 932.8 903.7 931.8 904.9 930.8 906.1 929.8 907.3 928.7 908.6 927.7 909.8 926.7 911.0 925.7 912.2 924.7 913.4 923.6 914.6 922.6 915.8 921.6 917.0 920.6 918.2 919.6 919.4 918.6 920.6 917.6 921.8 916.5 923.0 915.5 924.3 914.5 925.5 913.5 926.7 912.5 927.9 911.5 929.1 910.6 930.3 909.6 931.5 908.6 932.7 907.6 933.9 906.6 935.1 905.7 936.3 904.7 937.5 903.7 938.7 902.8 939.9 901.8 941.2 900.9 942.4 900.0 943.6 899.0 944.8 898.1 946.0 897.2 947.2 896.3 948.4 895.3 949.6 894.4 950.8 893.6 952.0 892.7 953.2 891.8 954.4 890.9 955.6 890.0 956.8 889.2 958.1 888.3 959.3 887.5 960.5 886.6 961.7 885.8 962.9 885.0 964.1 884.2 965.3 883.4 966.5 882.6 967.7 881.8 968.9 881.0 970.1 880.2 971.3 879.5 972.5 878.7 973.8 877.9 975.0 877.2 976.2 876.5 977.4 875.7 978.6 875.0 979.8 874.3 981.0 873.6 982.2 872.9 983.4 872.3 984.6 871.6 985.8 870.9 987.0 870.3 988.2 869.6 989.4 869.0 990.7 868.4 991.9 867.7 993.1 867.1 994.3 866.5 995.5 865.9 996.7 865.4 997.9 864.8 999.1 864.2 1000.3 863.7 1001.5 863.1 1002.7 862.6 1003.9 862.0 1005.1 861.5 1006.4 861.0 1007.6 860.5 1008.8 860.0 1010.0 859.5 1011.2 859.1 1012.4 858.6 1013.6 858.1 1014.8 857.7 1016.0 857.3 1017.2 856.8 1018.4 856.4 1019.6 856.0 1020.8 855.6 1022.0 855.2 1023.3 854.8 1024.5 854.4 1025.7 854.1 1026.9 853.7 1028.1 853.3 1029.3 853.0 1030.5 852.7 1031.7 852.3 1032.9 852.0 1034.1 851.7 1035.3 851.4 1036.5 851.1 1037.7 850.8 1038.9 850.6 1040.2 850.3 1041.4 850.0 1042.6 849.8 1043.8 849.5 1045.0 849.3 1046.2 849.1 1047.4 848.9 1048.6 848.7 1049.8 848.5 1051.0 848.3 1052.2 848.1 1053.4 847.9 1054.6 847.7 1055.9 847.6 1057.1 847.4 1058.3 847.3 1059.5 847.1 1060.7 847.0 1061.9 846.9 1063.1 846.8 1064.3 846.7 1065.5 846.6 1066.7 846.5 1067.9 846.4 1069.1 846.3 1070.3 846.3 1071.5 846.2 1072.8 846.1 1074.0 846.1 1075.2 846.1 1076.4 846.0 1077.6 846.0 1078.8 846.0 1080.0 846.0M485.3 697.0 486.3 697.7 487.3 698.5 488.4 699.2 489.4 699.9 490.5 700.6 491.5 701.3 492.5 702.0 493.6 702.6 494.6 703.3 495.6 703.9 496.7 704.6 497.7 705.2 498.7 705.8 499.8 706.3 500.8 706.9 501.9 707.5 502.9 708.0 503.9 708.5 505.0 709.1 506.0 709.6 507.0 710.0 508.1 710.5 509.1 711.0 510.2 711.4 511.2 711.8 512.2 712.2 513.3 712.6 514.3 713.0 515.3 713.3 516.4 713.6 517.4 713.9 518.4 714.2 519.5 714.5 520.5 714.8 521.6 715.0 522.6 715.2 523.6 715.4 524.7 715.6 525.7 715.8 526.7 715.9 527.8 716.1 528.8 716.2 529.9 716.3 530.9 716.3 531.9 716.4 533.0 716.4 534.0 716.4 534.0 716.4 534.6 716.4 535.2 716.4 535.9 716.4 536.5 716.4 537.1 716.4 537.7 716.4 538.3 716.5 538.9 716.5 539.6 716.5 540.2 716.5 540.8 716.5 541.4 716.6 542.0 716.6 542.7 716.6 543.3 716.7 543.9 716.7 544.5 716.7 545.1 716.8 545.8 716.8 546.4 716.8 547.0 716.9 547.6 716.9 548.2 717.0 548.8 717.0 549.5 717.1 550.1 717.1 550.7 717.2 551.3 717.3 551.9 717.3 552.6 717.4 553.2 717.4 553.8 717.5 554.4 717.6 555.0 717.7 555.7 717.7 556.3 717.8 556.9 717.9 557.5 718.0 558.1 718.0 558.7 718.1 559.4 718.2 560.0 718.3 560.6 718.4 561.2 718.5 561.8 718.6 562.5 718.7 563.1 718.8 563.7 718.9 564.3 719.0 564.9 719.1 565.6 719.2 566.2 719.3 566.8 719.4 567.4 719.5 568.0 719.7 568.6 719.8 569.3 719.9 569.9 720.0 570.5 720.1 571.1 720.3 571.7 720.4 572.4 720.5 573.0 720.7 573.6 720.8 574.2 720.9 574.8 721.1 575.5 721.2 576.1 721.4 576.7 721.5 577.3 721.7 577.9 721.8 578.5 722.0 579.2 722.1 579.8 722.3 580.4 722.4 581.0 722.6 581.6 722.7 582.3 722.9 582.9 723.1 583.5 723.2 584.1 723.4 584.7 723.6 585.4 723.7 586.0 723.9 586.6 724.1 587.2 724.3 587.8 724.5 588.4 724.6 589.1 724.8 589.7 725.0 590.3 725.2 590.9 725.4 591.5 725.6 592.2 725.8 592.8 726.0 593.4 726.2 594.0 726.4 594.6 726.6 595.3 726.8 595.9 727.0 596.5 727.2 597.1 727.4 597.7 727.6 598.3 727.8 599.0 728.0 599.6 728.2 600.2 728.5 600.8 728.7 601.4 728.9 602.1 729.1 602.7 729.4 603.3 729.6 603.9 729.8 604.5 730.0 605.2 730.3 605.8 730.5 606.4 730.7 607.0 731.0 607.6 731.2 608.2 731.5 608.9 731.7 609.5 731.9 610.1 732.2 610.7 732.4 611.3 732.7 612.0 732.9 612.6 733.2 613.2 733.4 613.8 733.7 614.4 733.9 615.1 734.2 615.7 734.5 616.3 734.7 616.9 735.0 617.5 735.3 618.1 735.5 618.8 735.8 619.4 736.1 620.0 736.3 620.6 736.6 621.2 736.9 621.9 737.1 622.5 737.4 623.1 737.7 623.7 738.0 624.3 738.2 625.0 738.5 625.6 738.8 626.2 739.1 626.8 739.4 627.4 739.7 628.0 740.0 628.7 740.2 629.3 740.5 629.9 740.8 630.5 741.1 631.1 741.4 631.8 741.7 632.4 742.0 633.0 742.3 633.6 742.6 634.2 742.9 634.9 743.2 635.5 743.5 636.1 743.8 636.7 744.1 637.3 744.4 637.9 744.7 638.6 745.0 639.2 745.3 639.8 745.6 640.4 745.9 641.0 746.2 641.7 746.6 642.3 746.9 642.9 747.2 643.5 747.5 644.1 747.8 644.8 748.1 645.4 748.4 646.0 748.7 646.6 749.1 647.2 749.4 647.8 749.7 648.5 750.0 649.1 750.3 649.7 750.6 650.3 751.0 650.9 751.3 651.6 751.6 652.2 751.9 652.8 752.2 653.4 752.6 654.0 752.9 654.7 753.2 655.3 753.5 655.9 753.9 656.5 754.2 657.1 754.5 657.7 754.8 658.4 755.1 659.0 755.5 659.6 755.8 660.2 756.1 660.8 756.4 661.5 756.7 662.1 757.1 662.7 757.4 663.3 757.7 663.9 758.0 664.6 758.3 665.2 758.7 665.8 759.0 666.4 759.3 667.0 759.6 667.6 759.9 668.3 760.3 668.9 760.6 669.5 760.9 670.1 761.2 670.7 761.5 671.4 761.8 672.0 762.1 672.6 762.4 673.2 762.7 673.8 763.1 674.5 763.4 675.1 763.7 675.7 764.0 676.3 764.3 676.9 764.6 677.5 764.9 678.2 765.2 678.8 765.5 679.4 765.8 680.0 766.1 680.6 766.3 681.3 766.6 681.9 766.9 682.5 767.2 683.1 767.5 683.7 767.8 684.4 768.0 685.0 768.3 685.6 768.6 686.2 768.9 686.8 769.1 687.4 769.4 688.1 769.6 688.7 769.9 689.3 770.2 689.9 770.4 690.5 770.7 691.2 770.9 691.8 771.1 692.4 771.4 693.0 771.6 693.6 771.8 694.3 772.1 694.9 772.3 695.5 772.5 696.1 772.7 696.7 772.9 697.3 773.2 698.0 773.4 698.6 773.6 699.2 773.8 699.8 773.9 700.4 774.1 701.1 774.3 701.7 774.5 702.3 774.7 702.9 774.8 703.5 775.0 704.2 775.1 704.8 775.3 705.4 775.4 706.0 775.6 706.6 775.7 707.2 775.8 707.9 775.9 708.5 776.1 709.1 776.2 709.7 776.3 710.3 776.4 711.0 776.5 711.6 776.5 712.2 776.6 712.8 776.7 713.4 776.8 714.1 776.8 714.7 776.9 715.3 776.9 715.9 777.0 716.5 777.0 717.1 777.0 717.8 777.0 718.4 777.0 719.0 777.0 719.0 777.0 720.2 777.0 721.4 777.0 722.6 776.9 723.8 776.8 725.0 776.7 726.2 776.5 727.5 776.3 728.7 776.1 729.9 775.9 731.1 775.6 732.3 775.3 733.5 774.9 734.7 774.6 735.9 774.2 737.1 773.8 738.3 773.3 739.5 772.8 740.7 772.3 741.9 771.8 743.1 771.2 744.4 770.7 745.6 770.1 746.8 769.4 748.0 768.8 749.2 768.1 750.4 767.4 751.6 766.7 752.8 765.9 754.0 765.2 755.2 764.4 756.4 763.6 757.6 762.8 758.8 761.9 760.1 761.1 761.3 760.2 762.5 759.3 763.7 758.4 764.9 757.5 766.1 756.6 767.3 755.6 768.5 754.6 769.7 753.7 770.9 752.7 772.1 751.7 773.3 750.6 774.5 749.6 775.7 748.6 777.0 747.5 778.2 746.5 779.4 745.4 780.6 744.3 781.8 743.2 783.0 742.1 784.2 741.0 785.4 739.9 786.6 738.7 787.8 737.6 789.0 736.5 790.2 735.3 791.4 734.2 792.6 733.0 793.9 731.8 795.1 730.6 796.3 729.5 797.5 728.3 798.7 727.1 799.9 725.9 801.1 724.7 802.3 723.5 803.5 722.2 804.7 721.0 805.9 719.8 807.1 718.6 808.3 717.3 809.6 716.1 810.8 714.9 812.0 713.6 813.2 712.4 814.4 711.1 815.6 709.9 816.8 708.6 818.0 707.4 819.2 706.1 820.4 704.8 821.6 703.6 822.8 702.3 824.0 701.0 825.2 699.8 826.5 698.5 827.7 697.2" stroke="#52C41A" stroke-width="8"/>
</g>
<g stroke="#8A1CAA" stroke-width="4" stroke-linecap="round" stroke-dasharray="9.5 18.8" fill="none">
<path d="M467.7 934.0H534.0"/>
<path d="M724.8 782.8H796.0"/>
<path d="M721.0 874.3H796.0"/>
<path d="M998.4 841.6H1070.0"/>
</g>
<rect x="224.0" y="696.8" width="856.0" height="570.2" fill="none" stroke="#0a0a0a" stroke-width="6.5"/>
<g stroke="#0a0a0a" stroke-width="6.5" stroke-linecap="round">
<path d="M196 1267.0H224.0"/>
<path d="M196 1172.0H224.0"/>
<path d="M196 1076.9H224.0"/>
<path d="M196 981.9H224.0"/>
<path d="M196 886.9H224.0"/>
<path d="M196 791.8H224.0"/>
<path d="M196 696.8H224.0"/>
</g>
<text x="135.8" y="1283.2" font-family="'Liberation Sans', sans-serif" font-size="52" fill="#0a0a0a">-3</text>
<text x="135.8" y="1188.2" font-family="'Liberation Sans', sans-serif" font-size="52" fill="#0a0a0a">-2</text>
<text x="135.8" y="1093.1" font-family="'Liberation Sans', sans-serif" font-size="52" fill="#0a0a0a">-&#8199;</text><path transform="translate(153.08 1093.13) scale(0.02539 -0.02539)" d="M763 0H583V1147Q518 1085 412 1023Q307 961 223 930V1104Q374 1175 487 1276Q600 1377 647 1472H763Z" fill="#0a0a0a"/>
<text x="153.1" y="998.1" font-family="'Liberation Sans', sans-serif" font-size="52" fill="#0a0a0a">0</text>
<text x="153.1" y="903.1" font-family="'Liberation Sans', sans-serif" font-size="52" fill="#0a0a0a">&#8199;</text><path transform="translate(153.08 903.07) scale(0.02539 -0.02539)" d="M763 0H583V1147Q518 1085 412 1023Q307 961 223 930V1104Q374 1175 487 1276Q600 1377 647 1472H763Z" fill="#0a0a0a"/>
<text x="153.1" y="808.0" font-family="'Liberation Sans', sans-serif" font-size="52" fill="#0a0a0a">2</text>
<text x="153.1" y="713.0" font-family="'Liberation Sans', sans-serif" font-size="52" fill="#0a0a0a">3</text>
<text x="424.6" y="915.5" font-family="'Liberation Sans', sans-serif" font-size="48" fill="#0a0a0a">0.46</text>
<text x="804.8" y="799.0" font-family="'Liberation Sans', sans-serif" font-size="48" fill="#0a0a0a">2.&#8199;6</text><path transform="translate(844.83 799.00) scale(0.02344 -0.02344)" d="M763 0H583V1147Q518 1085 412 1023Q307 961 223 930V1104Q374 1175 487 1276Q600 1377 647 1472H763Z" fill="#0a0a0a"/>
<text x="800.0" y="888.7" font-family="'Liberation Sans', sans-serif" font-size="48" fill="#0a0a0a">&#8199;.&#8199;0</text><path transform="translate(800.00 888.70) scale(0.02344 -0.02344)" d="M763 0H583V1147Q518 1085 412 1023Q307 961 223 930V1104Q374 1175 487 1276Q600 1377 647 1472H763Z" fill="#0a0a0a"/><path transform="translate(840.03 888.70) scale(0.02344 -0.02344)" d="M763 0H583V1147Q518 1085 412 1023Q307 961 223 930V1104Q374 1175 487 1276Q600 1377 647 1472H763Z" fill="#0a0a0a"/>
<text x="983.0" y="828.7" font-family="'Liberation Sans', sans-serif" font-size="48" fill="#0a0a0a">&#8199;.43</text><path transform="translate(983.00 828.70) scale(0.02344 -0.02344)" d="M763 0H583V1147Q518 1085 412 1023Q307 961 223 930V1104Q374 1175 487 1276Q600 1377 647 1472H763Z" fill="#0a0a0a"/>
<text x="234.8" y="750.6" font-family="'Liberation Sans', sans-serif" font-size="55.5" textLength="67.5" lengthAdjust="spacingAndGlyphs" fill="#0a0a0a">(c)</text>
<g fill="#0a0a0a">
<text x="208.6" y="1328.1" font-size="66" textLength="41" lengthAdjust="spacingAndGlyphs" font-family="'Liberation Serif', serif">&#915;</text>
<text x="507.4" y="1332.5" font-size="68" font-family="'Liberation Sans', sans-serif">M</text>
<text x="697.8" y="1332.8" font-size="68" font-family="'Liberation Sans', sans-serif">K</text>
<text x="1060.8" y="1328.1" font-size="66" textLength="41" lengthAdjust="spacingAndGlyphs" font-family="'Liberation Serif', serif">&#915;</text>
</g>
<g transform="translate(113.8,1096.5) rotate(-90)" font-family="'Liberation Sans', sans-serif" fill="#0a0a0a">
<text x="0" y="0" font-size="64">E<tspan font-size="36" dy="-32">c,v</tspan><tspan dy="32"> (eV)</tspan></text>
</g>
</svg>
</body></html>
